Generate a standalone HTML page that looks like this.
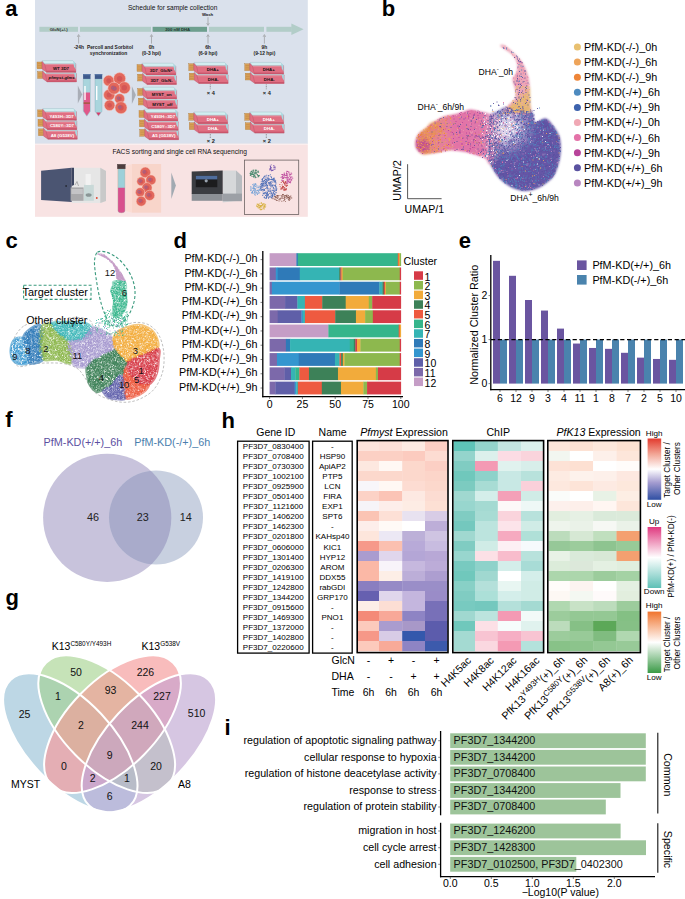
<!DOCTYPE html>
<html><head><meta charset="utf-8"><title>Figure</title>
<style>
html,body{margin:0;padding:0;background:#fff;}
body{width:685px;height:899px;overflow:hidden;}
svg{display:block;font-family:"Liberation Sans", sans-serif;}
</style></head><body>
<svg width="685" height="899" viewBox="0 0 685 899">
<text x="5.2" y="15.9" font-size="22" font-weight="bold">a</text>
<rect x="35.00" y="0.00" width="272.80" height="144.00" fill="#dae1ec"/>
<rect x="35.00" y="143.60" width="272.80" height="1.60" fill="#fbeeee"/>
<rect x="35.00" y="145.00" width="272.80" height="71.80" fill="#f8e3e3"/>
<text x="172.6" y="10.3" font-size="6.6" text-anchor="middle" fill="#111">Schedule for sample collection</text>
<rect x="39.40" y="26.80" width="38.60" height="5.00" fill="#b2cdc8"/>
<rect x="80.00" y="26.80" width="71.00" height="5.00" fill="#b2cdc8"/>
<rect x="152.60" y="26.80" width="54.40" height="5.00" fill="#6e9f8e"/>
<rect x="209.00" y="26.80" width="55.00" height="5.00" fill="#b2cdc8"/>
<rect x="266.40" y="26.80" width="25.40" height="5.00" fill="#b2cdc8"/>
<path d="M291.4 23.6 L303.6 29.3 L291.4 35 Z" fill="#b2cdc8"/>
<text x="58.7" y="30.9" font-size="4.3" text-anchor="middle" font-weight="bold" fill="#333">GlcN(+/-)</text>
<text x="177.7" y="30.9" font-size="4.3" text-anchor="middle" font-weight="bold" fill="#1e3a30">200 nM DHA</text>
<text x="207.6" y="15.9" font-size="4.3" text-anchor="middle" font-weight="bold" fill="#222">Wash</text>
<line x1="208" y1="17.2" x2="208" y2="24.2" stroke="#8c8c8c" stroke-width="0.6"/><path d="M206.7 23.2 L208 25.4 L209.3 23.2" fill="none" stroke="#8c8c8c" stroke-width="0.6"/>
<line x1="78.6" y1="35.800000000000004" x2="78.6" y2="43.6" stroke="#8c8c8c" stroke-width="0.6"/><path d="M77.3 36.800000000000004 L78.6 34.6 L79.89999999999999 36.800000000000004" fill="none" stroke="#8c8c8c" stroke-width="0.6"/>
<line x1="151.5" y1="35.800000000000004" x2="151.5" y2="43.6" stroke="#8c8c8c" stroke-width="0.6"/><path d="M150.2 36.800000000000004 L151.5 34.6 L152.8 36.800000000000004" fill="none" stroke="#8c8c8c" stroke-width="0.6"/>
<line x1="208" y1="35.800000000000004" x2="208" y2="43.6" stroke="#8c8c8c" stroke-width="0.6"/><path d="M206.7 36.800000000000004 L208 34.6 L209.3 36.800000000000004" fill="none" stroke="#8c8c8c" stroke-width="0.6"/>
<line x1="264.4" y1="35.800000000000004" x2="264.4" y2="43.6" stroke="#8c8c8c" stroke-width="0.6"/><path d="M263.09999999999997 36.800000000000004 L264.4 34.6 L265.7 36.800000000000004" fill="none" stroke="#8c8c8c" stroke-width="0.6"/>
<text x="79" y="48.9" font-size="4.9" text-anchor="middle" font-weight="bold" fill="#222">-24h</text>
<text x="151.5" y="48.9" font-size="4.9" text-anchor="middle" font-weight="bold" fill="#222">0h</text>
<text x="151.5" y="54.8" font-size="4.9" text-anchor="middle" font-weight="bold" fill="#222">(0-3 hpi)</text>
<text x="208" y="48.9" font-size="4.9" text-anchor="middle" font-weight="bold" fill="#222">6h</text>
<text x="208" y="54.8" font-size="4.9" text-anchor="middle" font-weight="bold" fill="#222">(6-9 hpi)</text>
<text x="264.4" y="48.9" font-size="4.9" text-anchor="middle" font-weight="bold" fill="#222">9h</text>
<text x="264.4" y="54.8" font-size="4.9" text-anchor="middle" font-weight="bold" fill="#222">(9-12 hpi)</text>
<text x="110" y="48.9" font-size="4.9" text-anchor="middle" font-weight="bold" fill="#222">Percoll and Sorbitol</text>
<text x="108.6" y="54.8" font-size="4.9" text-anchor="middle" font-weight="bold" fill="#222">synchronization</text>
<g transform="translate(37.60,70.20)"><rect x="0" y="1.4" width="5" height="6.8" fill="#dca25a" stroke="#a8742e" stroke-width="0.35"/><path d="M0.6 3 h3.8 M0.6 4.8 h3.8 M0.6 6.6 h3.8" stroke="#b07c38" stroke-width="0.4"/><path d="M5 0.6 L7.6 3.2 L38.8 3.2 L38.8 11.7 L9.6 11.7 L5 8.4 Z" fill="#e06f82" stroke="#b24a5e" stroke-width="0.35"/><path d="M9.6 11.7 L38.8 11.7 L38.8 10.2 L9.6 10.2 Z" fill="#c9566c"/><path d="M7.6 3.2 L38.8 3.2 L38.8 4.4 L8 4.4 Z" fill="#ea8e9c"/><path d="M7.6 3.2 L9.6 11.7" stroke="#b24a5e" stroke-width="0.35"/><path d="M5.2 0 L35.8 0 L38.8 3.2 L7.6 3.2 Z" fill="#d2edf0" stroke="#8fb4bc" stroke-width="0.35"/><path d="M36.2 0.5 L38.6 3.1 L38.6 9 L37 6 Z" fill="#a6d8e0"/><text x="24" y="9.0" font-size="4.4" font-weight="bold" text-anchor="middle" fill="#111"><tspan font-style="italic">pfmyst-glms</tspan></text></g>
<g transform="translate(37.00,60.60)"><rect x="0" y="1.4" width="5" height="6.8" fill="#dca25a" stroke="#a8742e" stroke-width="0.35"/><path d="M0.6 3 h3.8 M0.6 4.8 h3.8 M0.6 6.6 h3.8" stroke="#b07c38" stroke-width="0.4"/><path d="M5 0.6 L7.6 3.2 L38.8 3.2 L38.8 11.7 L9.6 11.7 L5 8.4 Z" fill="#e06f82" stroke="#b24a5e" stroke-width="0.35"/><path d="M9.6 11.7 L38.8 11.7 L38.8 10.2 L9.6 10.2 Z" fill="#c9566c"/><path d="M7.6 3.2 L38.8 3.2 L38.8 4.4 L8 4.4 Z" fill="#ea8e9c"/><path d="M7.6 3.2 L9.6 11.7" stroke="#b24a5e" stroke-width="0.35"/><path d="M5.2 0 L35.8 0 L38.8 3.2 L7.6 3.2 Z" fill="#d2edf0" stroke="#8fb4bc" stroke-width="0.35"/><path d="M36.2 0.5 L38.6 3.1 L38.6 9 L37 6 Z" fill="#a6d8e0"/><text x="24" y="9.0" font-size="4.4" font-weight="bold" text-anchor="middle" fill="#111">WT 3D7</text></g>
<g transform="translate(38.40,127.50)"><rect x="0" y="1.4" width="5" height="6.8" fill="#dca25a" stroke="#a8742e" stroke-width="0.35"/><path d="M0.6 3 h3.8 M0.6 4.8 h3.8 M0.6 6.6 h3.8" stroke="#b07c38" stroke-width="0.4"/><path d="M5 0.6 L7.6 3.2 L38.8 3.2 L38.8 11.7 L9.6 11.7 L5 8.4 Z" fill="#e06f82" stroke="#b24a5e" stroke-width="0.35"/><path d="M9.6 11.7 L38.8 11.7 L38.8 10.2 L9.6 10.2 Z" fill="#c9566c"/><path d="M7.6 3.2 L38.8 3.2 L38.8 4.4 L8 4.4 Z" fill="#ea8e9c"/><path d="M7.6 3.2 L9.6 11.7" stroke="#b24a5e" stroke-width="0.35"/><path d="M5.2 0 L35.8 0 L38.8 3.2 L7.6 3.2 Z" fill="#d2edf0" stroke="#8fb4bc" stroke-width="0.35"/><path d="M36.2 0.5 L38.6 3.1 L38.6 9 L37 6 Z" fill="#a6d8e0"/><text x="24" y="9.0" font-size="4.4" font-weight="bold" text-anchor="middle" fill="#fff">A8 (G538V)</text></g>
<g transform="translate(38.00,118.00)"><rect x="0" y="1.4" width="5" height="6.8" fill="#dca25a" stroke="#a8742e" stroke-width="0.35"/><path d="M0.6 3 h3.8 M0.6 4.8 h3.8 M0.6 6.6 h3.8" stroke="#b07c38" stroke-width="0.4"/><path d="M5 0.6 L7.6 3.2 L38.8 3.2 L38.8 11.7 L9.6 11.7 L5 8.4 Z" fill="#e06f82" stroke="#b24a5e" stroke-width="0.35"/><path d="M9.6 11.7 L38.8 11.7 L38.8 10.2 L9.6 10.2 Z" fill="#c9566c"/><path d="M7.6 3.2 L38.8 3.2 L38.8 4.4 L8 4.4 Z" fill="#ea8e9c"/><path d="M7.6 3.2 L9.6 11.7" stroke="#b24a5e" stroke-width="0.35"/><path d="M5.2 0 L35.8 0 L38.8 3.2 L7.6 3.2 Z" fill="#d2edf0" stroke="#8fb4bc" stroke-width="0.35"/><path d="M36.2 0.5 L38.6 3.1 L38.6 9 L37 6 Z" fill="#a6d8e0"/><text x="24" y="9.0" font-size="4.4" font-weight="bold" text-anchor="middle" fill="#fff">C580Y::3D7</text></g>
<g transform="translate(37.60,108.50)"><rect x="0" y="1.4" width="5" height="6.8" fill="#dca25a" stroke="#a8742e" stroke-width="0.35"/><path d="M0.6 3 h3.8 M0.6 4.8 h3.8 M0.6 6.6 h3.8" stroke="#b07c38" stroke-width="0.4"/><path d="M5 0.6 L7.6 3.2 L38.8 3.2 L38.8 11.7 L9.6 11.7 L5 8.4 Z" fill="#e06f82" stroke="#b24a5e" stroke-width="0.35"/><path d="M9.6 11.7 L38.8 11.7 L38.8 10.2 L9.6 10.2 Z" fill="#c9566c"/><path d="M7.6 3.2 L38.8 3.2 L38.8 4.4 L8 4.4 Z" fill="#ea8e9c"/><path d="M7.6 3.2 L9.6 11.7" stroke="#b24a5e" stroke-width="0.35"/><path d="M5.2 0 L35.8 0 L38.8 3.2 L7.6 3.2 Z" fill="#d2edf0" stroke="#8fb4bc" stroke-width="0.35"/><path d="M36.2 0.5 L38.6 3.1 L38.6 9 L37 6 Z" fill="#a6d8e0"/><text x="24" y="9.0" font-size="4.4" font-weight="bold" text-anchor="middle" fill="#fff">Y493H::3D7</text></g>
<g transform="translate(137.60,72.80)"><rect x="0" y="1.4" width="5" height="6.8" fill="#dca25a" stroke="#a8742e" stroke-width="0.35"/><path d="M0.6 3 h3.8 M0.6 4.8 h3.8 M0.6 6.6 h3.8" stroke="#b07c38" stroke-width="0.4"/><path d="M5 0.6 L7.6 3.2 L38.8 3.2 L38.8 11.7 L9.6 11.7 L5 8.4 Z" fill="#e06f82" stroke="#b24a5e" stroke-width="0.35"/><path d="M9.6 11.7 L38.8 11.7 L38.8 10.2 L9.6 10.2 Z" fill="#c9566c"/><path d="M7.6 3.2 L38.8 3.2 L38.8 4.4 L8 4.4 Z" fill="#ea8e9c"/><path d="M7.6 3.2 L9.6 11.7" stroke="#b24a5e" stroke-width="0.35"/><path d="M5.2 0 L35.8 0 L38.8 3.2 L7.6 3.2 Z" fill="#d2edf0" stroke="#8fb4bc" stroke-width="0.35"/><path d="M36.2 0.5 L38.6 3.1 L38.6 9 L37 6 Z" fill="#a6d8e0"/><text x="24" y="9.0" font-size="4.4" font-weight="bold" text-anchor="middle" fill="#111">3D7_GlcN-</text></g>
<g transform="translate(137.00,63.20)"><rect x="0" y="1.4" width="5" height="6.8" fill="#dca25a" stroke="#a8742e" stroke-width="0.35"/><path d="M0.6 3 h3.8 M0.6 4.8 h3.8 M0.6 6.6 h3.8" stroke="#b07c38" stroke-width="0.4"/><path d="M5 0.6 L7.6 3.2 L38.8 3.2 L38.8 11.7 L9.6 11.7 L5 8.4 Z" fill="#e06f82" stroke="#b24a5e" stroke-width="0.35"/><path d="M9.6 11.7 L38.8 11.7 L38.8 10.2 L9.6 10.2 Z" fill="#c9566c"/><path d="M7.6 3.2 L38.8 3.2 L38.8 4.4 L8 4.4 Z" fill="#ea8e9c"/><path d="M7.6 3.2 L9.6 11.7" stroke="#b24a5e" stroke-width="0.35"/><path d="M5.2 0 L35.8 0 L38.8 3.2 L7.6 3.2 Z" fill="#d2edf0" stroke="#8fb4bc" stroke-width="0.35"/><path d="M36.2 0.5 L38.6 3.1 L38.6 9 L37 6 Z" fill="#a6d8e0"/><text x="24" y="9.0" font-size="4.4" font-weight="bold" text-anchor="middle" fill="#111">3D7_GlcN<tspan font-size="3" dy="-1.5">+</tspan></text></g>
<g transform="translate(138.40,96.80)"><rect x="0" y="1.4" width="5" height="6.8" fill="#dca25a" stroke="#a8742e" stroke-width="0.35"/><path d="M0.6 3 h3.8 M0.6 4.8 h3.8 M0.6 6.6 h3.8" stroke="#b07c38" stroke-width="0.4"/><path d="M5 0.6 L7.6 3.2 L38.8 3.2 L38.8 11.7 L9.6 11.7 L5 8.4 Z" fill="#e06f82" stroke="#b24a5e" stroke-width="0.35"/><path d="M9.6 11.7 L38.8 11.7 L38.8 10.2 L9.6 10.2 Z" fill="#c9566c"/><path d="M7.6 3.2 L38.8 3.2 L38.8 4.4 L8 4.4 Z" fill="#ea8e9c"/><path d="M7.6 3.2 L9.6 11.7" stroke="#b24a5e" stroke-width="0.35"/><path d="M5.2 0 L35.8 0 L38.8 3.2 L7.6 3.2 Z" fill="#d2edf0" stroke="#8fb4bc" stroke-width="0.35"/><path d="M36.2 0.5 L38.6 3.1 L38.6 9 L37 6 Z" fill="#a6d8e0"/><text x="24" y="9.0" font-size="4.4" font-weight="bold" text-anchor="middle" fill="#111">MYST_off</text></g>
<g transform="translate(137.80,87.20)"><rect x="0" y="1.4" width="5" height="6.8" fill="#dca25a" stroke="#a8742e" stroke-width="0.35"/><path d="M0.6 3 h3.8 M0.6 4.8 h3.8 M0.6 6.6 h3.8" stroke="#b07c38" stroke-width="0.4"/><path d="M5 0.6 L7.6 3.2 L38.8 3.2 L38.8 11.7 L9.6 11.7 L5 8.4 Z" fill="#e06f82" stroke="#b24a5e" stroke-width="0.35"/><path d="M9.6 11.7 L38.8 11.7 L38.8 10.2 L9.6 10.2 Z" fill="#c9566c"/><path d="M7.6 3.2 L38.8 3.2 L38.8 4.4 L8 4.4 Z" fill="#ea8e9c"/><path d="M7.6 3.2 L9.6 11.7" stroke="#b24a5e" stroke-width="0.35"/><path d="M5.2 0 L35.8 0 L38.8 3.2 L7.6 3.2 Z" fill="#d2edf0" stroke="#8fb4bc" stroke-width="0.35"/><path d="M36.2 0.5 L38.6 3.1 L38.6 9 L37 6 Z" fill="#a6d8e0"/><text x="24" y="9.0" font-size="4.4" font-weight="bold" text-anchor="middle" fill="#111">MYST_on</text></g>
<g transform="translate(139.80,128.00)"><rect x="0" y="1.4" width="5" height="6.8" fill="#dca25a" stroke="#a8742e" stroke-width="0.35"/><path d="M0.6 3 h3.8 M0.6 4.8 h3.8 M0.6 6.6 h3.8" stroke="#b07c38" stroke-width="0.4"/><path d="M5 0.6 L7.6 3.2 L38.8 3.2 L38.8 11.7 L9.6 11.7 L5 8.4 Z" fill="#e06f82" stroke="#b24a5e" stroke-width="0.35"/><path d="M9.6 11.7 L38.8 11.7 L38.8 10.2 L9.6 10.2 Z" fill="#c9566c"/><path d="M7.6 3.2 L38.8 3.2 L38.8 4.4 L8 4.4 Z" fill="#ea8e9c"/><path d="M7.6 3.2 L9.6 11.7" stroke="#b24a5e" stroke-width="0.35"/><path d="M5.2 0 L35.8 0 L38.8 3.2 L7.6 3.2 Z" fill="#d2edf0" stroke="#8fb4bc" stroke-width="0.35"/><path d="M36.2 0.5 L38.6 3.1 L38.6 9 L37 6 Z" fill="#a6d8e0"/><text x="24" y="9.0" font-size="4.4" font-weight="bold" text-anchor="middle" fill="#fff">A5 (G538V)</text></g>
<g transform="translate(139.40,118.60)"><rect x="0" y="1.4" width="5" height="6.8" fill="#dca25a" stroke="#a8742e" stroke-width="0.35"/><path d="M0.6 3 h3.8 M0.6 4.8 h3.8 M0.6 6.6 h3.8" stroke="#b07c38" stroke-width="0.4"/><path d="M5 0.6 L7.6 3.2 L38.8 3.2 L38.8 11.7 L9.6 11.7 L5 8.4 Z" fill="#e06f82" stroke="#b24a5e" stroke-width="0.35"/><path d="M9.6 11.7 L38.8 11.7 L38.8 10.2 L9.6 10.2 Z" fill="#c9566c"/><path d="M7.6 3.2 L38.8 3.2 L38.8 4.4 L8 4.4 Z" fill="#ea8e9c"/><path d="M7.6 3.2 L9.6 11.7" stroke="#b24a5e" stroke-width="0.35"/><path d="M5.2 0 L35.8 0 L38.8 3.2 L7.6 3.2 Z" fill="#d2edf0" stroke="#8fb4bc" stroke-width="0.35"/><path d="M36.2 0.5 L38.6 3.1 L38.6 9 L37 6 Z" fill="#a6d8e0"/><text x="24" y="9.0" font-size="4.4" font-weight="bold" text-anchor="middle" fill="#fff">C580Y::3D7</text></g>
<g transform="translate(139.00,109.20)"><rect x="0" y="1.4" width="5" height="6.8" fill="#dca25a" stroke="#a8742e" stroke-width="0.35"/><path d="M0.6 3 h3.8 M0.6 4.8 h3.8 M0.6 6.6 h3.8" stroke="#b07c38" stroke-width="0.4"/><path d="M5 0.6 L7.6 3.2 L38.8 3.2 L38.8 11.7 L9.6 11.7 L5 8.4 Z" fill="#e06f82" stroke="#b24a5e" stroke-width="0.35"/><path d="M9.6 11.7 L38.8 11.7 L38.8 10.2 L9.6 10.2 Z" fill="#c9566c"/><path d="M7.6 3.2 L38.8 3.2 L38.8 4.4 L8 4.4 Z" fill="#ea8e9c"/><path d="M7.6 3.2 L9.6 11.7" stroke="#b24a5e" stroke-width="0.35"/><path d="M5.2 0 L35.8 0 L38.8 3.2 L7.6 3.2 Z" fill="#d2edf0" stroke="#8fb4bc" stroke-width="0.35"/><path d="M36.2 0.5 L38.6 3.1 L38.6 9 L37 6 Z" fill="#a6d8e0"/><text x="24" y="9.0" font-size="4.4" font-weight="bold" text-anchor="middle" fill="#fff">Y493H::3D7</text></g>
<g transform="translate(189.30,71.80)"><rect x="0" y="1.4" width="5" height="6.8" fill="#dca25a" stroke="#a8742e" stroke-width="0.35"/><path d="M0.6 3 h3.8 M0.6 4.8 h3.8 M0.6 6.6 h3.8" stroke="#b07c38" stroke-width="0.4"/><path d="M5 0.6 L7.6 3.2 L38.8 3.2 L38.8 11.7 L9.6 11.7 L5 8.4 Z" fill="#e06f82" stroke="#b24a5e" stroke-width="0.35"/><path d="M9.6 11.7 L38.8 11.7 L38.8 10.2 L9.6 10.2 Z" fill="#c9566c"/><path d="M7.6 3.2 L38.8 3.2 L38.8 4.4 L8 4.4 Z" fill="#ea8e9c"/><path d="M7.6 3.2 L9.6 11.7" stroke="#b24a5e" stroke-width="0.35"/><path d="M5.2 0 L35.8 0 L38.8 3.2 L7.6 3.2 Z" fill="#d2edf0" stroke="#8fb4bc" stroke-width="0.35"/><path d="M36.2 0.5 L38.6 3.1 L38.6 9 L37 6 Z" fill="#a6d8e0"/><text x="24" y="9.0" font-size="4.4" font-weight="bold" text-anchor="middle" fill="#111">DHA-</text></g>
<g transform="translate(188.80,62.40)"><rect x="0" y="1.4" width="5" height="6.8" fill="#dca25a" stroke="#a8742e" stroke-width="0.35"/><path d="M0.6 3 h3.8 M0.6 4.8 h3.8 M0.6 6.6 h3.8" stroke="#b07c38" stroke-width="0.4"/><path d="M5 0.6 L7.6 3.2 L38.8 3.2 L38.8 11.7 L9.6 11.7 L5 8.4 Z" fill="#e06f82" stroke="#b24a5e" stroke-width="0.35"/><path d="M9.6 11.7 L38.8 11.7 L38.8 10.2 L9.6 10.2 Z" fill="#c9566c"/><path d="M7.6 3.2 L38.8 3.2 L38.8 4.4 L8 4.4 Z" fill="#ea8e9c"/><path d="M7.6 3.2 L9.6 11.7" stroke="#b24a5e" stroke-width="0.35"/><path d="M5.2 0 L35.8 0 L38.8 3.2 L7.6 3.2 Z" fill="#d2edf0" stroke="#8fb4bc" stroke-width="0.35"/><path d="M36.2 0.5 L38.6 3.1 L38.6 9 L37 6 Z" fill="#a6d8e0"/><text x="24" y="9.0" font-size="4.4" font-weight="bold" text-anchor="middle" fill="#111">DHA+</text></g>
<g transform="translate(189.30,121.40)"><rect x="0" y="1.4" width="5" height="6.8" fill="#dca25a" stroke="#a8742e" stroke-width="0.35"/><path d="M0.6 3 h3.8 M0.6 4.8 h3.8 M0.6 6.6 h3.8" stroke="#b07c38" stroke-width="0.4"/><path d="M5 0.6 L7.6 3.2 L38.8 3.2 L38.8 11.7 L9.6 11.7 L5 8.4 Z" fill="#e06f82" stroke="#b24a5e" stroke-width="0.35"/><path d="M9.6 11.7 L38.8 11.7 L38.8 10.2 L9.6 10.2 Z" fill="#c9566c"/><path d="M7.6 3.2 L38.8 3.2 L38.8 4.4 L8 4.4 Z" fill="#ea8e9c"/><path d="M7.6 3.2 L9.6 11.7" stroke="#b24a5e" stroke-width="0.35"/><path d="M5.2 0 L35.8 0 L38.8 3.2 L7.6 3.2 Z" fill="#d2edf0" stroke="#8fb4bc" stroke-width="0.35"/><path d="M36.2 0.5 L38.6 3.1 L38.6 9 L37 6 Z" fill="#a6d8e0"/><text x="24" y="9.0" font-size="4.4" font-weight="bold" text-anchor="middle" fill="#fff">DHA-</text></g>
<g transform="translate(188.80,112.00)"><rect x="0" y="1.4" width="5" height="6.8" fill="#dca25a" stroke="#a8742e" stroke-width="0.35"/><path d="M0.6 3 h3.8 M0.6 4.8 h3.8 M0.6 6.6 h3.8" stroke="#b07c38" stroke-width="0.4"/><path d="M5 0.6 L7.6 3.2 L38.8 3.2 L38.8 11.7 L9.6 11.7 L5 8.4 Z" fill="#e06f82" stroke="#b24a5e" stroke-width="0.35"/><path d="M9.6 11.7 L38.8 11.7 L38.8 10.2 L9.6 10.2 Z" fill="#c9566c"/><path d="M7.6 3.2 L38.8 3.2 L38.8 4.4 L8 4.4 Z" fill="#ea8e9c"/><path d="M7.6 3.2 L9.6 11.7" stroke="#b24a5e" stroke-width="0.35"/><path d="M5.2 0 L35.8 0 L38.8 3.2 L7.6 3.2 Z" fill="#d2edf0" stroke="#8fb4bc" stroke-width="0.35"/><path d="M36.2 0.5 L38.6 3.1 L38.6 9 L37 6 Z" fill="#a6d8e0"/><text x="24" y="9.0" font-size="4.4" font-weight="bold" text-anchor="middle" fill="#fff">DHA+</text></g>
<g transform="translate(245.30,71.80)"><rect x="0" y="1.4" width="5" height="6.8" fill="#dca25a" stroke="#a8742e" stroke-width="0.35"/><path d="M0.6 3 h3.8 M0.6 4.8 h3.8 M0.6 6.6 h3.8" stroke="#b07c38" stroke-width="0.4"/><path d="M5 0.6 L7.6 3.2 L38.8 3.2 L38.8 11.7 L9.6 11.7 L5 8.4 Z" fill="#e06f82" stroke="#b24a5e" stroke-width="0.35"/><path d="M9.6 11.7 L38.8 11.7 L38.8 10.2 L9.6 10.2 Z" fill="#c9566c"/><path d="M7.6 3.2 L38.8 3.2 L38.8 4.4 L8 4.4 Z" fill="#ea8e9c"/><path d="M7.6 3.2 L9.6 11.7" stroke="#b24a5e" stroke-width="0.35"/><path d="M5.2 0 L35.8 0 L38.8 3.2 L7.6 3.2 Z" fill="#d2edf0" stroke="#8fb4bc" stroke-width="0.35"/><path d="M36.2 0.5 L38.6 3.1 L38.6 9 L37 6 Z" fill="#a6d8e0"/><text x="24" y="9.0" font-size="4.4" font-weight="bold" text-anchor="middle" fill="#111">DHA-</text></g>
<g transform="translate(244.80,62.40)"><rect x="0" y="1.4" width="5" height="6.8" fill="#dca25a" stroke="#a8742e" stroke-width="0.35"/><path d="M0.6 3 h3.8 M0.6 4.8 h3.8 M0.6 6.6 h3.8" stroke="#b07c38" stroke-width="0.4"/><path d="M5 0.6 L7.6 3.2 L38.8 3.2 L38.8 11.7 L9.6 11.7 L5 8.4 Z" fill="#e06f82" stroke="#b24a5e" stroke-width="0.35"/><path d="M9.6 11.7 L38.8 11.7 L38.8 10.2 L9.6 10.2 Z" fill="#c9566c"/><path d="M7.6 3.2 L38.8 3.2 L38.8 4.4 L8 4.4 Z" fill="#ea8e9c"/><path d="M7.6 3.2 L9.6 11.7" stroke="#b24a5e" stroke-width="0.35"/><path d="M5.2 0 L35.8 0 L38.8 3.2 L7.6 3.2 Z" fill="#d2edf0" stroke="#8fb4bc" stroke-width="0.35"/><path d="M36.2 0.5 L38.6 3.1 L38.6 9 L37 6 Z" fill="#a6d8e0"/><text x="24" y="9.0" font-size="4.4" font-weight="bold" text-anchor="middle" fill="#111">DHA+</text></g>
<g transform="translate(245.30,121.40)"><rect x="0" y="1.4" width="5" height="6.8" fill="#dca25a" stroke="#a8742e" stroke-width="0.35"/><path d="M0.6 3 h3.8 M0.6 4.8 h3.8 M0.6 6.6 h3.8" stroke="#b07c38" stroke-width="0.4"/><path d="M5 0.6 L7.6 3.2 L38.8 3.2 L38.8 11.7 L9.6 11.7 L5 8.4 Z" fill="#e06f82" stroke="#b24a5e" stroke-width="0.35"/><path d="M9.6 11.7 L38.8 11.7 L38.8 10.2 L9.6 10.2 Z" fill="#c9566c"/><path d="M7.6 3.2 L38.8 3.2 L38.8 4.4 L8 4.4 Z" fill="#ea8e9c"/><path d="M7.6 3.2 L9.6 11.7" stroke="#b24a5e" stroke-width="0.35"/><path d="M5.2 0 L35.8 0 L38.8 3.2 L7.6 3.2 Z" fill="#d2edf0" stroke="#8fb4bc" stroke-width="0.35"/><path d="M36.2 0.5 L38.6 3.1 L38.6 9 L37 6 Z" fill="#a6d8e0"/><text x="24" y="9.0" font-size="4.4" font-weight="bold" text-anchor="middle" fill="#fff">DHA-</text></g>
<g transform="translate(244.80,112.00)"><rect x="0" y="1.4" width="5" height="6.8" fill="#dca25a" stroke="#a8742e" stroke-width="0.35"/><path d="M0.6 3 h3.8 M0.6 4.8 h3.8 M0.6 6.6 h3.8" stroke="#b07c38" stroke-width="0.4"/><path d="M5 0.6 L7.6 3.2 L38.8 3.2 L38.8 11.7 L9.6 11.7 L5 8.4 Z" fill="#e06f82" stroke="#b24a5e" stroke-width="0.35"/><path d="M9.6 11.7 L38.8 11.7 L38.8 10.2 L9.6 10.2 Z" fill="#c9566c"/><path d="M7.6 3.2 L38.8 3.2 L38.8 4.4 L8 4.4 Z" fill="#ea8e9c"/><path d="M7.6 3.2 L9.6 11.7" stroke="#b24a5e" stroke-width="0.35"/><path d="M5.2 0 L35.8 0 L38.8 3.2 L7.6 3.2 Z" fill="#d2edf0" stroke="#8fb4bc" stroke-width="0.35"/><path d="M36.2 0.5 L38.6 3.1 L38.6 9 L37 6 Z" fill="#a6d8e0"/><text x="24" y="9.0" font-size="4.4" font-weight="bold" text-anchor="middle" fill="#fff">DHA+</text></g>
<line x1="210.3" y1="84.5" x2="210.3" y2="89.5" stroke="#444" stroke-width="0.6" stroke-dasharray="0.8,0.8"/>
<line x1="210.3" y1="134" x2="210.3" y2="138" stroke="#444" stroke-width="0.6" stroke-dasharray="0.8,0.8"/>
<text x="210.8" y="95.2" font-size="5.6" text-anchor="middle" font-weight="bold" fill="#222">× 4</text>
<text x="210.8" y="142.6" font-size="5.6" text-anchor="middle" font-weight="bold" fill="#222">× 2</text>
<line x1="266.3" y1="84.5" x2="266.3" y2="89.5" stroke="#444" stroke-width="0.6" stroke-dasharray="0.8,0.8"/>
<line x1="266.3" y1="134" x2="266.3" y2="138" stroke="#444" stroke-width="0.6" stroke-dasharray="0.8,0.8"/>
<text x="266.8" y="95.2" font-size="5.6" text-anchor="middle" font-weight="bold" fill="#222">× 4</text>
<text x="266.8" y="142.6" font-size="5.6" text-anchor="middle" font-weight="bold" fill="#222">× 2</text>
<path d="M77.8 85.4 L82.2 94.4 L77.8 103.4 Z" fill="#a9aeb7"/>
<path d="M131.9 86.3 L135.9 95.1 L131.9 103.9 Z" fill="#a9aeb7"/>
<path d="M83.3 78.8 h7 v32.4 l-3.5 5 l-3.5 -5 Z" fill="#a9d5dd" stroke="#7fa8b4" stroke-width="0.35"/>
<path d="M83.6 92.5 h6.4 v18.6 l-3.2 4.7 l-3.2 -4.7 Z" fill="#e0588a"/>
<rect x="83.60" y="102.40" width="6.40" height="1.40" fill="#a0583a"/>
<rect x="84.30" y="86.00" width="1.40" height="14.00" fill="#ffffff"/>
<rect x="83.10" y="74.00" width="7.40" height="4.90" fill="#3e5a8c"/>
<rect x="83.10" y="74.00" width="7.40" height="1.20" fill="#5a78a8"/>
<path d="M95.0 78.8 h7 v32.4 l-3.5 5 l-3.5 -5 Z" fill="#a9d5dd" stroke="#7fa8b4" stroke-width="0.35"/>
<path d="M96.2 112.4 h4.6 l-2.3 3.4 Z" fill="#d83c6a"/>
<rect x="96.00" y="86.00" width="1.40" height="14.00" fill="#ffffff"/>
<rect x="94.80" y="74.00" width="7.40" height="4.90" fill="#3e5a8c"/>
<rect x="94.80" y="74.00" width="7.40" height="1.20" fill="#5a78a8"/>
<circle cx="108.7" cy="80.7" r="5.4" fill="#e2685c" stroke="#f6c8c0" stroke-width="0.5"/><circle cx="108.7" cy="80.7" r="2.43" fill="#d45656"/>
<circle cx="119.6" cy="78.6" r="6" fill="#e2685c" stroke="#f6c8c0" stroke-width="0.5"/><circle cx="119.6" cy="78.6" r="2.70" fill="#d45656"/>
<circle cx="124.3" cy="87.8" r="6" fill="#e2685c" stroke="#f6c8c0" stroke-width="0.5"/><circle cx="124.3" cy="87.8" r="2.70" fill="#d45656"/>
<circle cx="109.2" cy="94.9" r="5.6" fill="#e2685c" stroke="#f6c8c0" stroke-width="0.5"/><circle cx="109.2" cy="94.9" r="2.52" fill="#d45656"/>
<circle cx="119.6" cy="98.7" r="5" fill="#e2685c" stroke="#f6c8c0" stroke-width="0.5"/><circle cx="119.6" cy="98.7" r="2.25" fill="#d45656"/><circle cx="118.39999999999999" cy="98.10000000000001" r="1.3" fill="none" stroke="#6a6ab8" stroke-width="0.5"/>
<circle cx="109.6" cy="105.3" r="5.3" fill="#e2685c" stroke="#f6c8c0" stroke-width="0.5"/><circle cx="109.6" cy="105.3" r="2.38" fill="#d45656"/>
<circle cx="121" cy="107.7" r="6" fill="#e2685c" stroke="#f6c8c0" stroke-width="0.5"/><circle cx="121" cy="107.7" r="2.70" fill="#d45656"/><circle cx="119.8" cy="107.10000000000001" r="1.3" fill="none" stroke="#6a6ab8" stroke-width="0.5"/>
<circle cx="113.9" cy="88.2" r="6" fill="#e2685c" stroke="#f6c8c0" stroke-width="0.5"/><circle cx="113.9" cy="88.2" r="2.70" fill="#d45656"/><circle cx="112.7" cy="87.60000000000001" r="1.3" fill="none" stroke="#6a6ab8" stroke-width="0.5"/><circle cx="114.9" cy="88.80000000000001" r="1.3" fill="none" stroke="#6a6ab8" stroke-width="0.5"/>
<text x="179.7" y="153.9" font-size="6.65" text-anchor="middle" fill="#111">FACS sorting and single cell RNA sequencing</text>
<path d="M71.7 167.7 L100.3 167.7 L106 171 L106 201 L100.3 202.9 L71.7 202.9 Z" fill="#e6e6e6"/>
<path d="M100.3 167.7 L106 171 L106 201 L100.3 202.9 Z" fill="#c9c9c9"/>
<path d="M41.1 170.7 L71.7 167.7 L71.7 201.9 L41.1 199.9 Z" fill="#4b5572"/>
<path d="M71.7 167.7 L74 167.7 L74 185 L71.7 186 Z" fill="#3c4560"/>
<circle cx="66.1" cy="186" r="0.8" fill="#111"/>
<rect x="70.60" y="187.40" width="13.00" height="13.40" fill="#a9a9ab"/>
<rect x="71.40" y="189.00" width="11.40" height="5.00" fill="#c4c4c6"/>
<rect x="84.00" y="184.80" width="9.80" height="16.00" fill="#c9d9d8"/>
<rect x="85.60" y="174.00" width="5.20" height="11.00" fill="#f2f2f2"/>
<ellipse cx="88.6" cy="195" rx="3" ry="1.8" fill="#8a9696"/>
<circle cx="96.8" cy="198" r="0.9" fill="#e0452c"/>
<path d="M75 185 L77 181.5 L78.5 186" stroke="#888" stroke-width="0.6" fill="none"/>
<path d="M126 166 L132 164 L132 212.7 L126 211 Z" fill="#fbdcd4"/>
<path d="M117.9 168.8 h7.1 v42 a3.55 2 0 0 1 -7.1 0 Z" fill="#9dd0d9" stroke="#c8a890" stroke-width="0.4"/>
<path d="M118.1 187.7 h6.7 v23.1 a3.35 1.9 0 0 1 -6.7 0 Z" fill="#d8508c"/>
<rect x="117.20" y="164.00" width="8.30" height="4.90" fill="#4c3e3e"/>
<rect x="117.20" y="164.00" width="8.30" height="1.00" fill="#6a5a5a"/>
<rect x="132.00" y="164.00" width="29.10" height="48.70" fill="#f8d5ca"/>
<circle cx="145.3" cy="172.4" r="5.3" fill="#e2685c" stroke="#f8d0c4" stroke-width="0.5"/><circle cx="145.3" cy="172.4" r="2.38" fill="#d45656"/><circle cx="144.10000000000002" cy="171.8" r="1.3" fill="none" stroke="#6a6ab8" stroke-width="0.5"/>
<circle cx="141.2" cy="181.4" r="4.4" fill="#e2685c" stroke="#f8d0c4" stroke-width="0.5"/><circle cx="141.2" cy="181.4" r="1.98" fill="#d45656"/><circle cx="140.0" cy="180.8" r="1.3" fill="none" stroke="#6a6ab8" stroke-width="0.5"/>
<circle cx="150.9" cy="180" r="5.1" fill="#e2685c" stroke="#f8d0c4" stroke-width="0.5"/><circle cx="150.9" cy="180" r="2.29" fill="#d45656"/><circle cx="149.70000000000002" cy="179.4" r="1.3" fill="none" stroke="#6a6ab8" stroke-width="0.5"/>
<circle cx="147" cy="187.7" r="5.1" fill="#e2685c" stroke="#f8d0c4" stroke-width="0.5"/><circle cx="147" cy="187.7" r="2.29" fill="#d45656"/><circle cx="145.8" cy="187.1" r="1.3" fill="none" stroke="#6a6ab8" stroke-width="0.5"/>
<circle cx="140.1" cy="192.3" r="4.6" fill="#e2685c" stroke="#f8d0c4" stroke-width="0.5"/><circle cx="140.1" cy="192.3" r="2.07" fill="#d45656"/><circle cx="138.9" cy="191.70000000000002" r="1.3" fill="none" stroke="#6a6ab8" stroke-width="0.5"/>
<circle cx="149.6" cy="195.4" r="5.1" fill="#e2685c" stroke="#f8d0c4" stroke-width="0.5"/><circle cx="149.6" cy="195.4" r="2.29" fill="#d45656"/><circle cx="148.4" cy="194.8" r="1.3" fill="none" stroke="#6a6ab8" stroke-width="0.5"/>
<circle cx="141.2" cy="201.2" r="5" fill="#e2685c" stroke="#f8d0c4" stroke-width="0.5"/><circle cx="141.2" cy="201.2" r="2.25" fill="#d45656"/><circle cx="140.0" cy="200.6" r="1.3" fill="none" stroke="#6a6ab8" stroke-width="0.5"/>
<path d="M171.3 172.4 L175.9 185.6 L171.3 198.9 Z" fill="#a2aab2"/>
<path d="M222.7 170.4 L236 170.4 L242 176 L242 198 L236 201 L222.7 202.5 Z" fill="#d6d8da"/>
<path d="M236 170.4 L242 176 L242 198 L236 201 Z" fill="#b8bcc0"/>
<rect x="191.70" y="193.60" width="31.00" height="7.20" fill="#8c9096"/>
<rect x="222.70" y="193.60" width="19.30" height="7.60" fill="#9ca0a6"/>
<path d="M191.7 171.6 L222.7 170.4 L222.7 193.9 L191.7 193.9 Z" fill="#3b3d42"/>
<rect x="195.80" y="175.80" width="21.50" height="11.40" fill="#1c1c1e"/>
<rect x="195.80" y="175.80" width="21.50" height="3.60" fill="#4f6d9c"/>
<circle cx="206.2" cy="180.8" r="1.6" fill="#9aa4b0"/>
<rect x="244.4" y="160.1" width="54.3" height="54.3" fill="#f9e3e3" stroke="#6c6262" stroke-width="0.8"/>
<path d="M252.6 170.5h.9v.9h-.9zM255.9 169.8h.9v.9h-.9zM254.8 172.3h.9v.9h-.9zM250.0 173.5h.9v.9h-.9zM249.8 172.8h.9v.9h-.9zM253.6 176.1h.9v.9h-.9zM250.6 171.1h.9v.9h-.9zM255.7 177.2h.9v.9h-.9zM255.2 172.5h.9v.9h-.9zM258.0 171.6h.9v.9h-.9zM252.5 176.1h.9v.9h-.9zM251.2 174.1h.9v.9h-.9zM255.8 172.3h.9v.9h-.9zM254.9 169.7h.9v.9h-.9zM256.2 172.8h.9v.9h-.9zM252.5 174.1h.9v.9h-.9zM253.9 171.7h.9v.9h-.9zM257.3 175.1h.9v.9h-.9zM251.8 174.0h.9v.9h-.9zM254.7 176.6h.9v.9h-.9zM256.7 171.6h.9v.9h-.9zM253.6 175.6h.9v.9h-.9zM250.9 173.3h.9v.9h-.9zM249.8 174.8h.9v.9h-.9zM257.0 174.0h.9v.9h-.9zM258.2 171.8h.9v.9h-.9zM256.4 174.2h.9v.9h-.9zM255.2 173.0h.9v.9h-.9zM254.1 174.8h.9v.9h-.9zM250.0 175.1h.9v.9h-.9zM257.6 171.6h.9v.9h-.9zM253.3 174.8h.9v.9h-.9zM249.6 173.1h.9v.9h-.9zM250.7 171.3h.9v.9h-.9zM253.3 176.5h.9v.9h-.9zM250.2 173.0h.9v.9h-.9zM254.9 176.6h.9v.9h-.9zM257.6 176.5h.9v.9h-.9zM252.2 172.7h.9v.9h-.9zM253.0 176.6h.9v.9h-.9zM251.2 171.1h.9v.9h-.9zM251.7 173.3h.9v.9h-.9zM255.3 171.4h.9v.9h-.9zM253.1 174.0h.9v.9h-.9zM258.9 175.0h.9v.9h-.9zM254.6 174.4h.9v.9h-.9zM256.2 169.7h.9v.9h-.9zM258.4 175.8h.9v.9h-.9zM258.1 175.9h.9v.9h-.9zM253.3 172.6h.9v.9h-.9zM250.4 174.5h.9v.9h-.9zM251.5 170.6h.9v.9h-.9zM252.8 169.6h.9v.9h-.9zM250.4 172.3h.9v.9h-.9zM255.5 170.4h.9v.9h-.9zM251.9 172.1h.9v.9h-.9zM253.0 170.2h.9v.9h-.9zM254.1 173.3h.9v.9h-.9zM252.8 171.4h.9v.9h-.9zM257.7 170.6h.9v.9h-.9zM254.7 170.4h.9v.9h-.9zM254.8 169.4h.9v.9h-.9zM254.7 177.4h.9v.9h-.9zM258.0 175.0h.9v.9h-.9zM252.0 172.3h.9v.9h-.9zM251.1 175.7h.9v.9h-.9zM254.7 175.7h.9v.9h-.9zM252.7 171.1h.9v.9h-.9zM257.9 176.0h.9v.9h-.9zM257.6 175.4h.9v.9h-.9z" fill="#4a8a70"/>
<path d="M270.0 167.5h.9v.9h-.9zM270.8 164.4h.9v.9h-.9zM270.2 168.6h.9v.9h-.9zM274.6 167.1h.9v.9h-.9zM274.6 166.5h.9v.9h-.9zM269.9 165.7h.9v.9h-.9zM269.8 165.5h.9v.9h-.9zM272.5 170.0h.9v.9h-.9zM273.9 167.3h.9v.9h-.9zM272.7 169.3h.9v.9h-.9zM269.0 168.4h.9v.9h-.9zM274.3 169.2h.9v.9h-.9zM273.3 167.3h.9v.9h-.9zM269.6 169.3h.9v.9h-.9zM270.6 169.3h.9v.9h-.9zM274.7 166.7h.9v.9h-.9zM271.1 170.3h.9v.9h-.9zM273.1 165.3h.9v.9h-.9zM269.4 169.5h.9v.9h-.9zM270.7 167.7h.9v.9h-.9zM274.7 168.4h.9v.9h-.9zM271.9 170.2h.9v.9h-.9zM271.3 169.8h.9v.9h-.9zM273.8 165.6h.9v.9h-.9zM270.1 166.1h.9v.9h-.9zM270.0 168.0h.9v.9h-.9zM270.2 166.9h.9v.9h-.9zM270.8 167.1h.9v.9h-.9zM272.2 170.0h.9v.9h-.9zM271.2 170.1h.9v.9h-.9z" fill="#7858b0"/>
<path d="M286.6 177.6h.9v.9h-.9zM286.9 171.0h.9v.9h-.9zM285.9 173.1h.9v.9h-.9zM282.7 176.9h.9v.9h-.9zM289.3 177.9h.9v.9h-.9zM284.5 177.4h.9v.9h-.9zM287.3 180.8h.9v.9h-.9zM281.9 178.0h.9v.9h-.9zM283.6 174.3h.9v.9h-.9zM289.9 177.3h.9v.9h-.9zM287.3 180.5h.9v.9h-.9zM291.5 176.5h.9v.9h-.9zM288.0 177.3h.9v.9h-.9zM286.7 179.7h.9v.9h-.9zM286.0 177.6h.9v.9h-.9zM286.3 182.9h.9v.9h-.9zM289.0 182.0h.9v.9h-.9zM287.3 182.9h.9v.9h-.9zM290.7 172.6h.9v.9h-.9zM282.1 176.5h.9v.9h-.9zM281.5 173.9h.9v.9h-.9zM281.5 179.4h.9v.9h-.9zM290.0 182.3h.9v.9h-.9zM282.5 180.0h.9v.9h-.9zM288.5 172.6h.9v.9h-.9zM285.4 177.0h.9v.9h-.9zM282.5 176.3h.9v.9h-.9zM286.8 175.1h.9v.9h-.9zM282.9 174.9h.9v.9h-.9zM287.2 176.4h.9v.9h-.9zM288.1 177.4h.9v.9h-.9zM281.9 174.2h.9v.9h-.9zM283.8 172.5h.9v.9h-.9zM285.7 182.5h.9v.9h-.9zM290.4 174.1h.9v.9h-.9zM287.4 179.8h.9v.9h-.9zM288.9 176.2h.9v.9h-.9zM288.2 181.1h.9v.9h-.9zM286.0 175.1h.9v.9h-.9zM287.2 182.7h.9v.9h-.9zM283.8 172.5h.9v.9h-.9zM286.9 173.9h.9v.9h-.9zM284.3 174.7h.9v.9h-.9zM289.7 174.5h.9v.9h-.9zM286.6 173.1h.9v.9h-.9zM289.4 177.9h.9v.9h-.9zM282.9 176.9h.9v.9h-.9zM290.4 176.3h.9v.9h-.9zM286.5 181.5h.9v.9h-.9zM285.3 177.3h.9v.9h-.9zM284.7 181.5h.9v.9h-.9zM289.1 178.9h.9v.9h-.9zM285.5 175.2h.9v.9h-.9zM281.4 180.3h.9v.9h-.9zM283.7 172.9h.9v.9h-.9zM291.0 179.4h.9v.9h-.9zM284.0 173.9h.9v.9h-.9zM284.1 176.7h.9v.9h-.9zM282.5 176.5h.9v.9h-.9zM292.3 177.8h.9v.9h-.9zM284.3 175.4h.9v.9h-.9zM286.3 177.2h.9v.9h-.9zM283.0 177.3h.9v.9h-.9zM281.7 175.9h.9v.9h-.9zM284.3 173.8h.9v.9h-.9zM287.6 177.6h.9v.9h-.9zM289.6 179.2h.9v.9h-.9zM289.2 182.1h.9v.9h-.9zM285.3 175.0h.9v.9h-.9zM289.3 179.0h.9v.9h-.9zM291.3 178.8h.9v.9h-.9zM289.4 181.2h.9v.9h-.9zM282.3 177.5h.9v.9h-.9zM286.7 181.5h.9v.9h-.9zM290.3 181.4h.9v.9h-.9zM287.6 182.2h.9v.9h-.9zM288.8 179.7h.9v.9h-.9zM282.2 175.4h.9v.9h-.9zM287.3 178.8h.9v.9h-.9zM288.1 179.5h.9v.9h-.9zM286.5 170.8h.9v.9h-.9zM290.2 180.4h.9v.9h-.9zM286.6 177.7h.9v.9h-.9zM288.5 171.6h.9v.9h-.9zM289.4 174.0h.9v.9h-.9zM281.5 174.2h.9v.9h-.9zM289.4 173.4h.9v.9h-.9zM286.5 175.7h.9v.9h-.9zM286.3 179.6h.9v.9h-.9zM289.8 178.7h.9v.9h-.9zM288.3 171.8h.9v.9h-.9zM282.4 174.1h.9v.9h-.9zM289.5 174.7h.9v.9h-.9zM287.4 171.0h.9v.9h-.9zM281.3 174.2h.9v.9h-.9zM288.7 179.7h.9v.9h-.9zM288.7 174.5h.9v.9h-.9zM286.8 176.7h.9v.9h-.9zM286.2 172.3h.9v.9h-.9zM291.3 173.4h.9v.9h-.9zM280.8 176.7h.9v.9h-.9zM286.0 174.2h.9v.9h-.9zM283.1 178.2h.9v.9h-.9zM282.3 177.5h.9v.9h-.9zM290.4 177.3h.9v.9h-.9zM291.2 179.8h.9v.9h-.9zM283.4 182.3h.9v.9h-.9zM286.4 171.1h.9v.9h-.9zM280.6 177.1h.9v.9h-.9zM286.0 174.7h.9v.9h-.9z" fill="#c050a0"/>
<path d="M262.1 182.6h.9v.9h-.9zM265.1 195.0h.9v.9h-.9zM275.4 191.8h.9v.9h-.9zM275.0 181.2h.9v.9h-.9zM266.0 183.8h.9v.9h-.9zM265.8 184.7h.9v.9h-.9zM264.6 197.4h.9v.9h-.9zM263.9 180.6h.9v.9h-.9zM268.4 178.7h.9v.9h-.9zM266.0 197.9h.9v.9h-.9zM274.7 194.3h.9v.9h-.9zM270.4 196.8h.9v.9h-.9zM275.7 187.7h.9v.9h-.9zM272.1 185.3h.9v.9h-.9zM272.5 190.1h.9v.9h-.9zM264.6 175.2h.9v.9h-.9zM267.7 182.6h.9v.9h-.9zM264.8 192.5h.9v.9h-.9zM270.9 181.5h.9v.9h-.9zM269.2 183.9h.9v.9h-.9zM262.5 178.0h.9v.9h-.9zM268.2 179.5h.9v.9h-.9zM267.3 177.5h.9v.9h-.9zM265.5 176.3h.9v.9h-.9zM263.8 180.5h.9v.9h-.9zM269.4 196.2h.9v.9h-.9zM272.4 184.3h.9v.9h-.9zM266.7 187.1h.9v.9h-.9zM266.1 182.5h.9v.9h-.9zM260.8 180.9h.9v.9h-.9zM268.3 189.7h.9v.9h-.9zM274.4 179.4h.9v.9h-.9zM264.3 180.2h.9v.9h-.9zM266.5 185.1h.9v.9h-.9zM274.9 185.8h.9v.9h-.9zM266.4 197.2h.9v.9h-.9zM273.7 195.4h.9v.9h-.9zM268.6 191.1h.9v.9h-.9zM275.7 192.0h.9v.9h-.9zM270.7 193.1h.9v.9h-.9zM267.5 187.8h.9v.9h-.9zM263.7 197.0h.9v.9h-.9zM270.7 181.6h.9v.9h-.9zM261.9 180.3h.9v.9h-.9zM270.5 191.5h.9v.9h-.9zM268.6 188.6h.9v.9h-.9zM266.3 179.6h.9v.9h-.9zM269.9 174.3h.9v.9h-.9zM264.8 185.5h.9v.9h-.9zM276.0 190.1h.9v.9h-.9zM274.7 185.9h.9v.9h-.9zM263.7 180.2h.9v.9h-.9zM268.2 190.9h.9v.9h-.9zM266.8 180.4h.9v.9h-.9zM271.0 197.1h.9v.9h-.9zM265.4 184.5h.9v.9h-.9zM271.3 179.0h.9v.9h-.9zM273.3 192.5h.9v.9h-.9zM268.3 179.1h.9v.9h-.9zM273.6 179.8h.9v.9h-.9zM263.5 193.0h.9v.9h-.9zM264.7 197.8h.9v.9h-.9zM268.1 178.7h.9v.9h-.9zM263.5 184.4h.9v.9h-.9zM271.0 197.7h.9v.9h-.9zM262.2 183.8h.9v.9h-.9zM260.7 183.8h.9v.9h-.9zM275.5 182.2h.9v.9h-.9zM271.0 183.5h.9v.9h-.9zM266.1 182.3h.9v.9h-.9zM264.5 182.8h.9v.9h-.9zM265.8 194.5h.9v.9h-.9zM273.7 184.8h.9v.9h-.9zM260.5 185.8h.9v.9h-.9zM266.0 197.0h.9v.9h-.9zM263.0 183.1h.9v.9h-.9zM266.7 194.3h.9v.9h-.9zM275.3 180.4h.9v.9h-.9zM272.4 196.5h.9v.9h-.9zM265.5 180.8h.9v.9h-.9zM276.0 189.4h.9v.9h-.9zM264.2 191.9h.9v.9h-.9zM265.1 180.9h.9v.9h-.9zM275.3 189.8h.9v.9h-.9zM263.7 185.9h.9v.9h-.9zM266.3 180.3h.9v.9h-.9zM267.0 186.3h.9v.9h-.9zM273.3 192.5h.9v.9h-.9zM273.7 193.3h.9v.9h-.9zM270.0 182.2h.9v.9h-.9zM265.1 183.0h.9v.9h-.9zM263.1 192.8h.9v.9h-.9zM260.3 187.8h.9v.9h-.9zM264.2 176.1h.9v.9h-.9zM261.3 186.5h.9v.9h-.9zM271.8 185.2h.9v.9h-.9zM263.7 184.4h.9v.9h-.9zM270.2 190.9h.9v.9h-.9zM272.4 195.2h.9v.9h-.9zM271.0 177.0h.9v.9h-.9zM274.0 181.3h.9v.9h-.9zM269.3 183.3h.9v.9h-.9zM272.2 179.0h.9v.9h-.9zM263.9 180.1h.9v.9h-.9zM269.5 182.2h.9v.9h-.9zM268.3 179.8h.9v.9h-.9zM273.4 190.3h.9v.9h-.9zM267.8 194.5h.9v.9h-.9zM261.7 178.7h.9v.9h-.9zM276.2 188.6h.9v.9h-.9zM275.5 183.3h.9v.9h-.9zM274.4 185.2h.9v.9h-.9zM264.1 193.4h.9v.9h-.9zM269.8 189.5h.9v.9h-.9zM263.4 183.2h.9v.9h-.9zM262.1 179.1h.9v.9h-.9zM264.0 189.0h.9v.9h-.9zM270.8 179.1h.9v.9h-.9zM271.2 178.6h.9v.9h-.9zM265.0 179.1h.9v.9h-.9zM273.2 187.7h.9v.9h-.9zM266.4 187.8h.9v.9h-.9zM270.6 176.3h.9v.9h-.9zM262.5 191.4h.9v.9h-.9zM266.7 181.1h.9v.9h-.9zM264.9 197.8h.9v.9h-.9zM265.0 188.2h.9v.9h-.9zM265.8 184.4h.9v.9h-.9zM265.9 178.9h.9v.9h-.9zM272.1 179.1h.9v.9h-.9zM266.9 194.5h.9v.9h-.9zM266.6 196.1h.9v.9h-.9zM267.5 178.1h.9v.9h-.9zM260.0 187.8h.9v.9h-.9zM270.6 196.7h.9v.9h-.9zM261.2 189.6h.9v.9h-.9zM266.0 186.6h.9v.9h-.9zM262.2 181.1h.9v.9h-.9zM268.6 197.1h.9v.9h-.9zM261.5 186.3h.9v.9h-.9zM263.1 177.2h.9v.9h-.9zM267.9 175.3h.9v.9h-.9zM275.4 183.7h.9v.9h-.9zM275.1 189.5h.9v.9h-.9zM273.7 178.0h.9v.9h-.9zM273.1 179.6h.9v.9h-.9zM266.6 195.2h.9v.9h-.9zM273.8 178.6h.9v.9h-.9zM263.4 184.0h.9v.9h-.9zM268.5 183.6h.9v.9h-.9zM261.8 180.2h.9v.9h-.9zM272.0 196.4h.9v.9h-.9zM260.4 188.1h.9v.9h-.9zM269.9 187.8h.9v.9h-.9zM270.4 181.7h.9v.9h-.9zM266.8 188.6h.9v.9h-.9zM266.9 190.5h.9v.9h-.9zM267.3 185.0h.9v.9h-.9zM260.1 189.5h.9v.9h-.9zM268.0 179.9h.9v.9h-.9zM272.7 193.5h.9v.9h-.9zM267.5 178.5h.9v.9h-.9zM267.7 176.7h.9v.9h-.9zM261.9 184.8h.9v.9h-.9zM261.3 185.0h.9v.9h-.9zM268.4 175.0h.9v.9h-.9zM270.5 176.1h.9v.9h-.9zM272.2 193.4h.9v.9h-.9zM268.4 175.4h.9v.9h-.9zM268.3 183.4h.9v.9h-.9zM272.1 194.4h.9v.9h-.9zM268.1 197.9h.9v.9h-.9zM260.8 182.8h.9v.9h-.9zM272.6 178.0h.9v.9h-.9zM274.9 180.9h.9v.9h-.9zM273.6 177.6h.9v.9h-.9zM268.2 197.0h.9v.9h-.9zM263.2 180.6h.9v.9h-.9zM268.3 182.0h.9v.9h-.9zM271.3 196.4h.9v.9h-.9zM262.6 193.6h.9v.9h-.9zM261.7 187.3h.9v.9h-.9zM270.5 183.0h.9v.9h-.9zM274.5 187.9h.9v.9h-.9zM269.6 196.1h.9v.9h-.9zM270.4 183.9h.9v.9h-.9zM273.3 180.6h.9v.9h-.9zM276.5 188.4h.9v.9h-.9zM265.8 193.1h.9v.9h-.9zM267.2 178.4h.9v.9h-.9zM273.6 180.3h.9v.9h-.9zM269.7 190.6h.9v.9h-.9zM270.2 184.8h.9v.9h-.9zM268.4 196.4h.9v.9h-.9zM261.9 179.7h.9v.9h-.9zM261.5 182.9h.9v.9h-.9zM263.5 188.6h.9v.9h-.9zM269.7 179.1h.9v.9h-.9zM270.3 185.9h.9v.9h-.9zM263.8 177.7h.9v.9h-.9zM261.3 190.0h.9v.9h-.9zM274.5 193.6h.9v.9h-.9zM266.5 180.6h.9v.9h-.9zM269.3 182.8h.9v.9h-.9zM270.7 185.1h.9v.9h-.9zM275.6 192.3h.9v.9h-.9zM263.9 196.6h.9v.9h-.9zM260.4 187.3h.9v.9h-.9zM266.6 179.9h.9v.9h-.9zM259.9 187.8h.9v.9h-.9zM263.1 189.2h.9v.9h-.9zM268.3 190.0h.9v.9h-.9zM273.5 178.4h.9v.9h-.9zM265.0 181.5h.9v.9h-.9zM273.0 191.9h.9v.9h-.9zM272.4 185.6h.9v.9h-.9zM272.3 185.3h.9v.9h-.9zM263.5 176.6h.9v.9h-.9zM265.4 192.7h.9v.9h-.9zM271.5 195.1h.9v.9h-.9zM271.8 180.6h.9v.9h-.9zM269.1 184.9h.9v.9h-.9zM273.1 187.1h.9v.9h-.9zM264.2 190.1h.9v.9h-.9zM264.1 179.9h.9v.9h-.9zM272.4 182.2h.9v.9h-.9zM274.7 182.2h.9v.9h-.9zM263.8 196.7h.9v.9h-.9zM270.4 191.3h.9v.9h-.9zM267.7 195.0h.9v.9h-.9zM271.6 195.4h.9v.9h-.9zM267.1 192.1h.9v.9h-.9zM269.4 181.7h.9v.9h-.9zM263.3 189.6h.9v.9h-.9zM265.6 177.5h.9v.9h-.9zM271.5 189.8h.9v.9h-.9zM271.5 192.4h.9v.9h-.9zM260.8 188.8h.9v.9h-.9zM265.9 194.4h.9v.9h-.9zM261.5 179.1h.9v.9h-.9zM274.1 194.3h.9v.9h-.9zM270.5 194.6h.9v.9h-.9zM270.4 181.2h.9v.9h-.9zM272.6 179.1h.9v.9h-.9zM265.1 184.6h.9v.9h-.9zM264.5 191.9h.9v.9h-.9zM266.0 182.0h.9v.9h-.9zM276.1 186.6h.9v.9h-.9zM274.2 189.5h.9v.9h-.9zM260.2 184.3h.9v.9h-.9zM267.1 193.3h.9v.9h-.9zM265.6 191.6h.9v.9h-.9zM268.8 179.4h.9v.9h-.9zM273.6 178.3h.9v.9h-.9zM259.8 186.3h.9v.9h-.9zM268.1 193.9h.9v.9h-.9zM262.8 186.4h.9v.9h-.9zM265.6 194.8h.9v.9h-.9zM264.5 179.4h.9v.9h-.9zM271.6 186.5h.9v.9h-.9zM261.6 189.9h.9v.9h-.9zM271.6 193.7h.9v.9h-.9zM270.4 182.9h.9v.9h-.9zM266.5 183.9h.9v.9h-.9zM263.2 180.6h.9v.9h-.9zM275.0 186.5h.9v.9h-.9zM266.1 196.1h.9v.9h-.9zM263.7 185.5h.9v.9h-.9zM268.7 192.9h.9v.9h-.9zM272.5 190.2h.9v.9h-.9zM265.6 182.2h.9v.9h-.9zM262.3 195.1h.9v.9h-.9zM271.0 192.5h.9v.9h-.9zM262.6 185.0h.9v.9h-.9zM272.8 188.5h.9v.9h-.9zM261.8 185.6h.9v.9h-.9zM274.7 179.9h.9v.9h-.9zM263.0 181.5h.9v.9h-.9zM271.7 195.1h.9v.9h-.9zM262.3 177.9h.9v.9h-.9zM263.9 182.2h.9v.9h-.9zM268.6 178.0h.9v.9h-.9zM265.3 178.7h.9v.9h-.9zM261.4 183.6h.9v.9h-.9zM272.2 184.9h.9v.9h-.9zM263.0 189.9h.9v.9h-.9zM261.5 179.2h.9v.9h-.9zM266.3 174.8h.9v.9h-.9zM266.5 193.8h.9v.9h-.9zM271.5 186.5h.9v.9h-.9zM270.5 185.6h.9v.9h-.9zM262.1 189.1h.9v.9h-.9zM266.6 192.5h.9v.9h-.9zM275.1 184.8h.9v.9h-.9zM269.5 192.7h.9v.9h-.9zM266.9 179.7h.9v.9h-.9zM272.0 196.0h.9v.9h-.9zM272.9 191.5h.9v.9h-.9zM274.2 191.0h.9v.9h-.9zM270.6 185.3h.9v.9h-.9z" fill="#5070b8"/>
<path d="M253.2 190.2h.9v.9h-.9zM250.9 187.6h.9v.9h-.9zM258.0 191.3h.9v.9h-.9zM256.4 185.4h.9v.9h-.9zM254.3 188.0h.9v.9h-.9zM256.4 187.4h.9v.9h-.9zM256.9 194.1h.9v.9h-.9zM251.8 190.6h.9v.9h-.9zM258.0 187.2h.9v.9h-.9zM255.0 194.7h.9v.9h-.9zM250.3 189.2h.9v.9h-.9zM251.6 192.2h.9v.9h-.9zM259.7 188.8h.9v.9h-.9zM251.0 189.6h.9v.9h-.9zM255.5 191.4h.9v.9h-.9zM255.2 190.4h.9v.9h-.9zM258.5 188.9h.9v.9h-.9zM254.2 194.3h.9v.9h-.9zM252.1 191.0h.9v.9h-.9zM254.0 192.0h.9v.9h-.9zM253.6 182.9h.9v.9h-.9zM252.8 187.3h.9v.9h-.9zM250.0 187.6h.9v.9h-.9zM254.3 191.1h.9v.9h-.9zM253.6 185.6h.9v.9h-.9zM252.2 191.7h.9v.9h-.9zM259.7 188.9h.9v.9h-.9zM252.2 192.5h.9v.9h-.9zM254.0 184.9h.9v.9h-.9zM251.2 192.1h.9v.9h-.9zM258.3 190.3h.9v.9h-.9zM254.8 189.4h.9v.9h-.9zM253.6 190.4h.9v.9h-.9zM258.4 192.6h.9v.9h-.9zM254.8 186.0h.9v.9h-.9zM255.6 183.8h.9v.9h-.9zM258.6 186.7h.9v.9h-.9zM258.7 185.6h.9v.9h-.9zM253.8 185.4h.9v.9h-.9zM254.3 184.6h.9v.9h-.9zM252.8 185.3h.9v.9h-.9zM253.0 188.3h.9v.9h-.9zM254.4 190.4h.9v.9h-.9zM256.8 186.8h.9v.9h-.9zM259.3 192.2h.9v.9h-.9zM251.4 192.8h.9v.9h-.9zM256.7 185.4h.9v.9h-.9zM252.3 192.1h.9v.9h-.9zM253.5 184.2h.9v.9h-.9zM259.3 192.3h.9v.9h-.9zM256.2 192.2h.9v.9h-.9zM256.9 193.6h.9v.9h-.9zM258.1 192.9h.9v.9h-.9zM252.0 191.1h.9v.9h-.9zM255.4 191.7h.9v.9h-.9zM254.5 193.5h.9v.9h-.9zM255.7 185.6h.9v.9h-.9zM252.3 184.0h.9v.9h-.9zM255.0 182.9h.9v.9h-.9zM254.8 184.0h.9v.9h-.9zM255.0 188.6h.9v.9h-.9zM255.5 193.2h.9v.9h-.9zM254.8 189.4h.9v.9h-.9zM256.8 193.0h.9v.9h-.9zM253.8 187.6h.9v.9h-.9zM256.5 190.3h.9v.9h-.9zM250.2 190.0h.9v.9h-.9zM257.0 194.1h.9v.9h-.9zM255.2 188.4h.9v.9h-.9zM257.4 190.2h.9v.9h-.9zM253.4 193.2h.9v.9h-.9zM253.7 188.3h.9v.9h-.9zM255.4 192.1h.9v.9h-.9zM252.1 187.8h.9v.9h-.9zM254.3 189.3h.9v.9h-.9zM258.5 185.9h.9v.9h-.9zM258.5 187.4h.9v.9h-.9zM255.1 185.7h.9v.9h-.9zM255.2 194.7h.9v.9h-.9zM256.7 192.3h.9v.9h-.9zM253.3 186.3h.9v.9h-.9zM253.0 189.7h.9v.9h-.9zM256.5 192.2h.9v.9h-.9zM259.1 189.2h.9v.9h-.9zM250.4 186.0h.9v.9h-.9zM259.5 190.0h.9v.9h-.9zM256.7 192.3h.9v.9h-.9zM259.4 190.0h.9v.9h-.9zM256.3 190.2h.9v.9h-.9zM257.1 189.8h.9v.9h-.9z" fill="#78a4d8"/>
<path d="M284.7 182.2h.9v.9h-.9zM284.6 184.8h.9v.9h-.9zM285.4 181.1h.9v.9h-.9zM285.5 189.5h.9v.9h-.9zM284.5 183.8h.9v.9h-.9zM285.9 188.2h.9v.9h-.9zM283.8 182.7h.9v.9h-.9zM281.7 184.4h.9v.9h-.9zM281.8 184.5h.9v.9h-.9zM284.4 189.7h.9v.9h-.9zM279.7 185.9h.9v.9h-.9zM285.8 186.0h.9v.9h-.9zM286.6 184.6h.9v.9h-.9zM279.4 184.0h.9v.9h-.9zM284.0 189.8h.9v.9h-.9zM287.1 184.9h.9v.9h-.9zM282.6 181.1h.9v.9h-.9zM284.5 182.2h.9v.9h-.9zM285.1 182.5h.9v.9h-.9zM285.2 181.9h.9v.9h-.9zM285.0 188.9h.9v.9h-.9zM285.1 180.9h.9v.9h-.9zM284.3 187.4h.9v.9h-.9zM283.0 189.7h.9v.9h-.9zM281.8 187.6h.9v.9h-.9zM280.6 189.0h.9v.9h-.9zM283.2 180.6h.9v.9h-.9zM282.2 186.0h.9v.9h-.9zM282.8 187.0h.9v.9h-.9zM280.5 188.3h.9v.9h-.9zM282.2 186.7h.9v.9h-.9zM284.3 184.3h.9v.9h-.9zM282.4 188.2h.9v.9h-.9zM283.8 183.0h.9v.9h-.9zM284.9 188.6h.9v.9h-.9zM282.0 186.3h.9v.9h-.9zM284.1 183.2h.9v.9h-.9zM282.7 189.2h.9v.9h-.9zM282.3 187.1h.9v.9h-.9zM284.1 189.3h.9v.9h-.9zM285.8 182.9h.9v.9h-.9zM282.7 186.1h.9v.9h-.9zM285.8 189.2h.9v.9h-.9zM285.8 189.0h.9v.9h-.9zM283.9 182.8h.9v.9h-.9zM286.1 188.4h.9v.9h-.9zM284.8 189.5h.9v.9h-.9zM282.1 180.9h.9v.9h-.9zM283.7 188.3h.9v.9h-.9zM280.9 187.8h.9v.9h-.9zM284.2 187.0h.9v.9h-.9zM283.0 182.1h.9v.9h-.9zM281.3 187.8h.9v.9h-.9zM285.6 184.8h.9v.9h-.9zM285.5 182.4h.9v.9h-.9zM283.9 189.3h.9v.9h-.9zM286.4 185.4h.9v.9h-.9zM283.1 186.1h.9v.9h-.9zM280.8 182.0h.9v.9h-.9zM280.7 187.3h.9v.9h-.9z" fill="#c44c4c"/>
<path d="M279.5 198.1h.9v.9h-.9zM280.2 197.7h.9v.9h-.9zM274.3 198.6h.9v.9h-.9zM287.9 195.1h.9v.9h-.9zM284.1 196.5h.9v.9h-.9zM282.6 194.1h.9v.9h-.9zM289.5 197.5h.9v.9h-.9zM283.5 195.9h.9v.9h-.9zM287.8 197.1h.9v.9h-.9zM276.2 195.3h.9v.9h-.9zM283.3 200.3h.9v.9h-.9zM281.4 200.8h.9v.9h-.9zM284.2 196.9h.9v.9h-.9zM277.3 198.1h.9v.9h-.9zM285.0 200.9h.9v.9h-.9zM285.6 196.8h.9v.9h-.9zM281.2 195.2h.9v.9h-.9zM277.3 196.5h.9v.9h-.9zM287.9 199.1h.9v.9h-.9zM285.7 196.2h.9v.9h-.9zM284.0 199.5h.9v.9h-.9zM274.3 196.3h.9v.9h-.9zM277.3 194.9h.9v.9h-.9zM281.8 195.2h.9v.9h-.9zM277.0 195.0h.9v.9h-.9zM286.5 195.4h.9v.9h-.9zM275.0 197.2h.9v.9h-.9zM289.0 198.5h.9v.9h-.9zM281.2 196.4h.9v.9h-.9zM288.7 197.4h.9v.9h-.9zM284.8 195.0h.9v.9h-.9zM286.5 198.0h.9v.9h-.9zM277.5 197.0h.9v.9h-.9zM275.3 196.0h.9v.9h-.9zM289.0 196.4h.9v.9h-.9zM275.6 197.5h.9v.9h-.9zM278.6 200.5h.9v.9h-.9zM285.6 195.5h.9v.9h-.9zM281.7 196.1h.9v.9h-.9zM277.4 195.5h.9v.9h-.9zM274.2 196.1h.9v.9h-.9zM286.7 196.1h.9v.9h-.9zM288.3 196.5h.9v.9h-.9zM288.8 197.8h.9v.9h-.9zM275.9 197.1h.9v.9h-.9zM290.4 195.6h.9v.9h-.9zM283.6 195.0h.9v.9h-.9zM275.8 199.5h.9v.9h-.9zM286.4 195.4h.9v.9h-.9zM284.4 197.6h.9v.9h-.9zM277.7 195.5h.9v.9h-.9zM284.4 199.1h.9v.9h-.9zM288.4 198.2h.9v.9h-.9zM286.9 196.9h.9v.9h-.9zM286.6 194.4h.9v.9h-.9zM288.4 196.4h.9v.9h-.9zM289.0 200.2h.9v.9h-.9zM282.1 194.1h.9v.9h-.9zM290.4 197.4h.9v.9h-.9zM289.6 195.9h.9v.9h-.9zM275.9 200.0h.9v.9h-.9zM279.5 195.2h.9v.9h-.9zM279.6 198.3h.9v.9h-.9zM272.3 197.7h.9v.9h-.9zM281.1 197.7h.9v.9h-.9zM274.6 199.1h.9v.9h-.9zM288.5 200.2h.9v.9h-.9zM278.6 199.1h.9v.9h-.9zM279.8 199.4h.9v.9h-.9zM291.3 197.6h.9v.9h-.9zM282.5 197.8h.9v.9h-.9zM282.9 194.1h.9v.9h-.9zM277.2 199.9h.9v.9h-.9zM286.2 195.4h.9v.9h-.9zM272.6 198.3h.9v.9h-.9zM283.7 197.8h.9v.9h-.9zM286.3 194.7h.9v.9h-.9zM289.6 199.2h.9v.9h-.9zM282.1 197.6h.9v.9h-.9zM277.8 194.9h.9v.9h-.9z" fill="#8a5a50"/>
<path d="M259.8 202.7h.9v.9h-.9zM261.6 208.5h.9v.9h-.9zM257.2 206.2h.9v.9h-.9zM263.2 202.9h.9v.9h-.9zM259.6 205.0h.9v.9h-.9zM264.1 205.8h.9v.9h-.9zM259.7 209.1h.9v.9h-.9zM263.5 204.3h.9v.9h-.9zM258.1 204.3h.9v.9h-.9zM260.1 209.4h.9v.9h-.9zM263.9 208.4h.9v.9h-.9zM256.2 205.7h.9v.9h-.9zM258.2 205.0h.9v.9h-.9zM262.0 204.5h.9v.9h-.9zM261.0 202.2h.9v.9h-.9zM260.0 205.6h.9v.9h-.9zM265.1 206.7h.9v.9h-.9zM263.8 208.7h.9v.9h-.9zM262.1 203.7h.9v.9h-.9zM262.5 203.8h.9v.9h-.9zM261.1 209.0h.9v.9h-.9zM261.9 203.6h.9v.9h-.9zM260.9 205.1h.9v.9h-.9zM265.2 203.9h.9v.9h-.9zM258.8 206.8h.9v.9h-.9zM256.9 206.4h.9v.9h-.9zM265.3 205.7h.9v.9h-.9zM258.4 205.3h.9v.9h-.9zM261.0 202.8h.9v.9h-.9zM258.6 204.9h.9v.9h-.9zM258.6 203.5h.9v.9h-.9zM256.6 206.0h.9v.9h-.9zM264.1 206.5h.9v.9h-.9zM261.4 206.8h.9v.9h-.9zM257.7 207.3h.9v.9h-.9zM260.3 206.0h.9v.9h-.9zM261.8 205.4h.9v.9h-.9zM258.8 203.5h.9v.9h-.9zM257.9 205.7h.9v.9h-.9zM259.5 206.3h.9v.9h-.9zM264.3 203.5h.9v.9h-.9zM261.3 205.5h.9v.9h-.9zM258.7 207.8h.9v.9h-.9zM264.4 205.1h.9v.9h-.9zM256.3 204.7h.9v.9h-.9zM260.1 207.5h.9v.9h-.9zM256.8 203.4h.9v.9h-.9zM257.2 204.3h.9v.9h-.9zM259.2 207.0h.9v.9h-.9zM261.9 208.4h.9v.9h-.9zM263.9 205.7h.9v.9h-.9zM263.1 207.5h.9v.9h-.9zM263.3 205.4h.9v.9h-.9zM263.5 207.3h.9v.9h-.9zM263.4 206.3h.9v.9h-.9zM260.7 209.3h.9v.9h-.9zM261.4 204.9h.9v.9h-.9zM263.5 208.6h.9v.9h-.9zM261.8 204.6h.9v.9h-.9zM260.2 205.3h.9v.9h-.9z" fill="#d8b040"/>
<text x="381.8" y="15.8" font-size="22" font-weight="bold">b</text>
<defs><filter id="bb" x="-10%" y="-10%" width="120%" height="120%"><feGaussianBlur stdDeviation="0.8"/></filter><radialGradient id="mg" gradientUnits="userSpaceOnUse" cx="506" cy="128" r="44" fx="506" fy="128"><stop offset="0" stop-color="#e2d8ec"/><stop offset="0.22" stop-color="#cfc4e2"/><stop offset="0.5" stop-color="#8a80bc"/><stop offset="0.7" stop-color="#6658a8"/><stop offset="1" stop-color="#6556a6"/></radialGradient><linearGradient id="lgl" gradientUnits="userSpaceOnUse" x1="415" y1="0" x2="502" y2="0"><stop offset="0" stop-color="#d8709a"/><stop offset="0.12" stop-color="#e68f5c"/><stop offset="0.3" stop-color="#e4849a"/><stop offset="0.5" stop-color="#e274a6"/><stop offset="0.8" stop-color="#de7cac"/><stop offset="1" stop-color="#d8b4d2" stop-opacity="0.4"/></linearGradient></defs>
<g filter="url(#bb)">
<path d="M490.0 116.0 C491.8 111.2 495.3 112.5 498.0 111.0 C500.7 109.5 502.3 107.2 506.0 107.0 C509.7 106.8 515.7 109.2 520.0 110.0 C524.3 110.8 529.5 110.0 532.0 112.0 C534.5 114.0 532.9 121.2 535.2 122.3 C537.5 123.4 542.6 117.7 545.7 118.4 C548.8 119.1 551.3 123.2 553.6 126.3 C555.9 129.4 558.3 132.9 559.5 136.8 C560.7 140.7 560.9 145.5 560.8 149.9 C560.7 154.3 560.0 158.7 558.8 163.1 C557.6 167.5 556.2 172.5 553.6 176.2 C551.0 179.9 546.6 183.1 543.1 185.4 C539.6 187.7 536.1 189.1 532.6 190.0 C529.1 190.9 525.7 191.2 522.0 190.7 C518.3 190.1 513.9 188.7 510.2 186.7 C506.5 184.7 502.6 181.9 499.7 178.8 C496.8 175.7 494.2 171.4 492.5 168.3 C490.8 165.2 490.1 165.1 489.2 160.4 C488.3 155.7 486.9 147.4 487.0 140.0 C487.1 132.6 488.2 120.8 490.0 116.0Z" fill="url(#mg)"/>
<path d="M424.0 129.2 C426.7 127.1 431.0 124.0 434.2 121.9 C437.4 119.8 439.8 118.0 443.0 116.8 C446.2 115.6 449.8 115.4 453.2 114.6 C456.6 113.8 460.5 112.5 463.4 111.7 C466.3 110.9 467.8 109.5 470.7 109.5 C473.6 109.5 477.2 110.9 480.9 111.7 C484.5 112.5 489.6 113.4 492.6 114.6 C495.6 115.8 497.6 115.6 499.0 119.0 C500.4 122.4 501.2 128.5 501.0 135.0 C500.8 141.5 499.9 153.1 498.0 158.0 C496.1 162.9 491.8 164.1 489.7 164.2 C487.6 164.3 487.8 160.0 485.3 158.4 C482.9 156.8 478.6 155.8 475.0 154.7 C471.4 153.6 467.8 152.5 463.4 151.8 C459.0 151.1 453.7 150.2 448.8 150.4 C443.9 150.7 438.6 152.7 434.2 153.3 C429.8 153.9 425.4 154.9 422.5 154.2 C419.6 153.5 417.7 151.0 416.5 149.0 C415.3 147.0 414.9 144.7 415.2 142.3 C415.4 139.9 416.5 136.7 418.0 134.5 C419.5 132.3 421.3 131.3 424.0 129.2Z" fill="url(#lgl)"/>
<path d="M500.0 45.8 C499.7 45.0 502.2 44.4 504.2 45.2 C506.1 46.1 509.3 48.9 511.7 50.9 C514.1 52.9 516.4 55.3 518.4 57.5 C520.4 59.7 522.0 61.8 523.4 64.2 C524.8 66.6 525.8 69.3 526.7 71.7 C527.6 74.1 528.3 75.9 528.8 78.4 C529.3 80.9 529.4 83.9 529.6 86.7 C529.8 89.5 530.0 92.3 530.1 95.1 C530.2 97.9 530.0 100.5 530.1 103.4 C530.2 106.3 532.6 110.8 530.9 112.6 C529.2 114.4 524.7 113.8 520.0 114.0 C515.3 114.2 505.0 114.3 502.5 113.5 C500.0 112.7 503.8 111.0 505.0 109.3 C506.2 107.6 508.3 105.2 510.0 103.4 C511.7 101.6 514.1 100.3 515.0 98.4 C515.9 96.5 515.7 94.0 515.5 91.8 C515.3 89.6 514.3 87.3 513.8 85.1 C513.3 82.9 512.1 80.4 512.5 78.4 C512.9 76.5 515.1 75.4 515.9 73.4 C516.7 71.5 517.5 68.9 517.5 66.7 C517.5 64.5 516.9 62.1 515.9 60.0 C514.9 57.9 513.4 55.9 511.7 54.2 C510.0 52.5 507.8 51.4 505.9 50.0 C503.9 48.6 500.3 46.6 500.0 45.8Z" fill="#eba6b8"/>
<ellipse cx="423" cy="146" rx="7" ry="6" fill="#c04c92" opacity="0.8"/>
<ellipse cx="436" cy="128" rx="9" ry="7" fill="#e8914e" opacity="0.55"/>
<path d="M508 108 C516 100 526 96 530 86 L530.5 112 C522 114 513 114 508 108 Z" fill="#e4b866" opacity="0.8"/>
</g>
<path d="M1005 95h0m4 0h0m1-3h0m5 4h0m0 4h0m3 0h0m5 7h0m0-3h0m2 5h0m1 2h0m3 3h0m2 1h0m3 9h0m2-2h0m4-2h0m1 2h0m3 3h0m0 1h0m-7 5h0m0-1h0m1 0h0m1-1h0m0-1h0m2 5h0m1 2h0m3-2h0m-6 9h0m2-4h0m0-1h0m4-1h0m3 0h0m-15 11h0m0 4h0m0-7h0m3 4h0m3-3h0m0 1h0m2 2h0m4-4h0m1 2h0m1-1h0m2-1h0m0 4h0m1 0h0m0-3h0m0 1h0m2-2h0m-22 11h0m4 2h0m1-4h0m1 2h0m3-2h0m0-1h0m4 3h0m6 3h0m7-3h0m-29 8h0m1 4h0m3-3h0m2-3h0m0 2h0m0-3h0m0 4h0m1-4h0m1 5h0m4-2h0m3-1h0m1 0h0m0 4h0m3 0h0m2-4h0m1 3h0m0-4h0m-15 7h0m6 7h0m1-1h0m1-6h0m2 1h0m1 1h0m7-2h0m0 4h0m1-3h0m2-1h0m3 1h0m0-1h0m-26 11h0m5-1h0m19 3h0m1 1h0m-25 6h0m22 3h0m0-3h0m-23 11h0m3-3h0m9-1h0m10 1h0m-29 11h0m9-5h0m11 3h0m2-3h0m0 4h0m7-5h0m2 2h0m1 0h0m3 4h0m-43 6h0m2 1h0m0-4h0m3 2h0m23-3h0m8 4h0m6 1h0m-38 4h0m13 3h0m-120 10h0m19-4h0m2-2h0m6 6h0m0-5h0m24 0h0m66 2h0m30-3h0m1 0h0m-141 13h0m2-5h0m20 4h0m6 2h0m0-3h0m0-3h0m5 5h0m7 1h0m22-2h0m-61 3h0m3 7h0m1-2h0m12-4h0m17 1h0m24 3h0m5 0h0m-64 4h0m21-1h0m12 7h0m6-4h0m9 2h0m9-5h0m17 2h0m-78 9h0m7 0h0m5 2h0m23-1h0m8-2h0m14 0h0m2 3h0m6 2h0m19-5h0m-75 9h0m17-3h0m2 2h0m2-2h0m18 5h0m12-2h0m6 2h0m10-3h0m10 3h0m-87 3h0m10 4h0m3 3h0m7-1h0m17 1h0m29-7h0m17 6h0m-53 3h0m15 1h0m2-2h0m5 5h0m3-1h0m4 3h0m19-3h0m-87 10h0m0-4h0m27-1h0m28 1h0m2 0h0m3-2h0m2 2h0m5 4h0m2-5h0m22 6h0m-79 3h0m4 2h0m29-1h0m3 3h0m19 1h0m7-3h0m-20 5h0m13 5h0m2-3h0m12-1h0m2 4h0m1-3h0m2 3h0m-21 6h0" stroke="#f0a8b4" stroke-width="1.8" stroke-linecap="square" fill="none" transform="scale(0.5)"/>
<path d="M1009 97h0m26 30h0m7-3h0m0-1h0m2 4h0m0 8h0m2-3h0m-11 4h0m11 4h0m-14 10h0m3-2h0m12-2h0m-20 10h0m7-2h0m5 4h0m4 1h0m5-2h0m7-3h0m-18 12h0m0-6h0m6 7h0m9 0h0m2-6h0m-23 10h0m0-2h0m3-1h0m21 4h0m-48 33h0m-68 18h0m1-1h0m2 0h0m1 0h0m1 0h0m2 0h0m4 0h0m1 1h0m92 0h0m-138 8h0m6 0h0m7 0h0m1 0h0m3-5h0m0 4h0m1-5h0m2 2h0m1 3h0m1-3h0m1 1h0m0-1h0m3 2h0m0-3h0m7 3h0m2 2h0m0-5h0m3 4h0m1-5h0m0-1h0m1 5h0m1 2h0m0-2h0m1-5h0m1 7h0m2-3h0m1-2h0m0-1h0m4 3h0m0 1h0m1-3h0m1 3h0m3 2h0m1-6h0m1 1h0m0-1h0m2 5h0m2-2h0m81 0h0m5 1h0m-176 10h0m4-1h0m0-1h0m12 0h0m3-5h0m4 1h0m2 3h0m1-1h0m1-1h0m1 0h0m5 3h0m1 2h0m0-7h0m7 1h0m1 5h0m4-1h0m1-1h0m1 2h0m3-5h0m1 2h0m0-1h0m9-1h0m1 0h0m4 1h0m3 2h0m2-4h0m6 5h0m0-5h0m3 1h0m0 3h0m4 1h0m0-1h0m1 1h0m0-5h0m7 0h0m4 7h0m11-1h0m4-1h0m4 0h0m1 0h0m6 1h0m3-1h0m11 2h0m14-2h0m24 2h0m1 0h0m4-2h0m11 1h0m-196 5h0m1 3h0m4-3h0m3-2h0m0 3h0m7-2h0m1-2h0m0 7h0m3-3h0m1 2h0m3-6h0m6 6h0m1 0h0m13-2h0m7-3h0m1-1h0m2 2h0m2 5h0m2-2h0m1 1h0m1-6h0m1 7h0m2-6h0m2 4h0m1 0h0m1-5h0m0 3h0m2 1h0m1 0h0m0 3h0m5-1h0m3-1h0m2-5h0m1 3h0m1 0h0m0-1h0m1 1h0m1 1h0m2 2h0m0-1h0m1 2h0m2-5h0m0 4h0m4-1h0m0 2h0m5-3h0m5 3h0m5-5h0m8 4h0m3-3h0m3-1h0m1 0h0m6-1h0m0-1h0m9 5h0m6 1h0m8-6h0m3 7h0m7-5h0m66 2h0m-241 9h0m4-2h0m3 3h0m1-6h0m1 3h0m2 3h0m5 1h0m3-4h0m3 0h0m1 0h0m2 1h0m0 1h0m1-4h0m2 2h0m1-2h0m0 4h0m0-1h0m0 3h0m2-2h0m3-5h0m0 2h0m2 3h0m1 2h0m2-6h0m4 4h0m4 1h0m2-3h0m2-2h0m0 2h0m1 3h0m1 1h0m0-6h0m1 5h0m1-5h0m1 4h0m1-3h0m1 1h0m1 1h0m3-3h0m0 4h0m0-5h0m0 4h0m0-2h0m2-2h0m0 4h0m0-3h0m5 2h0m0 3h0m0-2h0m2-2h0m1 1h0m0 3h0m3-1h0m0-5h0m2 1h0m1 0h0m1 2h0m3-1h0m3 3h0m7 1h0m1-6h0m6 6h0m0-2h0m2 1h0m5-2h0m4-1h0m1-2h0m3 4h0m2-4h0m4 6h0m4-1h0m5 0h0m2-2h0m4 1h0m1 0h0m4-1h0m1-1h0m18 2h0m12 3h0m4-2h0m2-2h0m-177 11h0m4-5h0m1 2h0m1-1h0m0 4h0m2-1h0m3-1h0m2-1h0m3 3h0m0-2h0m3-1h0m1-1h0m4-2h0m6 4h0m2-1h0m3 0h0m0-1h0m2-1h0m4 5h0m3 1h0m6-3h0m0 3h0m5-4h0m2 4h0m0-5h0m0 1h0m2 1h0m2 1h0m1 0h0m1-1h0m2 3h0m0-5h0m1-2h0m0 4h0m2-4h0m2 0h0m2 5h0m3 2h0m4-5h0m2 4h0m1-1h0m1-5h0m2 2h0m1-1h0m0 4h0m3-1h0m1-4h0m1 2h0m2 1h0m4-2h0m3 1h0m1 1h0m0 4h0m0-5h0m0-1h0m5-1h0m2 2h0m2 1h0m15 2h0m3-4h0m3 2h0m8-1h0m4 3h0m14-3h0m8 4h0m21-1h0m-203 10h0m11-2h0m2-2h0m4-2h0m3 0h0m1 6h0m0-6h0m3 4h0m8 2h0m3-6h0m3 2h0m2 1h0m7 2h0m1-4h0m4 5h0m2-7h0m1 2h0m1-2h0m2 2h0m2 2h0m2 3h0m1-7h0m1 5h0m2 0h0m1 1h0m0-2h0m1-2h0m1 5h0m1-1h0m1-2h0m2 2h0m3 0h0m0-5h0m0-1h0m2 2h0m1-2h0m1 5h0m3 2h0m1-5h0m2 4h0m0-4h0m1-2h0m4 0h0m2 1h0m1 4h0m1 2h0m0-1h0m0-1h0m1-3h0m0 4h0m2-6h0m2 6h0m1-1h0m2 1h0m3-3h0m1 2h0m2-3h0m3-1h0m1 4h0m0-1h0m5 1h0m0-3h0m1 4h0m0-5h0m4 6h0m0-3h0m13 0h0m1 2h0m2-1h0m6-1h0m2 0h0m4-4h0m6 4h0m3-2h0m1 2h0m1 0h0m5-1h0m27-2h0m1 2h0m45-2h0m-238 8h0m7 0h0m13 1h0m5 0h0m2 3h0m5 2h0m1-6h0m1-1h0m3 7h0m2-7h0m2 7h0m3-4h0m4-2h0m4 4h0m7-4h0m2 5h0m1-6h0m1 5h0m3 1h0m1 1h0m2-5h0m1 5h0m2-2h0m1 0h0m1-3h0m2 0h0m0-1h0m3-1h0m1 1h0m0 4h0m1-2h0m3-1h0m0 4h0m2 1h0m0-6h0m1 4h0m2-1h0m4 0h0m1-1h0m0 4h0m1-4h0m0 4h0m3 0h0m10-5h0m1 1h0m0-3h0m3 5h0m9-4h0m1 5h0m0-6h0m1 2h0m4 4h0m4-5h0m2 0h0m4 3h0m0-2h0m0 4h0m8-6h0m7 0h0m6 1h0m7 1h0m3 3h0m3-5h0m77 6h0m-254 8h0m7-6h0m10 6h0m2-2h0m3-3h0m4 0h0m1-1h0m3 4h0m0-1h0m0 3h0m1 1h0m4-1h0m1 1h0m5-2h0m1-3h0m2-2h0m5 4h0m1-4h0m1 5h0m4-5h0m3 5h0m7-4h0m4 1h0m1 4h0m0-2h0m1-2h0m5 1h0m1 4h0m10-5h0m1-1h0m1-1h0m0 3h0m4 3h0m0-5h0m1 1h0m3 1h0m1 3h0m1-6h0m1 7h0m1 0h0m1-4h0m3-2h0m1 4h0m2 2h0m2-2h0m0-5h0m0 7h0m2-1h0m1 0h0m1-4h0m0-1h0m1 1h0m4-1h0m2 1h0m3 3h0m0-5h0m2 0h0m5 1h0m1 6h0m10-3h0m1 0h0m1-4h0m3 0h0m0 3h0m1 0h0m9 1h0m1 3h0m3 0h0m1-5h0m1 3h0m1-1h0m14 2h0m-164 9h0m7-2h0m5-1h0m1 3h0m1-6h0m2 0h0m1 5h0m4-6h0m1 4h0m3-4h0m2 2h0m4 2h0m2-4h0m3 4h0m1-3h0m6 6h0m5 0h0m3-5h0m1 0h0m3 3h0m1 1h0m3 0h0m1-5h0m1 5h0m2-4h0m1-1h0m2 6h0m1-5h0m0-1h0m1 5h0m3-2h0m1-1h0m1 1h0m1-2h0m3 5h0m1-4h0m2-1h0m1-2h0m1 5h0m1-2h0m3 0h0m0 3h0m2-3h0m6 1h0m0-4h0m3 4h0m2-4h0m1 7h0m1-1h0m7-4h0m4 1h0m1 0h0m0-3h0m6 0h0m6 5h0m1-5h0m4 1h0m11 0h0m5 2h0m0 3h0m2-4h0m-157 13h0m15-1h0m8-4h0m3 4h0m1-6h0m1 0h0m1 0h0m1 2h0m4 5h0m3 0h0m3-1h0m5-4h0m6-1h0m3-1h0m2 0h0m1 1h0m4 0h0m9 3h0m3-2h0m6-1h0m2 3h0m5 0h0m3 0h0m2-3h0m3 4h0m1-2h0m3 1h0m3 2h0m2-4h0m3 1h0m1-1h0m2 2h0m0-1h0m5-3h0m3 4h0m2 3h0m2-5h0m1 2h0m1-2h0m1-1h0m3 3h0m3 3h0m0-5h0m3 4h0m0-5h0m2-1h0m2 7h0m5 0h0m1-5h0m0 3h0m1-3h0m11 0h0m1 2h0m-148 6h0m15-1h0m5 1h0m68-2h0m4 1h0m0 2h0m3-3h0m2 3h0m2 0h0m1 1h0m0-1h0m5 1h0m1 1h0m0-5h0m2 6h0m1-4h0m2 5h0m1-3h0m2 0h0m6 1h0m6 2h0m1 0h0m1-5h0m1 2h0m8-2h0m3 4h0m83 0h0m-106 3h0m10 6h0m1-4h0m6-1h0m0 4h0m5-4h0m7-2h0m49 6h0m-66 3h0m2-1h0m3 0h0m23 3h0m0 2h0m11 10h0m-25 2h0m15 4h0m55-5h0m20 0h0m-66 11h0m58 1h0m-41 9h0m2 0h0m12 0h0m6 6h0m-25 8h0m34 4h0" stroke="#e472a8" stroke-width="1.8" stroke-linecap="square" fill="none" transform="scale(0.5)"/>
<path d="M1033 173h0m3 1h0m1-2h0m7 2h0m1-1h0m6 0h0m2 2h0m2-2h0m3 1h0m-26 5h0m2-3h0m0 1h0m5-1h0m2 0h0m3 0h0m4 0h0m2 0h0m1 4h0m2-1h0m6 0h0m-28 6h0m1 5h0m10-2h0m3 0h0m2 3h0m5-3h0m-21 7h0m3 4h0m3-4h0m1-3h0m1 1h0m2-1h0m4 5h0m1 0h0m3-5h0m0 7h0m2-3h0m7 1h0m-32 6h0m1 3h0m8-1h0m4-5h0m1 7h0m3 0h0m2-4h0m2 0h0m2 3h0m2-5h0m1 6h0m0-3h0m6 1h0m2-4h0m-44 14h0m3-3h0m3 1h0m2 1h0m1-4h0m2 3h0m7 2h0m1-4h0m0 4h0m1-5h0m4 2h0m1-2h0m9 4h0m2 0h0m0-6h0m3 3h0m2 0h0m1 3h0m-46 7h0m5-1h0m2 3h0m1-7h0m7 7h0m0-1h0m2-3h0m0 4h0m2-3h0m1-1h0m4 1h0m0-4h0m2 1h0m4-1h0m1 7h0m6-7h0m1 0h0m0 6h0m3 1h0m2-2h0m2-1h0m2-3h0m2 6h0m0-3h0m-55 7h0m1-1h0m1-2h0m21 3h0m1 0h0m10 0h0m6 0h0m12-2h0m-69 22h0m17 10h0" stroke="#e8c070" stroke-width="1.8" stroke-linecap="square" fill="none" transform="scale(0.5)"/>
<path d="M1007 96h0m6 0h0m10 8h0m6 11h0m4-3h0m2 2h0m0 4h0m4 0h0m-2 3h0m1 2h0m2 1h0m1-1h0m3 2h0m-8 9h0m3 9h0m11-2h0m0 2h0m-8 5h0m9 0h0m-16 9h0m0 1h0m0-6h0m4 0h0m4 1h0m2 2h0m5 1h0m-22 8h0m6-3h0m0 2h0m4 0h0m8 1h0m2-1h0m8 3h0m-26 2h0m7 1h0m3-1h0m1 1h0m0 5h0m2-3h0m8 4h0m2-3h0m-22 10h0m3-3h0m5 2h0m0-5h0m6 6h0m6-2h0m2-3h0m-16 12h0m0-3h0m2-1h0m4 0h0m3 2h0m6-2h0m6 5h0m-28 5h0m2 1h0m1 3h0m5-5h0m0 2h0m3 3h0m2-3h0m4-2h0m13 1h0m-73 12h0m7-3h0m33 1h0m4 2h0m4-5h0m6 0h0m10 5h0m2-2h0m1-5h0m1 1h0m5 3h0m-79 8h0m16-2h0m0 1h0m1 0h0m9-3h0m5 6h0m2 1h0m6 0h0m15-7h0m3 5h0m0 1h0m7 0h0m1 0h0m10-4h0m-71 10h0m10 3h0m2-1h0m7-2h0m1-1h0m1 1h0m6 0h0m2 0h0m1-3h0m0 3h0m1 1h0m0 2h0m0-7h0m2 1h0m1 0h0m1 0h0m2 0h0m1 2h0m0 4h0m1-5h0m2 5h0m2-2h0m3 0h0m1 0h0m3 0h0m1 0h0m2-1h0m3 2h0m0-5h0m5 3h0m0 2h0m0-5h0m2 5h0m5 1h0m3 0h0m5-3h0m3 2h0m4-1h0m7-4h0m-140 9h0m14 4h0m11-3h0m5-1h0m5 5h0m11-1h0m6 1h0m0-1h0m4-2h0m4-3h0m1 6h0m2-7h0m1 3h0m2-3h0m1 7h0m2-3h0m0 3h0m4-6h0m3 4h0m0-3h0m0-1h0m0 3h0m3 2h0m1-5h0m1-1h0m1 6h0m1-6h0m1 2h0m2 0h0m2-1h0m3 3h0m0-3h0m1 0h0m1 3h0m1-2h0m2 5h0m2-3h0m1-2h0m4 5h0m1-4h0m1-3h0m2 3h0m0-3h0m1 0h0m0 2h0m3 1h0m1-3h0m1 1h0m2 2h0m1 4h0m2-7h0m0 1h0m0 2h0m0 3h0m5-3h0m3 1h0m2-2h0m2 2h0m3 2h0m-186 7h0m5-2h0m33 3h0m3-4h0m5 4h0m18-1h0m1-5h0m0 3h0m6 4h0m27 0h0m0-6h0m0 1h0m0 4h0m2-4h0m1-1h0m0-1h0m0 2h0m0 3h0m1 0h0m1 0h0m2-3h0m0 3h0m7 2h0m0-4h0m5-1h0m3-1h0m2 4h0m4 0h0m3-3h0m0 4h0m0-1h0m1 0h0m8-5h0m1 3h0m3 0h0m4 0h0m1 3h0m0-6h0m4 7h0m2-1h0m3-4h0m1 5h0m5-4h0m0 1h0m1-4h0m2 5h0m2-2h0m0 4h0m1-7h0m1 7h0m2-4h0m3 0h0m2 3h0m7-6h0m1 0h0m1 6h0m0-1h0m1 0h0m0 2h0m-198 7h0m9-6h0m3 7h0m12 0h0m16 0h0m32-5h0m1 0h0m8 2h0m12-2h0m2 4h0m11-5h0m5 2h0m1-1h0m0-2h0m1 5h0m4 0h0m1-5h0m1 0h0m1 2h0m2 1h0m2 2h0m1 1h0m4-3h0m4-3h0m0 3h0m26-3h0m3 1h0m1 1h0m0 2h0m1-4h0m0 2h0m1 2h0m0-4h0m1 6h0m1-5h0m5 5h0m0-1h0m1 1h0m0-1h0m4-5h0m3 6h0m3 1h0m0-1h0m6-3h0m1-1h0m2 0h0m0 2h0m3 0h0m0-3h0m2 3h0m3 3h0m1-2h0m3 0h0m2-1h0m2 0h0m2-1h0m1 1h0m2-1h0m4 3h0m1-3h0m0 2h0m0 2h0m2-7h0m1 6h0m2-5h0m1 5h0m-213 7h0m13 0h0m8 2h0m5-7h0m9 4h0m3 1h0m2-4h0m12 1h0m9 3h0m19-5h0m3 7h0m1-4h0m2 0h0m4-2h0m8 0h0m1 0h0m1-1h0m1 3h0m1 2h0m3-5h0m1 0h0m6 0h0m1 4h0m1 1h0m0 2h0m4-4h0m5-1h0m6 1h0m4 0h0m10 1h0m2 0h0m4 1h0m1 0h0m1-3h0m1 3h0m4-4h0m7 4h0m3-4h0m2 0h0m3 3h0m1-1h0m1 1h0m1 2h0m1-5h0m1 4h0m3-2h0m1 0h0m2 1h0m1-3h0m3 3h0m6-3h0m0 3h0m7 2h0m1-2h0m1-3h0m1-1h0m1 7h0m0-4h0m1 4h0m1 0h0m1-3h0m1 3h0m1-5h0m1 3h0m1 0h0m1-3h0m0 2h0m0 3h0m1-2h0m0-1h0m2-2h0m0 5h0m2-2h0m0-1h0m1 2h0m2-3h0m2 4h0m4-3h0m-186 8h0m14-3h0m2 1h0m1 1h0m12 0h0m27-1h0m4-1h0m1 0h0m0 1h0m3 5h0m3-7h0m2 4h0m0-4h0m0 3h0m1-2h0m1-1h0m7 5h0m2-2h0m7 4h0m11-7h0m2 7h0m11-6h0m4 2h0m13 4h0m0-1h0m4-2h0m1-4h0m0 3h0m3 2h0m1-1h0m0 2h0m1-1h0m1-4h0m1 1h0m0 2h0m1-3h0m3 5h0m1-3h0m3-3h0m0 1h0m1 4h0m0-1h0m1 1h0m2 2h0m0-1h0m0-5h0m1 6h0m1-3h0m6 3h0m0-7h0m2 3h0m1-1h0m1 2h0m5-1h0m3-3h0m1 4h0m5 2h0m4-1h0m2-4h0m0 2h0m1-3h0m1 7h0m5-1h0m-247 2h0m14 7h0m29-3h0m6-3h0m6-1h0m1 2h0m14 5h0m3 0h0m7-1h0m8 1h0m6-1h0m15-5h0m6 4h0m2 2h0m1-2h0m6-3h0m4 4h0m1-2h0m1 1h0m6 1h0m2 0h0m17-6h0m2 6h0m1-1h0m1-3h0m1 2h0m2 3h0m6-1h0m2-2h0m0-1h0m1 0h0m1-2h0m2 2h0m1 2h0m2-3h0m3 0h0m1 3h0m6 1h0m3 1h0m1-2h0m1-1h0m1 2h0m0-6h0m10 1h0m1 0h0m0 5h0m3-5h0m1 0h0m3-1h0m1 4h0m4-2h0m3-2h0m0 3h0m7-1h0m4 2h0m1 3h0m0-6h0m4 1h0m0 3h0m1-5h0m3 6h0m1-3h0m0 3h0m1-1h0m1 0h0m1-2h0m1-2h0m3-1h0m-247 13h0m62-1h0m8 0h0m2-3h0m13 6h0m1-5h0m6-1h0m3 1h0m2 3h0m3-1h0m1-2h0m2 1h0m4-2h0m0 3h0m3-3h0m3 6h0m2 0h0m0-4h0m2 4h0m1-7h0m1 4h0m6-2h0m2 3h0m0-4h0m0 2h0m1-2h0m0 5h0m5-1h0m5-1h0m0-1h0m0 4h0m2 0h0m5-4h0m1 0h0m2-2h0m0 5h0m13-5h0m2 1h0m1 5h0m0-5h0m1 1h0m4-3h0m0 2h0m0 5h0m4-3h0m1-1h0m1-1h0m1-1h0m2 6h0m2-5h0m0 3h0m1-3h0m2 5h0m8-6h0m0 2h0m1-2h0m2 0h0m0-1h0m1 3h0m0 2h0m1-2h0m2 1h0m1-2h0m0 5h0m2-1h0m1-5h0m1 4h0m2-3h0m4 5h0m3-3h0m1 1h0m1 1h0m2-4h0m5-1h0m2 3h0m0-4h0m2 7h0m1-3h0m1-3h0m1-1h0m8 2h0m1 0h0m1 0h0m0 5h0m1-6h0m0 5h0m5-3h0m3-1h0m1 0h0m0 1h0m1-1h0m1 1h0m0 3h0m2 0h0m2-2h0m1 0h0m0 3h0m-241 6h0m6 0h0m25 0h0m5-2h0m18 0h0m15-3h0m7 6h0m18 0h0m2-3h0m5 0h0m0 1h0m0 3h0m0-1h0m2 1h0m2-3h0m0 3h0m4-3h0m2 3h0m1-6h0m0 4h0m0 2h0m1-2h0m3 2h0m0-7h0m0 3h0m3 3h0m1-6h0m7 7h0m13-3h0m0 2h0m2-4h0m0 2h0m1-4h0m2 4h0m1-4h0m4 2h0m0-2h0m1 4h0m4-4h0m4 1h0m0 4h0m3 1h0m3 1h0m2-3h0m1 0h0m0 3h0m1-4h0m2 3h0m0-3h0m6 1h0m0 1h0m11-4h0m4 5h0m1 0h0m0-4h0m2 0h0m1 3h0m1-5h0m2 3h0m3-2h0m1 1h0m4 3h0m2-4h0m1 1h0m0 1h0m1 1h0m2-3h0m3-1h0m2 2h0m2 3h0m0-1h0m0 3h0m1 0h0m0-3h0m2 2h0m0-3h0m1-1h0m10 4h0m1-4h0m1 1h0m1 4h0m-252 3h0m3-1h0m61 5h0m9-5h0m5-1h0m8 3h0m15 1h0m7 1h0m2-3h0m5 3h0m1 1h0m0 1h0m0-7h0m1 5h0m2-1h0m2 1h0m1-5h0m0 3h0m0 2h0m2 0h0m1-2h0m2 3h0m0-6h0m0 2h0m2 3h0m1-4h0m0 5h0m1-3h0m1 0h0m1 1h0m0-4h0m2 6h0m1-2h0m0 3h0m1-6h0m2 1h0m1 0h0m0 1h0m3 0h0m0 3h0m3 0h0m0-1h0m7 2h0m1-2h0m1-5h0m0 6h0m1-3h0m5-1h0m1-2h0m0 2h0m1 4h0m1-6h0m2 0h0m2 1h0m3-1h0m2 0h0m0 5h0m1-5h0m0 6h0m1 0h0m2-6h0m1 3h0m0 3h0m3-1h0m1 2h0m1-7h0m0 3h0m1 3h0m2-1h0m1 2h0m0-4h0m2 0h0m0 3h0m1-2h0m0-1h0m0-1h0m2-1h0m7 4h0m0-2h0m1 3h0m9-5h0m2 6h0m1 0h0m3-6h0m2 0h0m1-1h0m6 2h0m2 1h0m3 1h0m0 3h0m1-6h0m1 4h0m0-2h0m0 3h0m1-1h0m0-4h0m1 6h0m5-5h0m1 0h0m0 2h0m1 0h0m0-4h0m1 4h0m3-1h0m0 2h0m1-1h0m0 2h0m2-1h0m1 2h0m4-4h0m2-2h0m3-1h0m1 7h0m-255 4h0m3 4h0m8-5h0m37 1h0m9 0h0m3-1h0m0 1h0m13 3h0m17-4h0m7 5h0m3-5h0m0 2h0m1 0h0m4 0h0m3 2h0m3 0h0m0 1h0m0-5h0m1 1h0m0 3h0m1 1h0m0-5h0m2-2h0m1 7h0m3-5h0m1 4h0m3-1h0m0-1h0m0 2h0m1-2h0m1 0h0m0 3h0m1-5h0m1 2h0m1-2h0m1 5h0m1-5h0m2 1h0m1-2h0m1 0h0m1 4h0m1 0h0m1 2h0m2-3h0m2-4h0m2 6h0m0-5h0m1 2h0m0-1h0m1 2h0m1 2h0m2-5h0m2 1h0m0 3h0m0-1h0m1-2h0m0 5h0m3-4h0m4-2h0m2 3h0m4 1h0m2-3h0m2 4h0m4 1h0m2-4h0m1 2h0m0 1h0m1 0h0m2-1h0m1-4h0m0 2h0m1 1h0m3 3h0m0-7h0m1 1h0m0 3h0m1 3h0m1-6h0m1 0h0m0 3h0m8 1h0m1 1h0m2-5h0m4 3h0m3 2h0m7-2h0m0 3h0m1-3h0m3-2h0m0 4h0m0-5h0m3 4h0m2 0h0m2-5h0m0 1h0m2 5h0m0-6h0m3 6h0m1 0h0m3-6h0m1 5h0m5 1h0m1-4h0m0 2h0m0 3h0m3-1h0m0-2h0m1-3h0m0 4h0m4-4h0m0 2h0m1 2h0m4-4h0m0-1h0m1 5h0m2 2h0m0-1h0m-164 5h0m4-2h0m5 4h0m1-2h0m6-1h0m5 3h0m1-2h0m0 3h0m2-6h0m2 6h0m3 0h0m2 0h0m1-3h0m0 4h0m2-6h0m4 4h0m1-5h0m1 4h0m1-3h0m0 6h0m3-7h0m4 2h0m0 2h0m2 1h0m0-1h0m2 1h0m2-2h0m0 1h0m1 2h0m1-5h0m1 0h0m0 5h0m0-4h0m1 1h0m1 1h0m1 1h0m3-5h0m0 3h0m2-1h0m2 3h0m0 2h0m1-3h0m1-4h0m0 2h0m1-2h0m1 6h0m2-4h0m2 5h0m0-6h0m3 1h0m2 2h0m2 0h0m1-3h0m1 1h0m1-1h0m4 0h0m2 0h0m3-1h0m3 6h0m3-4h0m1 4h0m2-5h0m4 3h0m1-4h0m1 6h0m0-5h0m2 4h0m0-1h0m3-3h0m1 2h0m4 2h0m6-5h0m4 3h0m6 1h0m0 2h0m2-5h0m2 1h0m1-2h0m1 5h0m1 1h0m0-1h0m1-3h0m0 5h0m0-6h0m4-1h0m3 7h0m0-6h0m0 4h0m1 1h0m1-1h0m3-5h0m1 7h0m1-2h0m3-2h0m0 3h0m-152 5h0m17-1h0m0 5h0m2-1h0m0-5h0m1-1h0m1 6h0m1-6h0m2 7h0m2-7h0m1 6h0m1-4h0m0 2h0m4 1h0m2-5h0m1 1h0m3 0h0m0 2h0m2 4h0m0-7h0m1 3h0m0 2h0m1-2h0m1-3h0m3 6h0m1 0h0m6-5h0m0 6h0m2-4h0m1 0h0m0 3h0m4 1h0m1-1h0m1-3h0m1 1h0m1 1h0m1 1h0m5-2h0m3-2h0m1 5h0m1-6h0m1 6h0m0-4h0m3-3h0m1 6h0m4-2h0m3-3h0m0 3h0m1-2h0m0 4h0m1-1h0m2-5h0m1 1h0m1 1h0m6-2h0m0 3h0m2 2h0m1 0h0m2-2h0m1 4h0m1-4h0m2-3h0m4 0h0m0 3h0m2 2h0m0-4h0m2 5h0m2 0h0m1 0h0m1-5h0m1 3h0m1 0h0m1 1h0m4-3h0m1 3h0m1-4h0m2 4h0m1-1h0m0-1h0m1-1h0m6 3h0m1-3h0m0 4h0m1-4h0m1 5h0m1 0h0m2-2h0m1-5h0m1 3h0m1 1h0m0-1h0m1-1h0m5-1h0m-140 8h0m1 1h0m2 0h0m1-2h0m0 6h0m3-6h0m2 1h0m0-1h0m1 3h0m1 2h0m0-3h0m3 2h0m1 3h0m1-4h0m3 4h0m0-4h0m0-1h0m6 1h0m1 4h0m7-7h0m1 2h0m4-1h0m1-1h0m1 7h0m1 0h0m2-2h0m0 2h0m1-2h0m0-2h0m4-2h0m3 4h0m5-5h0m3 4h0m4 1h0m0-5h0m0 2h0m0-1h0m3 0h0m1 6h0m2 0h0m1-5h0m1-1h0m3 4h0m3 2h0m0-7h0m2 5h0m0-1h0m0-2h0m1 2h0m4 3h0m6 0h0m5-4h0m2 4h0m1-1h0m2 0h0m1 0h0m0-3h0m1-2h0m1 5h0m1-6h0m0 3h0m1-3h0m4 1h0m3 3h0m1-2h0m8 2h0m1-3h0m0 6h0m2-2h0m0-4h0m1 5h0m1-4h0m0 1h0m1 1h0m1-3h0m3 6h0m1-4h0m0 1h0m1-4h0m-129 10h0m2 3h0m1 0h0m2 1h0m1-3h0m1-3h0m2 2h0m1 2h0m2 2h0m3-5h0m2-1h0m0 6h0m3-1h0m2-1h0m1 2h0m0-1h0m2 0h0m1-2h0m2 4h0m1-4h0m3 4h0m2-2h0m3 2h0m0-3h0m1 2h0m0-2h0m11-1h0m0 3h0m1-1h0m2-1h0m0-1h0m3 2h0m1-5h0m0 2h0m0-1h0m4 3h0m2-2h0m2 0h0m4-2h0m1 4h0m0 2h0m2 0h0m7-6h0m0 7h0m6 0h0m1-2h0m2 1h0m2-5h0m4 6h0m3-5h0m0 2h0m1 2h0m2-5h0m0-1h0m4 3h0m1 0h0m4 1h0m0 1h0m2 0h0m0-2h0m2 0h0m4 0h0m1-1h0m0 5h0m2-3h0m3-4h0m1 5h0m1-2h0m4 4h0m1-5h0m2-2h0m0 6h0m1-2h0m-123 10h0m1-3h0m2-2h0m0 1h0m1-1h0m4 6h0m0-7h0m2 1h0m0-1h0m1 0h0m8 2h0m1 1h0m1 1h0m0-3h0m1 6h0m2-6h0m4 6h0m2-7h0m2 7h0m0-5h0m0 3h0m1 0h0m2-2h0m1 4h0m4 0h0m2-1h0m2-4h0m2 1h0m5 1h0m1-2h0m1 5h0m2-5h0m1 3h0m4-5h0m1 5h0m1-5h0m3 2h0m1-2h0m0 4h0m6-3h0m4 3h0m1 3h0m4-5h0m1 4h0m3-4h0m0 2h0m0-3h0m1-1h0m4 2h0m2 5h0m1 0h0m3-4h0m1 3h0m3-2h0m1 1h0m3-3h0m2 3h0m5-5h0m1 4h0m1 1h0m3-1h0m0 3h0m0-1h0m2-1h0m0 2h0m-117 3h0m2-2h0m0 2h0m1 0h0m1 1h0m2 0h0m1 1h0m0 3h0m0-7h0m0 2h0m2 2h0m2 0h0m2 1h0m0-1h0m1-1h0m0 4h0m3-4h0m0 3h0m2-4h0m1 4h0m1-6h0m0 3h0m0 2h0m2 0h0m3 2h0m5-4h0m2-1h0m1-2h0m2 1h0m0 2h0m3-2h0m0 4h0m0 2h0m1-4h0m3-2h0m0 3h0m7-3h0m4 1h0m0-1h0m5 5h0m6-2h0m3 3h0m1-7h0m1 0h0m0 5h0m2 1h0m1 0h0m1-4h0m1 2h0m1 0h0m0 2h0m2-4h0m2 1h0m1-1h0m4 1h0m3 3h0m2-1h0m2-2h0m2 0h0m3 0h0m2 0h0m3 2h0m1-4h0m2 2h0m2 3h0m0 1h0m3-6h0m0 3h0m2-3h0m0 2h0m2 1h0m0 2h0m-109 2h0m1 4h0m0-1h0m1-1h0m1 2h0m0 1h0m4 1h0m1-5h0m1 0h0m1 6h0m0-2h0m1-2h0m1-2h0m1 4h0m6-1h0m0-1h0m3-1h0m1 5h0m1-6h0m2 4h0m0-5h0m1 7h0m2-5h0m0 5h0m3-7h0m0 7h0m1-7h0m1 0h0m3 7h0m1-5h0m0 1h0m3 4h0m2-4h0m2 3h0m0-6h0m5 3h0m0 3h0m1-1h0m1-4h0m5 3h0m1 3h0m0-7h0m1 2h0m4 3h0m1-4h0m0 4h0m3 1h0m2-5h0m1 2h0m3 1h0m4-3h0m0 2h0m5-1h0m4 4h0m3 1h0m1-1h0m1-5h0m1 6h0m0-6h0m4 2h0m2 2h0m4-5h0m-91 8h0m0 4h0m1-3h0m0 5h0m1-3h0m1 2h0m4-2h0m0-3h0m1 1h0m0 4h0m1 2h0m3-3h0m2 0h0m1 3h0m0-6h0m0 2h0m0 2h0m1 0h0m1-1h0m0 2h0m2-5h0m1 2h0m1 0h0m3 4h0m1-1h0m0-5h0m3 5h0m1-4h0m3-2h0m1 4h0m5 1h0m3-4h0m0 2h0m1-2h0m1 3h0m2-4h0m1 6h0m0-6h0m2 4h0m2-2h0m1 3h0m2-5h0m1 3h0m0 3h0m1 0h0m1-6h0m4 5h0m1-4h0m1 6h0m2-2h0m3-4h0m0 3h0m1 2h0m1-1h0m1 0h0m1 1h0m1-4h0m0 2h0m0 3h0m2 0h0m1-4h0m2 3h0m0-5h0m1 4h0m1 2h0m4-7h0m1 2h0m4-2h0m-75 12h0m3-1h0m2 0h0m1-1h0m1 0h0m0 2h0m1 0h0m1 3h0m0-5h0m2 5h0m1 0h0m1-2h0m1 1h0m0-5h0m1 4h0m4-5h0m0 6h0m1-2h0m1-1h0m3 4h0m2-6h0m1 1h0m5-2h0m1 4h0m3-2h0m2 1h0m1 2h0m2-3h0m1-2h0m0 2h0m1-1h0m2 4h0m1-4h0m3-1h0m0 2h0m5 0h0m-40 7h0m5 1h0m1-2h0m1 1h0m1 4h0m5-4h0m0 1h0m6 1h0m3 0h0m4-2h0m1 2h0m2 0h0m4-3h0" stroke="#5a52a0" stroke-width="1.8" stroke-linecap="square" fill="none" transform="scale(0.5)"/>
<path d="M1007 96h0m6 2h0m13 7h0m12 24h0m4 3h0m4 1h0m-3 7h0m-1 13h0m-3 9h0m-57 50h0m18 10h0m5 0h0m1 1h0m5-5h0m11 2h0m1 1h0m9 0h0m1-2h0m3 0h0m9 3h0m10 1h0m24-7h0m-84 15h0m2-1h0m1-6h0m2 0h0m3 2h0m6 0h0m1 4h0m3-6h0m0 3h0m3 0h0m2-2h0m2 0h0m1 3h0m3-2h0m12 5h0m7-2h0m0-1h0m1-3h0m1-1h0m2 7h0m6-3h0m3-2h0m4-2h0m1 4h0m0 2h0m3-2h0m0-1h0m-97 8h0m13 1h0m11 2h0m5-5h0m1 4h0m5 2h0m2-6h0m0 3h0m8-2h0m22-2h0m7 7h0m2-7h0m1 6h0m3-6h0m6 1h0m3 3h0m3-2h0m3 3h0m2-1h0m-94 8h0m6 3h0m3-3h0m1-3h0m4 6h0m3-4h0m1-3h0m12 5h0m13 0h0m0-5h0m11 4h0m7-4h0m12 2h0m5 1h0m6 1h0m8 1h0m1-1h0m1 3h0m0-1h0m1-2h0m3 3h0m15-3h0m1-3h0m1 0h0m0 6h0m2-7h0m4 1h0m-127 14h0m2-2h0m23-3h0m1 3h0m2-3h0m4 4h0m4-5h0m12 5h0m15-3h0m4-2h0m2 0h0m0-1h0m1 0h0m5 7h0m11-4h0m1 3h0m7 1h0m1-2h0m2-1h0m3-4h0m3 6h0m3-2h0m4-4h0m0 7h0m1-2h0m3-4h0m3 6h0m4-1h0m2-5h0m12-1h0m1 4h0m0-2h0m1 4h0m7 0h0m-141 7h0m11 1h0m5 0h0m1 0h0m5 0h0m0-6h0m1 1h0m5 2h0m0 2h0m4 0h0m0-1h0m18-3h0m7 5h0m2-2h0m4-2h0m4 3h0m3-5h0m5 0h0m3 3h0m3 0h0m4-2h0m7 0h0m0 4h0m2-5h0m1 7h0m2-5h0m7 4h0m3-5h0m6 6h0m0-7h0m1 3h0m2 0h0m2 1h0m1-3h0m1 4h0m4 0h0m4-5h0m1 4h0m11 1h0m1 0h0m-136 9h0m2 1h0m2-1h0m10-2h0m1 3h0m3-7h0m2 0h0m6 4h0m1 2h0m3-3h0m11 0h0m11-1h0m8 4h0m2 1h0m7-5h0m0 4h0m3-5h0m2 6h0m5-4h0m1-3h0m6 0h0m2 2h0m4-1h0m4 1h0m0-2h0m2 5h0m1-1h0m5-1h0m4-2h0m6 5h0m14 1h0m1-4h0m2-2h0m1 4h0m2-4h0m4 6h0m2-6h0m1-1h0m0 3h0m0-1h0m1 3h0m-144 8h0m10-2h0m0-2h0m2-1h0m3 3h0m4 2h0m9 2h0m7 0h0m13-2h0m2-5h0m4 4h0m6-4h0m1 0h0m4 2h0m3 2h0m1-4h0m2 4h0m2-1h0m7-2h0m7 3h0m2 2h0m1-1h0m2-3h0m5 4h0m4 0h0m6-1h0m4-3h0m4 5h0m2-1h0m3-1h0m7-4h0m1 4h0m0-5h0m6 7h0m-139 1h0m1 5h0m13-3h0m0-1h0m4 6h0m10-3h0m10-2h0m2-1h0m7 0h0m1 1h0m1 4h0m6-1h0m5-2h0m1 3h0m3-3h0m8 1h0m4 1h0m5 2h0m1 0h0m9-3h0m1-4h0m2 7h0m1-3h0m2-2h0m4 5h0m0-5h0m2 0h0m5 4h0m0-1h0m3-2h0m5 1h0m0-1h0m1 3h0m1-4h0m2-1h0m3 4h0m3-2h0m2 2h0m1-1h0m1 1h0m3 0h0m15 1h0m4-5h0m1 3h0m-140 5h0m6 3h0m10-1h0m0-1h0m0-2h0m6 3h0m10 0h0m3 0h0m8 2h0m16-2h0m4 1h0m4 0h0m7 0h0m2 1h0m6-4h0m3-1h0m4 2h0m2 0h0m2-1h0m1 3h0m4-1h0m3 4h0m6-7h0m5 6h0m5-4h0m1 5h0m3-4h0m6-1h0m4 5h0m0-3h0m1 2h0m2-3h0m1 4h0m3-3h0m0 3h0m-140 8h0m4-3h0m10 2h0m0-6h0m2 2h0m2 2h0m0-1h0m3 1h0m0 2h0m5 0h0m0-1h0m5 1h0m9-6h0m1 1h0m7 0h0m3 6h0m7-3h0m2-4h0m1 3h0m4-2h0m4 3h0m3 3h0m4-5h0m11 4h0m1-4h0m0 2h0m2 1h0m3-4h0m1 4h0m4-3h0m0 4h0m1-5h0m2 4h0m1 0h0m1-5h0m5 2h0m2-1h0m2 4h0m2-5h0m1 3h0m3 2h0m5-1h0m4 0h0m13-2h0m4 5h0m-149 8h0m2-2h0m3 0h0m3-4h0m1 4h0m12 2h0m1-2h0m1 2h0m1-3h0m1-2h0m4 1h0m0-1h0m12 5h0m7-3h0m1-3h0m0-1h0m9 5h0m2 1h0m1-6h0m7 4h0m12 3h0m6-4h0m3 1h0m3-2h0m10 3h0m4-2h0m11 2h0m6 0h0m8-3h0m-131 7h0m4 3h0m14 0h0m1 2h0m1-2h0m3-3h0m0 6h0m4-3h0m2 0h0m2-3h0m3 1h0m1 1h0m3-1h0m3 5h0m1-4h0m2 3h0m2 1h0m1-3h0m1-2h0m4 2h0m0 2h0m1-4h0m6-1h0m3-1h0m2 3h0m0-1h0m1 4h0m0-1h0m2 1h0m6-6h0m2 7h0m0-3h0m1 0h0m3 2h0m3-4h0m6 4h0m8-1h0m1-3h0m0 1h0m5 0h0m2-3h0m3 2h0m1 3h0m3-3h0m1 0h0m3 3h0m6-4h0m0 2h0m2-3h0m9 5h0m1-1h0m14 1h0m-141 5h0m3-1h0m2 0h0m0 6h0m2-3h0m5 3h0m12 0h0m2-5h0m3-1h0m2 5h0m5-6h0m13 1h0m2 4h0m0 1h0m11-5h0m0 6h0m5-4h0m11 0h0m1 4h0m4-6h0m2 3h0m14-1h0m19-1h0m1 2h0m2 2h0m3-3h0m11 4h0m0-7h0m-127 11h0m2 2h0m14-1h0m2-1h0m1 3h0m2-4h0m2 2h0m0-3h0m12 6h0m7-4h0m0-1h0m5 4h0m5-3h0m3 4h0m0-6h0m0-1h0m7 0h0m1 1h0m3 0h0m2 1h0m1-1h0m5 4h0m1-2h0m1-1h0m0-2h0m7 0h0m0 3h0m1-2h0m4 0h0m5 4h0m2-2h0m4-2h0m2 2h0m14 2h0m4-5h0m1 1h0m0 3h0m3 3h0m2-4h0m4 2h0m-125 6h0m4 0h0m4-1h0m1 2h0m1-3h0m1 1h0m2 1h0m5 3h0m4-2h0m13 1h0m13-5h0m0 2h0m3 0h0m4-2h0m1 2h0m1 5h0m4 0h0m1-7h0m2 2h0m3 0h0m1 5h0m3 0h0m8-4h0m5-1h0m1 5h0m1-3h0m5-2h0m3-2h0m5 3h0m1-3h0m1 3h0m8 3h0m5-3h0m2-2h0m-114 8h0m6 2h0m0-2h0m2-1h0m1 1h0m2-1h0m18 6h0m9-2h0m3 3h0m7-7h0m2 0h0m24 2h0m3 1h0m4 2h0m18 0h0m1-5h0m1 4h0m0 3h0m4-5h0m1 2h0m2-3h0m1 4h0m3 2h0m0-7h0m4 3h0m1 2h0m-108 7h0m4-2h0m2 4h0m1-2h0m1 3h0m9-2h0m2-5h0m2 1h0m1-1h0m2 0h0m4 5h0m1 2h0m7-4h0m5 3h0m1-2h0m1-1h0m0 1h0m4-4h0m0 4h0m3 1h0m2-2h0m2-3h0m5 4h0m3-1h0m6-3h0m4 2h0m0 4h0m5-4h0m6 3h0m5 2h0m1-2h0m5 1h0m0-6h0m3 2h0m0-1h0m5 4h0m-95 3h0m0 3h0m4 3h0m0-3h0m1 1h0m3 2h0m2-6h0m1 4h0m3-1h0m2-3h0m2 2h0m1 3h0m3-5h0m3 4h0m0-1h0m0 4h0m0-6h0m5 2h0m3 4h0m1-7h0m4 1h0m3 2h0m1-1h0m11 5h0m2-5h0m1-2h0m5 5h0m2-3h0m1-1h0m2 1h0m4-1h0m16 3h0m2-3h0m-72 12h0m1-4h0m6 6h0m1-4h0m2 0h0m0 4h0m1-3h0m0-3h0m2 4h0m5 2h0m4-5h0m6-1h0m3 5h0m8-3h0m2 2h0m5 2h0m6-7h0m11 1h0m-54 7h0m8 1h0m1 0h0m5 3h0m3-3h0m6 0h0m6 2h0m5-3h0" stroke="#4d8abf" stroke-width="1.8" stroke-linecap="square" fill="none" transform="scale(0.5)"/>
<path d="M1046 173h0m-15 7h0m20 2h0m1-2h0m-16 6h0m4 3h0m5-3h0m2 4h0m4 9h0m-27 7h0m2-5h0m26 3h0m-30 11h0m5 0h0m8 0h0m-49 8h0m38-6h0m10 5h0m4 0h0m1-6h0m4 3h0m1 2h0m-123 8h0m77 1h0m10-3h0m5 0h0m4 0h0m14-3h0m-148 15h0m2-2h0m5 2h0m0-5h0m7-2h0m3 3h0m1 4h0m1-2h0m16-2h0m17-2h0m15 4h0m48 2h0m2-7h0m15 5h0m2 0h0m-149 9h0m12-6h0m6 2h0m4 0h0m1 2h0m1 2h0m2 0h0m7-1h0m7 2h0m46-3h0m53 3h0m21-1h0m17-3h0m12 4h0m13 0h0m-207 6h0m4-4h0m4 3h0m0-1h0m1-1h0m1 1h0m3 1h0m5-3h0m4 5h0m0-5h0m3 1h0m4-2h0m4 4h0m2-3h0m5 0h0m30 5h0m31-5h0m26 4h0m20 0h0m13-3h0m24 4h0m-200 6h0m4 1h0m1-1h0m0-2h0m6 1h0m0 4h0m0-5h0m19 1h0m0-1h0m3 4h0m5-4h0m11 0h0m1 2h0m2-1h0m2 3h0m14-5h0m46 6h0m64-7h0m-189 15h0m7-6h0m1 1h0m5 0h0m1 1h0m2-1h0m2 1h0m3-3h0m3 6h0m7-2h0m1 0h0m6-4h0m7 1h0m1 3h0m0-1h0m5 0h0m1-1h0m0-1h0m5 2h0m18 3h0m6 0h0m33-3h0m8 2h0m45 1h0m90-3h0m21 2h0m-280 7h0m0-1h0m1 1h0m2 2h0m1-2h0m4 1h0m3 1h0m6-1h0m1-2h0m2 0h0m1-2h0m4 2h0m2 4h0m0-5h0m1 2h0m1 0h0m0-2h0m2-1h0m0-1h0m11 1h0m5 1h0m3-1h0m9-1h0m3 5h0m2 1h0m1 1h0m0-3h0m2 3h0m2-5h0m20 2h0m15-4h0m12 7h0m93-2h0m75-1h0m-283 9h0m2 1h0m3-3h0m1 0h0m1-2h0m1 6h0m3-4h0m0-3h0m6 4h0m3-3h0m4 0h0m5 1h0m4 2h0m1 3h0m4-1h0m0-3h0m5 2h0m1-4h0m2 1h0m1 3h0m4-1h0m5-1h0m8-3h0m0 1h0m23 2h0m11 3h0m6 0h0m12-2h0m5 1h0m6-1h0m1 2h0m37-3h0m2-1h0m84 3h0m27-1h0m-278 10h0m0 1h0m2-4h0m1-1h0m3 2h0m1 0h0m3-3h0m1 4h0m1 1h0m8-5h0m1 1h0m4-1h0m1 4h0m7-2h0m1 3h0m0 1h0m3-5h0m6 2h0m7 3h0m4-4h0m3-3h0m6 5h0m1-1h0m3 3h0m4-2h0m18-2h0m62-3h0m5 5h0m37-4h0m-190 8h0m3 2h0m1 0h0m1 3h0m1-5h0m6 3h0m0 2h0m2-6h0m3 5h0m5-3h0m0 2h0m1 0h0m1-4h0m4 3h0m1 0h0m3-1h0m3 1h0m1 2h0m0-5h0m1 5h0m6 1h0m3-5h0m6 1h0m1 3h0m2-2h0m1 2h0m6-1h0m31 1h0m6 0h0m-92 4h0m1 1h0m6 1h0m8-1h0m1-1h0m5 0h0m4-1h0m6 0h0m72 2h0m12 4h0m33-6h0m13 3h0m1-1h0m111 0h0m-41 12h0m-11 2h0m21 1h0m-104 11h0m61 1h0m7 9h0m16-1h0m14-5h0m-12 15h0m-57 8h0m53-7h0m3 15h0m-17 6h0m35-5h0" stroke="#eea45a" stroke-width="1.8" stroke-linecap="square" fill="none" transform="scale(0.5)"/>
<path d="M936 223h0m20-1h0m-37 5h0m2 2h0m1-4h0m8 1h0m7 4h0m3-3h0m7 3h0m2-2h0m6-3h0m1 6h0m3-7h0m-52 8h0m1 6h0m23-2h0m6 0h0m0-3h0m1-1h0m19 4h0m-45 7h0m13 2h0m25 1h0m-88 4h0m17 3h0m3 2h0m61-7h0m-56 11h0m10 2h0m20-5h0m24 3h0m9-3h0m-70 13h0m10 2h0m12-7h0m3 1h0m9 4h0m7-5h0m12 2h0m6 0h0m12 0h0m2 5h0m-116 3h0m13 4h0m2-3h0m2 4h0m7-5h0m15 2h0m31 1h0m11-2h0m7 2h0m10 1h0m0-5h0m5 0h0m7 6h0m5-7h0m2 1h0m-121 9h0m0 2h0m7-1h0m6 3h0m1-6h0m3 3h0m3 4h0m12-4h0m12 3h0m28 0h0m19 1h0m12-1h0m2-1h0m9-1h0m4-3h0m7 4h0m1 1h0m-124 6h0m6 1h0m0 2h0m4-5h0m11 2h0m1-4h0m2 1h0m38 0h0m27 0h0m13 0h0m4 3h0m4 3h0m3 0h0m9-5h0m6 0h0m-127 6h0m2 6h0m9-3h0m3-1h0m0 1h0m8 0h0m25 3h0m4-4h0m4 4h0m19-1h0m14-2h0m10 4h0m2-2h0m4-4h0m1 1h0m17 4h0m5-2h0m-118 7h0" stroke="#b8449a" stroke-width="1.8" stroke-linecap="square" fill="none" transform="scale(0.5)"/>
<path d="M894 238h0m7-2h0m-9 5h0m-34 14h0m2-1h0m1-2h0m10 3h0m3-3h0m0 2h0m-19 9h0m3-5h0m2 0h0m20 5h0m3-1h0m8-4h0m-54 11h0m4 2h0m1-1h0m0-1h0m1-1h0m1 1h0m0-4h0m8 3h0m11 0h0m3 0h0m4 0h0m9 2h0m10-3h0m2 4h0m-54 1h0m2 1h0m0 6h0m5-1h0m2-5h0m5 3h0m5 3h0m6-3h0m0-1h0m4-2h0m3-1h0m12 7h0m10-2h0m-56 8h0m3-1h0m2 3h0m5-7h0m11 1h0m3 6h0m2 0h0m6-6h0m10 0h0m3-1h0m18 4h0m-64 11h0m4 0h0m8 0h0m4-6h0m0 3h0m19 3h0m8-2h0m11 0h0m5-3h0m2 1h0m5-1h0m-47 12h0m21-5h0m0 5h0m15-5h0m-41 7h0m7 0h0m17 0h0m8 0h0m3 0h0" stroke="#ee8538" stroke-width="1.8" stroke-linecap="square" fill="none" transform="scale(0.5)"/>
<path d="M970 229h0m1-2h0m37 2h0m13 1h0m11-1h0m1-1h0m-65 10h0m5-2h0m15 0h0m10 2h0m7-3h0m4 3h0m1-3h0m6 1h0m1 0h0m1 1h0m1-3h0m14-2h0m23 1h0m-88 12h0m1-2h0m1-3h0m3 7h0m17-1h0m0-6h0m4 1h0m5 0h0m4 6h0m7-2h0m3 2h0m6-2h0m0 1h0m2 1h0m1-4h0m2-2h0m0 1h0m3 5h0m7-5h0m3 4h0m-68 3h0m6 5h0m6 1h0m7-3h0m1 0h0m1 0h0m4-1h0m1 0h0m0-1h0m2 0h0m3 4h0m3-5h0m7 0h0m5 2h0m2 1h0m2 1h0m11-1h0m2-1h0m1 2h0m2 2h0m0-1h0m-62 7h0m1 0h0m9-1h0m7 3h0m6-4h0m4-1h0m2 0h0m1-1h0m2 2h0m8 2h0m2-3h0m3-1h0m1 0h0m1 1h0m4-1h0m1 5h0m0-5h0m1 4h0m0 1h0m6 1h0m8 0h0m9-4h0m38 1h0m-122 7h0m3 3h0m9-1h0m10-2h0m0 1h0m2 3h0m4-2h0m5-4h0m0 2h0m3 4h0m3-3h0m2 1h0m0-3h0m2-2h0m2 4h0m2 1h0m6 2h0m2-5h0m0 1h0m7-3h0m73 3h0m-135 12h0m10-2h0m8 2h0m0-7h0m2 1h0m4-1h0m4 3h0m1-1h0m1-1h0m2-1h0m3 7h0m1 0h0m2-3h0m1 0h0m4 3h0m6-7h0m5 0h0m0 6h0m6-2h0m12-1h0m24 0h0m24-2h0m-109 12h0m8-1h0m8-3h0m18-1h0m2 1h0m15 4h0m3 2h0m31-3h0m30-1h0m-119 10h0m2 1h0m3-6h0m10 5h0m1 0h0m4-4h0m18 1h0m86-1h0m-120 9h0m0 4h0m7-1h0m3-3h0m1 3h0m4 1h0m25 1h0m-50 7h0m8 0h0m2-3h0m9 4h0m5-1h0m5-2h0m-31 5h0m9-1h0m1 1h0m1-1h0m99 3h0m5 3h0m-98 7h0m2-2h0m31-2h0m33 3h0m-18 9h0m46-5h0m-36 23h0m-15 20h0m54-1h0" stroke="#ffffff" stroke-width="1.8" stroke-linecap="square" fill="none" transform="scale(0.5)"/>
<path d="M1001 223h0m7-5h0m1 4h0m3 0h0m2-2h0m3 1h0m0-1h0m4 3h0m2 0h0m0-1h0m1-2h0m1 1h0m18 1h0m-49 4h0m7 2h0m1-2h0m1 5h0m1 0h0m2-3h0m4-1h0m5 4h0m1-2h0m13-2h0m7 0h0m3 1h0m1 1h0m5-1h0m8-4h0m1 4h0m2 1h0m5-5h0m1 3h0m1 0h0m-82 9h0m2 2h0m1-4h0m0-1h0m13 1h0m30-2h0m5 1h0m5 6h0m0-6h0m7 5h0m6-5h0m2 0h0m3-1h0m3 4h0m0-3h0m-23 10h0m3-2h0m10-1h0m1 7h0m8-5h0m14 3h0m4-2h0m0 1h0m1-1h0m2 2h0m1-3h0m5-2h0m7 1h0m2-1h0m3 4h0m-108 4h0m56 7h0m1-1h0m3 0h0m2-6h0m1 2h0m1-2h0m7 1h0m1-1h0m1 4h0m1-3h0m1 1h0m1 1h0m3 0h0m4 1h0m2 0h0m1 3h0m4-3h0m2-2h0m1 2h0m4-2h0m7 5h0m3-2h0m2-5h0m1 5h0m0-5h0m2 6h0m5-2h0m-67 11h0m1-2h0m5-5h0m10 0h0m5 4h0m4 3h0m0-7h0m2 4h0m3 0h0m8 1h0m3 2h0m4-4h0m2 2h0m1-2h0m11-1h0m9 4h0m0-2h0m2-2h0m-132 13h0m7-6h0m52 4h0m2-5h0m6 5h0m0-5h0m1 6h0m6-6h0m1 7h0m2-4h0m2-3h0m1 0h0m3 3h0m9-2h0m2 5h0m13 1h0m4 0h0m1-2h0m9-5h0m2 0h0m13 3h0m1 4h0m-137 4h0m3 0h0m1 4h0m5-2h0m7-1h0m1 1h0m6 2h0m10 0h0m17-2h0m10 0h0m7 0h0m7-3h0m9-1h0m1 2h0m4-1h0m3 2h0m5 0h0m4 0h0m0-4h0m5 0h0m5 6h0m2-6h0m3 3h0m9-2h0m9 4h0m0-3h0m5 0h0m1 5h0m3-7h0m0 7h0m-144 5h0m14-4h0m5 5h0m5-5h0m2 6h0m11-3h0m6 0h0m2-3h0m1 7h0m2-6h0m0 2h0m1-3h0m1 2h0m6-1h0m8 4h0m5-2h0m6-2h0m0-1h0m1 7h0m10-5h0m1 5h0m1-7h0m1 0h0m4 1h0m5 0h0m1 5h0m6-5h0m3-1h0m2 2h0m3 3h0m6-2h0m1-3h0m1 1h0m3 1h0m2 2h0m3 0h0m2 1h0m1-4h0m3 3h0m4 1h0m4-2h0m-131 8h0m0-3h0m4 1h0m0 3h0m0 3h0m1-1h0m3-6h0m2 7h0m2-6h0m4 4h0m3-3h0m3 4h0m5-2h0m4 2h0m4-1h0m3-3h0m0 4h0m4-2h0m1 1h0m1-2h0m1 4h0m3-3h0m2-1h0m0-2h0m5 1h0m0 4h0m9-5h0m6-1h0m0 2h0m6 1h0m1-1h0m1 4h0m5 0h0m4-5h0m5 6h0m2-3h0m1-1h0m1 0h0m12-2h0m1 0h0m2 3h0m9-3h0m2 0h0m1 1h0m-128 10h0m9 0h0m1-4h0m1 4h0m11-2h0m2 2h0m1 1h0m5 1h0m7-6h0m6 3h0m11-1h0m1 3h0m3-2h0m1 1h0m2-2h0m2 4h0m1-2h0m1-3h0m2 5h0m6-4h0m2 5h0m1 0h0m4-2h0m0-1h0m7 1h0m2-2h0m7 3h0m3-4h0m6 0h0m15 4h0m0-1h0m1 0h0m1 0h0m2-1h0m4 0h0m0 2h0m3-6h0m0 7h0m2-1h0m1 0h0m-132 2h0m4 6h0m3-3h0m3 1h0m2 1h0m1 2h0m2-3h0m1 0h0m3 0h0m5 1h0m2-5h0m1 7h0m16-4h0m1 0h0m1-2h0m6 1h0m0-2h0m2 2h0m1 4h0m3 1h0m0-2h0m22-5h0m1 4h0m2-4h0m8 6h0m2-6h0m2 5h0m5-4h0m4 5h0m3 1h0m5-5h0m1 5h0m0-6h0m8 5h0m8-4h0m4 0h0m0-1h0m-136 13h0m1-3h0m8-2h0m2 1h0m5 3h0m1-1h0m5-3h0m2 4h0m1 0h0m9 0h0m2-1h0m6-1h0m1-1h0m0-2h0m7 1h0m2 1h0m2 2h0m8 3h0m3-5h0m3 1h0m5-3h0m6 5h0m9-3h0m0-1h0m17-1h0m11 1h0m1 2h0m2-3h0m4 6h0m0-5h0m1 1h0m9 3h0m1-5h0m2 6h0m3-5h0m-137 7h0m0 1h0m6-1h0m2 5h0m2 1h0m11 0h0m1-2h0m6 0h0m2-3h0m3 6h0m1-1h0m4-5h0m1 3h0m1-1h0m3 3h0m0-5h0m3 6h0m2-1h0m0-5h0m0-1h0m5 1h0m0-1h0m4 1h0m0 4h0m4 0h0m7-2h0m8 4h0m1 0h0m4-4h0m0-3h0m2 3h0m9 1h0m1-3h0m2-1h0m4 6h0m1-3h0m0-2h0m1-1h0m3 7h0m1-2h0m11-2h0m2-1h0m10-1h0m2 2h0m1 4h0m1-1h0m5-5h0m-133 10h0m2-1h0m1 1h0m3 0h0m1-3h0m1 3h0m5-2h0m2 2h0m4-3h0m8 1h0m3 6h0m8 0h0m1-1h0m0-1h0m3-1h0m1-3h0m0 2h0m1 3h0m2-5h0m3 3h0m6-4h0m1 1h0m3 3h0m1-4h0m8 3h0m2-1h0m1 4h0m0-6h0m1 3h0m2 3h0m3-4h0m2 3h0m2 2h0m1-6h0m22 2h0m5 3h0m2-1h0m5-5h0m0 4h0m2-3h0m1 3h0m6-3h0m1 0h0m1 0h0m1 1h0m0-1h0m1-1h0m0 2h0m-127 7h0m2 5h0m0-2h0m6 2h0m2 1h0m4 0h0m3-1h0m4 0h0m1-1h0m2-2h0m13 4h0m3-4h0m3 3h0m2-3h0m1 3h0m2-1h0m0-1h0m0-2h0m2 2h0m1-2h0m3-1h0m4 6h0m4-2h0m3-4h0m2 0h0m8-1h0m1 7h0m4-1h0m1-1h0m1 1h0m2-6h0m3 7h0m10-2h0m1-4h0m3 2h0m4-2h0m1-1h0m5 6h0m1-6h0m2 1h0m1 2h0m1 3h0m6-5h0m-112 13h0m1 1h0m1-4h0m10-2h0m9-1h0m3 3h0m5 3h0m1 1h0m1-2h0m0-5h0m1 3h0m4-2h0m2 6h0m7-5h0m2-1h0m4 6h0m2 0h0m3-7h0m11 4h0m4 1h0m0-1h0m1-4h0m1 4h0m3-3h0m9 3h0m1 3h0m2-4h0m1 1h0m5 1h0m1-4h0m6 4h0m2-5h0m1 3h0m0 3h0m3-6h0m1 3h0m3 1h0m2-2h0m-111 6h0m3 2h0m2 1h0m7 3h0m2-2h0m7-1h0m2-3h0m11 4h0m1 3h0m8-6h0m6 0h0m1 4h0m2-5h0m2 5h0m1-3h0m3 3h0m1-2h0m2 0h0m4 1h0m2 1h0m0-1h0m4-4h0m5 0h0m1 7h0m2-5h0m8 1h0m2-2h0m4 6h0m7-2h0m3-2h0m3-1h0m1-2h0m-87 10h0m3-1h0m7 2h0m3-3h0m2 0h0m3 1h0m4 6h0m3-7h0m3 2h0m5-1h0m1 1h0m0-2h0m10 2h0m9 3h0m0-5h0m5 3h0m1 1h0m6-3h0m2 3h0m5-3h0m-60 8h0m4 6h0m1-3h0m5 1h0m2-4h0m9 1h0m1 0h0m2 0h0m7-1h0m1 2h0m0 1h0m1 2h0m1 1h0m1-2h0m4-3h0m2-1h0m6 3h0m7-1h0m-43 8h0m4 0h0m3-3h0m2 4h0m1-2h0m2 1h0m5-3h0" stroke="#6a5aa8" stroke-width="1.8" stroke-linecap="square" fill="none" transform="scale(0.5)"/>
<path d="M1005 222h0m33-1h0m-44 9h0m38-2h0m4-1h0m8-1h0m-63 9h0m6 1h0m13 0h0m8-3h0m1 2h0m16-2h0m5 0h0m24 3h0m-47 11h0m15-6h0m26 0h0m3 5h0m10-6h0m39 5h0m-112 3h0m3 7h0m4-3h0m15-4h0m1 1h0m0 4h0m4 0h0m1-3h0m60 5h0m-94 8h0m43-3h0m3-2h0m17 2h0m14-2h0m7 1h0m15 2h0m9-3h0m12-2h0m-104 14h0m18-3h0m19-2h0m52 1h0m-85 8h0m14-1h0m19 4h0m35-2h0m12-3h0m-90 11h0m3-2h0m16 6h0m9-7h0m16 6h0m5 1h0m8-4h0m2-2h0m12 0h0m3 1h0m19-2h0m20 6h0m11-1h0m3 1h0m-143 2h0m17 1h0m27 6h0m16-4h0m56 2h0m3-4h0m6 5h0m0 1h0m-103 2h0m4 0h0m15 1h0m13-2h0m8 0h0m3 5h0m7 1h0m22-5h0m1 3h0m2 2h0m4 0h0m2-6h0m12 0h0m12 7h0m5-1h0m-122 2h0m13 6h0m47-2h0m5-2h0m10 1h0m13-3h0m12 4h0m0 2h0m4-2h0m5 1h0m-117 5h0m3 4h0m35 1h0m30-3h0m17-3h0m4-1h0m11 0h0m24 5h0m12 1h0m-123 9h0m20-2h0m11 2h0m8-2h0m4-3h0m56 3h0m13-4h0m11 5h0m1-1h0m-86 3h0m25 0h0m0 3h0m2-3h0m20 5h0m23 0h0m-112 3h0m13 6h0m3-1h0m11 2h0m10-5h0m7-1h0m40 2h0m-79 7h0m2 3h0m1 2h0m5-7h0m6 1h0m71 1h0m-72 12h0m11-6h0m19 3h0m52-2h0m11 6h0m-85 5h0m52-2h0m-26 10h0m5 3h0m8-3h0m5 3h0m2-3h0m1-4h0m10 0h0m-8 8h0m4 2h0" stroke="#b886c0" stroke-width="1.8" stroke-linecap="square" fill="none" transform="scale(0.5)"/>
<text x="478.5" y="75.2" font-size="8.6">DHA<tspan font-size="6" dy="-4.2">-</tspan><tspan dy="4.2">_0h</tspan></text>
<text x="417.6" y="110.2" font-size="8.6">DHA<tspan font-size="6" dy="-4.2">-</tspan><tspan dy="4.2">_6h/9h</tspan></text>
<text x="510.3" y="201.4" font-size="8.6">DHA<tspan font-size="7" dy="-4.8">+</tspan><tspan dy="4.8">_6h/9h</tspan></text>
<path d="M407.6 164.2 V198.7 H441.6" fill="none" stroke="#444" stroke-width="0.9"/>
<text x="0" y="0" font-size="10.9" text-anchor="middle" transform="translate(400.5,180.4) rotate(-90)">UMAP/2</text>
<text x="404.6" y="213.2" font-size="10.6">UMAP/1</text>
<circle cx="577.4" cy="47.00" r="3.5" fill="#e8c070"/>
<text x="584" y="50.9" font-size="10.8">PfM-KD(-/-)_0h</text>
<circle cx="577.4" cy="62.10" r="3.5" fill="#eea45a"/>
<text x="584" y="66.0" font-size="10.8">PfM-KD(-/-)_6h</text>
<circle cx="577.4" cy="77.20" r="3.5" fill="#ee8538"/>
<text x="584" y="81.1" font-size="10.8">PfM-KD(-/-)_9h</text>
<circle cx="577.4" cy="92.30" r="3.5" fill="#4d8abf"/>
<text x="584" y="96.2" font-size="10.8">PfM-KD(-/+)_6h</text>
<circle cx="577.4" cy="107.40" r="3.5" fill="#3d62ad"/>
<text x="584" y="111.3" font-size="10.8">PfM-KD(-/+)_9h</text>
<circle cx="577.4" cy="122.50" r="3.5" fill="#f0a8b4"/>
<text x="584" y="126.4" font-size="10.8">PfM-KD(+/-)_0h</text>
<circle cx="577.4" cy="137.60" r="3.5" fill="#e472a8"/>
<text x="584" y="141.5" font-size="10.8">PfM-KD(+/-)_6h</text>
<circle cx="577.4" cy="152.70" r="3.5" fill="#b8449a"/>
<text x="584" y="156.6" font-size="10.8">PfM-KD(+/-)_9h</text>
<circle cx="577.4" cy="167.80" r="3.5" fill="#5a52a0"/>
<text x="584" y="171.7" font-size="10.8">PfM-KD(+/+)_6h</text>
<circle cx="577.4" cy="182.90" r="3.5" fill="#b886c0"/>
<text x="584" y="186.8" font-size="10.8">PfM-KD(+/+)_9h</text>
<text x="5.4" y="247.6" font-size="22" font-weight="bold">c</text>
<defs><filter id="cb" x="-10%" y="-10%" width="120%" height="120%"><feGaussianBlur stdDeviation="0.6"/></filter></defs>
<path d="M23.6 326.1 C17.2 330.4 12.2 340.6 11.2 347.2 C10.2 353.8 13.1 363.1 17.4 365.8 C21.7 368.5 29.8 363.8 37.2 363.4 C44.6 363.0 55.4 362.6 62.0 363.4 C68.6 364.2 73.3 366.0 77.0 368.3 C80.7 370.6 81.5 373.1 84.4 377.0 C87.3 380.9 90.2 388.2 94.3 391.9 C98.4 395.6 104.2 397.7 109.2 399.4 C114.2 401.1 119.1 402.3 124.1 402.3 C129.1 402.3 134.0 401.5 139.0 399.4 C144.0 397.2 150.0 394.0 153.9 389.4 C157.8 384.8 160.9 378.2 162.6 372.0 C164.2 365.8 164.4 358.4 163.8 352.2 C163.2 346.0 161.3 339.4 158.8 334.8 C156.3 330.2 152.6 327.0 148.9 324.9 C145.2 322.8 140.2 322.4 136.5 322.4 C132.8 322.4 129.9 323.2 126.6 324.9 C123.3 326.5 120.0 330.9 116.7 332.3 C113.4 333.8 110.4 334.4 106.7 333.6 C103.0 332.8 97.2 329.7 94.3 327.4 C91.4 325.1 92.7 321.7 89.4 320.0 C86.1 318.3 81.1 317.2 74.5 317.4 C67.9 317.6 58.1 319.8 49.6 321.2 C41.1 322.6 30.0 321.8 23.6 326.1Z" fill="none" stroke="#b8b8b8" stroke-width="0.9" stroke-dasharray="2.6,1.8"/>
<path d="M97.5 252.3 C99.4 251.0 102.9 251.2 106.0 252.0 C109.1 252.8 112.8 254.7 116.0 257.0 C119.2 259.3 122.3 262.5 125.0 266.0 C127.7 269.5 130.3 273.8 132.0 278.0 C133.7 282.2 134.8 286.7 135.0 291.0 C135.2 295.3 134.7 299.8 133.5 304.0 C132.3 308.2 130.1 312.7 128.0 316.0 C125.9 319.3 123.2 322.3 121.0 324.0 C118.8 325.7 117.0 326.6 115.0 326.3 C113.0 326.0 110.8 324.4 109.0 322.0 C107.2 319.6 105.5 315.8 104.0 312.0 C102.5 308.2 101.2 303.7 100.0 299.0 C98.8 294.3 97.8 288.8 97.0 284.0 C96.2 279.2 95.4 274.0 95.0 270.0 C94.6 266.0 94.2 262.9 94.6 260.0 C95.0 257.1 95.6 253.6 97.5 252.3Z" fill="none" stroke="#3a9a7e" stroke-width="1.1" stroke-dasharray="3,2"/>
<g filter="url(#cb)">
<path d="M13.5 340.5 C11.9 342.6 10.8 346.8 10.6 350.0 C10.4 353.2 11.0 357.4 12.6 359.8 C14.2 362.2 17.4 363.8 20.0 364.2 C22.6 364.6 26.8 364.5 28.5 362.5 C30.2 360.5 30.2 355.6 30.0 352.0 C29.8 348.4 29.2 343.4 27.5 341.0 C25.8 338.6 22.3 337.6 20.0 337.5 C17.7 337.4 15.1 338.4 13.5 340.5Z" fill="#3a98d0" stroke="#3a98d0" stroke-width="2.2" stroke-linejoin="round" opacity="0.66"/>
<path d="M24.8 333.6 C27.1 330.7 34.1 325.5 37.2 324.9 C40.3 324.3 42.8 326.2 43.4 329.9 C44.0 333.6 41.0 342.2 41.0 347.2 C41.0 352.1 45.3 356.9 43.4 359.6 C41.5 362.3 32.5 364.4 29.8 363.4 C27.1 362.4 28.3 356.9 27.3 353.4 C26.3 349.9 24.0 345.6 23.6 342.3 C23.2 339.0 22.5 336.5 24.8 333.6Z" fill="#2f7ab8" stroke="#2f7ab8" stroke-width="2.2" stroke-linejoin="round" opacity="0.66"/>
<path d="M41.0 327.4 C42.9 323.5 48.2 322.9 50.9 323.7 C53.6 324.5 54.4 329.8 57.1 332.3 C59.8 334.8 64.5 335.6 67.0 338.5 C69.5 341.4 71.4 345.6 72.0 349.7 C72.6 353.8 73.2 361.8 70.7 363.4 C68.2 365.0 61.7 360.2 57.1 359.6 C52.5 359.0 46.3 361.7 43.4 359.6 C40.5 357.5 40.1 352.6 39.7 347.2 C39.3 341.8 39.1 331.3 41.0 327.4Z" fill="#8db84e" stroke="#8db84e" stroke-width="2.2" stroke-linejoin="round" opacity="0.66"/>
<path d="M50.9 323.7 C51.7 321.5 59.3 322.1 64.5 321.9 C69.7 321.7 77.6 321.7 81.9 322.4 C86.2 323.1 88.9 324.0 90.6 326.1 C92.2 328.2 93.2 332.5 91.8 334.8 C90.3 337.1 85.6 338.8 81.9 339.8 C78.2 340.8 73.2 341.8 69.5 341.0 C65.8 340.2 62.7 337.7 59.6 334.8 C56.5 331.9 50.1 325.9 50.9 323.7Z" fill="#3cb6b8" stroke="#3cb6b8" stroke-width="2.2" stroke-linejoin="round" opacity="0.66"/>
<path d="M67.0 342.3 C68.9 339.2 77.8 341.0 81.9 338.5 C86.0 336.0 88.5 328.8 91.8 327.4 C95.1 326.0 98.5 328.2 101.8 329.9 C105.1 331.5 109.6 334.0 111.7 337.3 C113.8 340.6 115.5 346.8 114.2 349.7 C113.0 352.6 107.5 353.0 104.2 354.7 C100.9 356.4 97.2 357.5 94.3 359.6 C91.4 361.7 90.2 366.1 86.9 367.1 C83.6 368.1 77.2 367.5 74.5 365.8 C71.8 364.1 72.0 361.1 70.7 357.2 C69.5 353.3 65.1 345.4 67.0 342.3Z" fill="#a699cf" stroke="#a699cf" stroke-width="2.2" stroke-linejoin="round" opacity="0.55"/>
<path d="M112.9 339.8 C113.3 337.3 114.4 334.4 116.7 332.3 C119.0 330.2 122.9 328.6 126.6 327.4 C130.3 326.2 134.9 324.5 139.0 324.9 C143.1 325.3 148.3 327.4 151.4 329.9 C154.5 332.4 156.6 336.7 157.6 339.8 C158.6 342.9 159.5 346.2 157.6 348.5 C155.7 350.8 149.9 351.9 146.4 353.4 C142.9 354.8 139.8 355.8 136.5 357.2 C133.2 358.6 129.5 362.5 126.6 362.1 C123.7 361.7 121.2 357.2 119.1 354.7 C117.0 352.2 115.2 349.7 114.2 347.2 C113.2 344.7 112.5 342.3 112.9 339.8Z" fill="#f2ab3b" stroke="#f2ab3b" stroke-width="2.2" stroke-linejoin="round" opacity="0.66"/>
<path d="M126.6 362.1 C127.8 359.2 131.3 359.5 136.5 357.2 C141.7 354.9 153.9 348.1 157.6 348.5 C161.3 348.9 159.0 355.3 158.8 359.6 C158.6 363.9 158.1 370.4 156.4 374.5 C154.8 378.6 151.8 382.8 148.9 384.5 C146.0 386.2 142.3 386.2 139.0 384.5 C135.7 382.8 131.2 378.2 129.1 374.5 C127.0 370.8 125.4 365.0 126.6 362.1Z" fill="#d63b47" stroke="#d63b47" stroke-width="2.2" stroke-linejoin="round" opacity="0.66"/>
<path d="M124.1 367.1 C125.1 365.4 126.6 371.6 129.1 374.5 C131.6 377.4 135.7 382.8 139.0 384.5 C142.3 386.2 148.1 383.3 148.9 384.5 C149.7 385.7 146.5 389.8 144.0 391.9 C141.5 394.0 137.1 395.9 134.0 396.9 C130.9 397.9 127.1 400.2 125.3 398.1 C123.5 396.0 123.1 389.7 122.9 384.5 C122.7 379.3 123.1 368.8 124.1 367.1Z" fill="#ee5a40" stroke="#ee5a40" stroke-width="2.2" stroke-linejoin="round" opacity="0.66"/>
<path d="M86.9 367.1 C88.1 364.6 91.4 361.7 94.3 359.6 C97.2 357.5 100.9 356.4 104.2 354.7 C107.5 353.0 111.7 349.7 114.2 349.7 C116.7 349.7 117.0 352.6 119.1 354.7 C121.2 356.8 125.8 360.0 126.6 362.1 C127.4 364.2 124.7 365.0 124.1 367.1 C123.5 369.2 124.1 372.9 122.9 374.5 C121.7 376.1 118.6 375.3 116.7 377.0 C114.8 378.7 113.8 382.4 111.7 384.5 C109.6 386.6 106.7 388.2 104.2 389.4 C101.7 390.6 99.3 392.7 96.8 391.9 C94.3 391.1 91.1 387.4 89.4 384.5 C87.8 381.6 87.3 377.4 86.9 374.5 C86.5 371.6 85.7 369.6 86.9 367.1Z" fill="#3d8158" stroke="#3d8158" stroke-width="2.2" stroke-linejoin="round" opacity="0.66"/>
<path d="M111.7 384.5 C113.8 382.4 114.8 378.7 116.7 377.0 C118.6 375.3 121.7 373.2 122.9 374.5 C124.1 375.8 123.7 380.6 124.1 384.5 C124.5 388.4 126.1 395.6 125.3 398.1 C124.5 400.6 121.8 399.4 119.1 399.4 C116.4 399.4 111.9 399.4 109.2 398.1 C106.5 396.9 103.8 393.3 103.0 391.9 C102.2 390.4 102.8 390.6 104.2 389.4 C105.7 388.2 109.6 386.6 111.7 384.5Z" fill="#6262ac" stroke="#6262ac" stroke-width="2.2" stroke-linejoin="round" opacity="0.66"/>
<path d="M97.5 254.0 C97.9 253.8 101.3 253.5 103.4 254.4 C105.5 255.3 108.0 257.4 110.2 259.4 C112.4 261.4 114.7 264.2 116.6 266.6 C118.5 269.0 120.2 271.5 121.6 273.9 C123.0 276.3 126.0 280.3 125.2 281.2 C124.4 282.1 118.5 280.6 117.0 279.0 C115.5 277.4 116.9 274.2 116.3 271.8 C115.7 269.4 114.7 266.8 113.2 264.6 C111.7 262.4 109.3 260.1 107.2 258.6 C105.1 257.1 102.4 256.2 100.8 255.4 C99.2 254.6 97.1 254.2 97.5 254.0Z" fill="#c59dc6" stroke="#c59dc6" stroke-width="0.6" stroke-linejoin="round" opacity="0.66"/>
<path d="M113.5 281.0 C115.6 280.3 123.0 279.3 125.2 281.2 C127.4 283.1 126.4 288.8 126.7 292.6 C127.0 296.4 127.3 301.1 127.0 304.2 C126.7 307.3 126.2 309.0 125.0 311.0 C123.8 313.0 122.0 315.2 120.0 316.0 C118.0 316.8 114.2 317.3 113.0 316.0 C111.8 314.7 112.5 310.6 112.5 308.0 C112.5 305.4 113.6 303.5 113.3 300.7 C113.0 297.9 110.8 293.5 110.6 291.0 C110.4 288.5 111.9 287.2 112.4 285.5 C112.9 283.8 111.4 281.7 113.5 281.0Z" fill="#35b58b" stroke="#35b58b" stroke-width="0.6" stroke-linejoin="round" opacity="0.55"/>
</g>
<path d="M32 679h0m3 0h0m2-2h0m0 1h0m4 0h0m-14 5h0m0 4h0m1-2h0m1 2h0m1-6h0m1-1h0m1 3h0m0 3h0m1-2h0m0-3h0m1 4h0m0-2h0m1 1h0m1 1h0m0-5h0m0 3h0m0 4h0m0-5h0m0-1h0m1 3h0m0-1h0m2-3h0m0 7h0m2-5h0m1 2h0m2-2h0m0-1h0m1-1h0m0 3h0m0 4h0m0-5h0m2 0h0m2 0h0m0-2h0m0 4h0m1 1h0m0-1h0m0-2h0m0-1h0m1 6h0m0-3h0m1-2h0m1 5h0m0-5h0m1 5h0m0-5h0m0 4h0m0-1h0m2 1h0m-32 6h0m0 3h0m1-5h0m0 4h0m0-1h0m0 2h0m1-1h0m0-2h0m1-2h0m0 4h0m1-6h0m1 2h0m1 1h0m0 4h0m0-2h0m1-3h0m0-1h0m2 0h0m0 4h0m0 2h0m1-3h0m1 0h0m0 2h0m0-6h0m1 3h0m1-3h0m0 4h0m1 0h0m0-1h0m0 3h0m0-5h0m1 5h0m0-6h0m0 7h0m0-5h0m1 1h0m0 3h0m1-1h0m0 1h0m1 1h0m0-2h0m0-1h0m1 2h0m1-5h0m0-1h0m1 6h0m1 1h0m3-4h0m0 4h0m1-6h0m0-1h0m1 3h0m0 3h0m1-6h0m0 4h0m1 0h0m3-4h0m0 3h0m2 4h0m-36 6h0m0-1h0m1 2h0m0-5h0m0-1h0m1 1h0m0 4h0m1-3h0m0 3h0m2 2h0m1-4h0m0-1h0m0 4h0m0-6h0m1 3h0m0 4h0m1-2h0m1-4h0m1 0h0m0 4h0m0-1h0m1 3h0m0-2h0m0-2h0m3 0h0m0 4h0m0-5h0m0 3h0m0-5h0m1 7h0m0-1h0m1-2h0m0-1h0m0 4h0m1-5h0m2 5h0m1-7h0m2 5h0m1-3h0m0 2h0m1-2h0m1-1h0m1 6h0m0-5h0m1-1h0m0 2h0m1-3h0m1 7h0m1-5h0m1-1h0m0 4h0m1-1h0m0 3h0m1-5h0m0 3h0m1 0h0m0-1h0m1 0h0m1 0h0m1 3h0m0-1h0m-37 4h0m2-1h0m0 4h0m1 2h0m0-6h0m0-1h0m1 4h0m0-1h0m0 4h0m1-5h0m0 3h0m0-1h0m1 1h0m2 2h0m1-7h0m0 7h0m0-6h0m1 6h0m0-4h0m1 0h0m2-1h0m0 3h0m0-2h0m1 2h0m0-1h0m2-1h0m0-1h0m0 4h0m0-2h0m1 2h0m1-4h0m0-1h0m0-1h0m1 2h0m1 5h0m0-5h0m1 2h0m0-1h0m1-1h0m0 4h0m0-5h0m1 2h0m1-1h0m0 1h0m2-2h0m0 6h0m1-1h0m0-1h0m0-1h0m1 0h0m0-1h0m0 4h0m0-6h0m1 1h0m0-1h0m1 1h0m0 4h0m1-1h0m0-1h0m0 2h0m1-2h0m2 1h0m0-5h0m0 6h0m1-2h0m0-1h0m1 1h0m0 3h0m0-1h0m1 1h0m0-7h0m-35 8h0m1 4h0m0-1h0m0-2h0m1 6h0m1-2h0m2-2h0m1 4h0m0-7h0m1 3h0m1 0h0m0 3h0m0-1h0m1 2h0m1-1h0m1-5h0m0 4h0m1 0h0m0-5h0m0 4h0m2 3h0m1 0h0m0-5h0m1 0h0m0-1h0m1-1h0m1 6h0m0-2h0m1 3h0m1-3h0m0-1h0m0 4h0m1-1h0m0-1h0m0-1h0m0-1h0m1 3h0m0-5h0m0 4h0m1-1h0m1-2h0m0-1h0m0 2h0m1-3h0m1 1h0m0 6h0m1-5h0m0-2h0m1 7h0m0-6h0m3-1h0m1 1h0m2 4h0m0-5h0m-31 8h0m1 0h0m6 0h0m0 4h0m1-4h0m1 5h0m1-3h0m1 5h0m1-4h0m0 1h0m1 0h0m0-2h0m0 4h0m0-1h0m1-1h0m1 3h0m2-1h0m0 1h0m1-4h0m0 4h0m0-3h0m1 0h0m0-1h0m0 3h0m1 0h0m0-1h0m0-1h0m0-1h0m1 4h0m0-6h0m0-1h0m1 5h0m0-1h0m1 2h0m0-6h0m0 4h0m1-1h0m0 2h0m1 0h0m0-4h0m1 1h0m0 2h0m3-2h0m-14 6h0" stroke="#3a98d0" stroke-width="1.6" stroke-linecap="square" fill="none" transform="scale(0.5)"/>
<path d="M198 509h0m1-1h0m0 1h0m1 0h0m0 1h0m1-1h0m1 0h0m1 1h0m0-1h0m0 2h0m1-1h0m0-1h0m0 2h0m1-2h0m1 1h0m1 0h0m1 1h0m-3 1h0m2 0h0m0 1h0m1 0h0m2-1h0m0 2h0m0-1h0m1 1h0m0 1h0m1-1h0m0 1h0m2 1h0m1 1h0m1 0h0m0 1h0m1-1h0m1 2h0m1-1h0m0 1h0m-1 1h0m1 2h0m0-1h0m1 0h0m0-1h0m1 1h0m1-1h0m0 3h0m0 1h0m1-1h0m0-1h0m1 2h0m0-1h0m0 3h0m1-2h0m3 7h0m0 1h0m0-4h0m0 1h0m1 5h0m0 1h0m0-4h0m0 1h0m1-1h0m0 2h0m1 0h0m1 1h0m0 1h0m0-3h0m1 3h0m1 0h0m-3 1h0m0 2h0m2-2h0m0 2h0m0-1h0m0 5h0m0-1h0m0 2h0m1-4h0m0 2h0m1-1h0m0 1h0m1-2h0m0 2h0m0 2h0m0-5h0m1 3h0m1-1h0m0 2h0m1 0h0m0 1h0m-6 6h0m1-1h0m0 1h0m0 2h0m0-5h0m1 5h0m1 0h0m0-7h0m0 2h0m0 2h0m1 0h0m0 1h0m0 2h0m0-6h0m1 3h0m0-3h0m1 5h0m0 1h0m1-1h0m1 1h0m0-6h0m0 2h0m0-1h0m0 4h0m0-1h0m1-1h0m0 2h0m1 0h0m0 1h0m-9 7h0m1-6h0m1 0h0m1 0h0m0 3h0m0 2h0m1 1h0m1-6h0m0 1h0m0 3h0m0-1h0m1 3h0m0-6h0m0 2h0m0 1h0m1 0h0m0-3h0m1 1h0m0 6h0m1-6h0m0 6h0m0-5h0m1-1h0m0 2h0m0 4h0m1-7h0m0 3h0m0 2h0m0 2h0m1-4h0m0 2h0m1-1h0m0 3h0m0-1h0m1 0h0m-21 9h0m1-5h0m4 4h0m3 1h0m2-1h0m7-1h0m0 2h0m1-5h0m1 5h0m1-6h0m0-1h0m2 1h0m0 1h0m-25 11h0m1 2h0m2-2h0m1 2h0m1-3h0m4 0h0m1-1h0m0-2h0m0-1h0m2 4h0m0 2h0m1-5h0m1 2h0m1 1h0m1 2h0m1-3h0m1 3h0m0-4h0m1 0h0m1-2h0m6 6h0m1-1h0m0 2h0m0-6h0m-28 11h0m0-1h0m2 0h0m1 4h0m4-7h0m1 1h0m2 3h0m4 3h0m1-5h0m0 2h0m5-3h0m0 6h0m2-7h0m3 1h0m2 6h0m2-4h0m1 1h0m-29 6h0m0 4h0m0-5h0m2 0h0m0-1h0m2 0h0m1 4h0m1 3h0m3-3h0m1 3h0m1-7h0m4 4h0m2-2h0m2 3h0m0-2h0m1-3h0m0 4h0m0-3h0m8 2h0m-27 5h0m1 4h0m0 2h0m2 0h0m2-4h0m1-2h0m4 0h0m0 7h0m2-6h0m0 2h0m2 3h0m1-6h0m4 2h0m0 1h0m4 4h0m1-5h0m0 2h0m1 1h0m1-2h0m0 4h0m-23 3h0m2 2h0m0 3h0m1-5h0m0 3h0m1 0h0m1-1h0m1 1h0m1-1h0m2 0h0m0-2h0m2 4h0m0-2h0m6 2h0m3-4h0m1-1h0m0-1h0m3 5h0m2-1h0m-27 7h0m0 3h0m3-6h0m1 6h0m2-4h0m1 4h0m3-1h0m2 0h0m5 1h0m1 0h0m1-4h0m4 1h0m-23 11h0m2 1h0m1-6h0m1 6h0m4-4h0m0 2h0m1 1h0m1-6h0m0 5h0m2-5h0m1 2h0m2 4h0m-14 7h0m0-5h0m1 4h0m3 1h0m1 2h0m1-6h0m1 5h0m0 1h0m2-5h0m0 5h0m0-7h0m7 0h0m-127 23h0m1 0h0m0-2h0m8 2h0m7 0h0m1 0h0m4-2h0m0 2h0m2-2h0m2 1h0m2-1h0m1 2h0m2-2h0m1 0h0m7 0h0m1 2h0m1-2h0m0 1h0m7-1h0m1 2h0m-93 5h0m3 1h0m0 2h0m1 0h0m1-2h0m1 2h0m1 0h0m7-2h0m1 0h0m1 0h0m4 2h0m2 0h0m1-3h0m2 1h0m0-2h0m1-1h0m1 5h0m1-1h0m0-1h0m1 1h0m2-4h0m1 1h0m1 4h0m3-2h0m0 2h0m0-6h0m3 4h0m5-4h0m1 5h0m2 1h0m1-5h0m0 5h0m0-7h0m1 7h0m1-1h0m1-2h0m4 3h0m4 0h0m0-6h0m1 6h0m1 0h0m1-4h0m0 1h0m1 3h0m2-2h0m1-2h0m3-3h0m2 6h0m1 1h0m2-5h0m0-1h0m1 5h0m1-6h0m1 7h0m1 0h0m3-6h0m1-1h0m0 7h0m2-5h0m0 3h0m1 0h0m2 2h0m0-7h0m4 1h0m2 0h0m0 3h0m0 1h0m2 2h0m0-6h0m0 2h0m3-3h0m1 2h0m2 1h0m3 0h0m0 3h0m2-1h0m0 2h0m1-1h0m0 1h0m1-3h0m0 2h0m0-1h0m1 2h0m78-1h0m5 1h0m4-2h0m2-1h0m0 3h0m2-1h0m1-2h0m4-1h0m3 4h0m1-4h0m1 1h0m7 3h0m-230 8h0m5-4h0m2 3h0m1 0h0m4-5h0m2 5h0m0-2h0m1-3h0m4 4h0m3-4h0m0 2h0m1 0h0m1 3h0m1-6h0m0 2h0m1 4h0m1-6h0m0 7h0m1-3h0m1 3h0m2 0h0m2-5h0m0 2h0m2-4h0m0 4h0m1-2h0m1 4h0m2-1h0m0-5h0m1 4h0m0 2h0m1-2h0m2 2h0m1-2h0m3-2h0m1 5h0m2-2h0m2 2h0m1-1h0m1-4h0m5 2h0m1-1h0m1-3h0m1 2h0m0 4h0m1-2h0m1 1h0m2-3h0m1-1h0m1 0h0m1 0h0m0 1h0m3-2h0m1 0h0m3 6h0m2 1h0m0-6h0m1 4h0m0 2h0m1-2h0m0-4h0m0-1h0m4 3h0m1-1h0m0 2h0m1 0h0m2-2h0m0 2h0m1 2h0m4-6h0m2 0h0m1 3h0m1-1h0m2 0h0m4-2h0m2 6h0m3-2h0m1 0h0m2 3h0m4-3h0m1-4h0m1 3h0m1-2h0m1 3h0m2 0h0m0 3h0m2-4h0m0-1h0m1-1h0m0 4h0m1-4h0m1 4h0m2 2h0m1-4h0m2 0h0m1 1h0m3-2h0m0 4h0m5-2h0m4 0h0m2 3h0m37-2h0m1 2h0m2-4h0m2 3h0m1-1h0m3-2h0m1-2h0m0 2h0m1-2h0m1 0h0m0 2h0m2-3h0m1 6h0m1-5h0m1 3h0m2 2h0m0-3h0m1-3h0m0 1h0m1 0h0m1-1h0m4 2h0m0 4h0m2-3h0m0 4h0m2-3h0m0-2h0m1 2h0m1 3h0m4-3h0m1 3h0m4-2h0m1-1h0m1-1h0m0 4h0m1-4h0m2 4h0m0-3h0m1 3h0m5 0h0m0-5h0m1 5h0m0-1h0m2 1h0m3-4h0m0 4h0m-247 4h0m0-2h0m2-1h0m6 3h0m1 1h0m3-1h0m2 2h0m0-4h0m1 3h0m0 2h0m0 1h0m1-1h0m0-5h0m0 2h0m1-1h0m1 0h0m1 0h0m0-1h0m3-1h0m0 4h0m3-4h0m1 4h0m2 2h0m1-1h0m0-2h0m1 2h0m1-2h0m0 3h0m1-4h0m1 3h0m0 1h0m4-3h0m0-1h0m2 2h0m1-4h0m0 5h0m2 0h0m2-4h0m1 1h0m1 0h0m5 5h0m0-7h0m0 1h0m1 6h0m0-1h0m3-3h0m0-1h0m4-2h0m0 4h0m2-1h0m2 1h0m0 3h0m1-4h0m2 2h0m1-5h0m2 7h0m0-6h0m1 0h0m0 4h0m3-5h0m0 5h0m3-1h0m1-3h0m3 4h0m1-5h0m0 3h0m0 1h0m1 0h0m0 3h0m1-4h0m1 1h0m1-4h0m1 2h0m1-1h0m0 2h0m0 2h0m2-4h0m0 4h0m1 1h0m0-2h0m2-2h0m0 3h0m0 2h0m6 0h0m2-2h0m3-2h0m3-1h0m2 2h0m0 2h0m1-2h0m5-4h0m1 4h0m2 1h0m2-5h0m1 7h0m1-1h0m1-4h0m1 5h0m1-7h0m0 2h0m0 2h0m0-1h0m1 0h0m1 0h0m0 4h0m0-6h0m1 2h0m0 4h0m2-2h0m3-5h0m1 1h0m0 6h0m1-2h0m1-1h0m0-1h0m4 0h0m1 2h0m2-5h0m0 3h0m1 1h0m0 3h0m3-7h0m2 3h0m1 0h0m0 3h0m0-4h0m1 4h0m2 0h0m1-2h0m1 1h0m0-3h0m0-1h0m1 3h0m3-2h0m3 3h0m2 2h0m16-1h0m0-1h0m1-2h0m2-3h0m2 1h0m0 3h0m1 3h0m4-3h0m3 1h0m3 1h0m1 0h0m2-1h0m0-2h0m1 3h0m0-1h0m1-5h0m2 6h0m2 0h0m1 1h0m2-1h0m1-6h0m3 7h0m3-3h0m1 3h0m5-6h0m2 3h0m2-1h0m0-1h0m1-1h0m3 2h0m1-1h0m3 1h0m0-1h0m0 2h0m2-1h0m1-2h0m1 0h0m1 0h0m1 1h0m0 4h0m0 1h0m2-3h0m1-3h0m0 6h0m1-3h0m0-1h0m1 3h0m1-3h0m2 1h0m2 2h0m2 0h0m1-4h0m1-1h0m0 1h0m-268 10h0m4 0h0m0 3h0m1 0h0m8-3h0m0-4h0m0 1h0m1 2h0m1 3h0m0-5h0m1 1h0m0 1h0m1 2h0m1 2h0m0-4h0m0 3h0m8 1h0m5-1h0m2-3h0m1 0h0m1 4h0m0-7h0m0 2h0m1 3h0m2 2h0m1 0h0m2-3h0m0 3h0m2-3h0m2-4h0m0 3h0m1 0h0m3 1h0m1-4h0m0 2h0m8-2h0m2 1h0m1 2h0m1 3h0m2-1h0m1-2h0m2 0h0m0 4h0m2-4h0m1-1h0m0 1h0m0 2h0m2-2h0m0 2h0m4-1h0m1-4h0m1 2h0m1 0h0m1 2h0m2-1h0m2 2h0m1-3h0m3 2h0m1-2h0m1-1h0m2 2h0m1 3h0m0-4h0m1 1h0m0 2h0m1-3h0m0 3h0m1-1h0m5-3h0m2 0h0m4 3h0m2 1h0m0-5h0m0 2h0m1 2h0m0-1h0m1 1h0m1 1h0m0-4h0m0 3h0m1-1h0m0-1h0m1-1h0m0 1h0m0 3h0m3 0h0m2-4h0m0-1h0m4 0h0m1 4h0m4 3h0m3 0h0m0-6h0m0 3h0m2-3h0m0-1h0m1 1h0m0 1h0m1-2h0m2 3h0m2-1h0m0 5h0m0-6h0m1 3h0m1 2h0m1-5h0m0 2h0m3 2h0m0 1h0m1-6h0m0 2h0m1 2h0m1-1h0m3 3h0m1-6h0m1 0h0m3 1h0m0 3h0m1-1h0m4 3h0m1 0h0m0-4h0m3 4h0m0-4h0m1 5h0m3-4h0m1 1h0m1 2h0m1-5h0m0 1h0m2 4h0m1-1h0m0 1h0m1-4h0m1 3h0m0 1h0m0-6h0m0 1h0m1 1h0m1-2h0m1 3h0m1-3h0m3 6h0m3 0h0m3 1h0m1 0h0m2-1h0m3 0h0m1 1h0m6-7h0m1 7h0m2-1h0m0-6h0m1 0h0m6 3h0m1 4h0m1-3h0m2-1h0m0 2h0m1-1h0m0 3h0m8-3h0m2-3h0m1 5h0m0-1h0m2-5h0m0 1h0m1 1h0m5 0h0m0 4h0m3-4h0m1 1h0m1 2h0m1 1h0m0 1h0m2-7h0m0 5h0m2-5h0m0 3h0m1 2h0m1 0h0m2-2h0m1-3h0m0 7h0m1-1h0m1-5h0m3 3h0m0 2h0m1-4h0m3 0h0m0 1h0m2-2h0m1 4h0m0-1h0m3 0h0m3 3h0m1-1h0m0-6h0m0 2h0m1 0h0m1-2h0m2 2h0m1 3h0m-287 7h0m0 2h0m7-5h0m0 4h0m1 1h0m1-3h0m1 1h0m2-1h0m0 3h0m0-1h0m1-5h0m3 4h0m2-4h0m2 7h0m0-3h0m1-2h0m1 5h0m0-3h0m1-2h0m2-1h0m0-1h0m1 4h0m1 3h0m1-4h0m3 1h0m0 1h0m2-5h0m4 2h0m3 0h0m2-2h0m3 4h0m2 2h0m1-6h0m0 2h0m1 4h0m1-3h0m1-1h0m3 5h0m2-5h0m0 3h0m1-3h0m0 4h0m4-2h0m1-2h0m0-1h0m1 4h0m0-5h0m3 0h0m2 1h0m0 1h0m2 3h0m2-4h0m4 4h0m1-5h0m0 6h0m3-4h0m0 3h0m0 2h0m1-1h0m4-6h0m1 3h0m1-1h0m1 4h0m2-5h0m0 3h0m2 2h0m1-3h0m1 4h0m3-5h0m1 2h0m1 2h0m1-6h0m1 1h0m1 4h0m1 0h0m0 1h0m2 1h0m0-2h0m4-2h0m1-1h0m0 2h0m1 1h0m0 1h0m1-5h0m0 4h0m0 1h0m0 1h0m7-4h0m2 2h0m1-1h0m0 1h0m2 1h0m3-6h0m1 6h0m1-5h0m3 1h0m4-1h0m1 0h0m2 4h0m0 1h0m1 0h0m2-4h0m0 5h0m0-1h0m1-6h0m0 2h0m1 5h0m0-7h0m1 7h0m1-6h0m1 0h0m0 6h0m0-7h0m0 2h0m2 5h0m0-4h0m0-1h0m1 0h0m1 1h0m4-2h0m3-1h0m0 2h0m0 2h0m1-2h0m0 3h0m4 0h0m0 2h0m1-5h0m1 4h0m0-5h0m0 1h0m1 2h0m3 1h0m0-3h0m2 0h0m1 3h0m2 2h0m1-4h0m0-3h0m1 1h0m0 4h0m1-3h0m0 4h0m2-2h0m0-4h0m2 1h0m0 4h0m0-5h0m1 6h0m1 1h0m0-4h0m2 0h0m1-3h0m2 1h0m1 4h0m1-4h0m0 2h0m3-3h0m3 1h0m0 3h0m1 1h0m1 1h0m1-2h0m0 2h0m6 0h0m1-2h0m2-2h0m0 1h0m3-1h0m0-2h0m6 1h0m0 3h0m2 1h0m0 2h0m3-7h0m3 7h0m4-5h0m1-1h0m2 5h0m1-6h0m1 0h0m0 2h0m1 5h0m0-7h0m1 6h0m1 1h0m3-6h0m2 0h0m0-1h0m3 1h0m0 3h0m2 3h0m5-4h0m0-3h0m1 3h0m1-2h0m2 6h0m4-1h0m1-5h0m1-1h0m0 1h0m0 3h0m2 2h0m2-1h0m0-5h0m0 2h0m1 0h0m2-2h0m0 3h0m0 2h0m1 0h0m1-5h0m0 5h0m2-4h0m0 5h0m2-5h0m2 3h0m3-3h0m3-1h0m1 7h0m0-6h0m0 1h0m1 2h0m1-3h0m1-1h0m0 4h0m1 0h0m1-4h0m-291 13h0m1-2h0m0 2h0m0 2h0m2-6h0m4 2h0m0 3h0m1-5h0m0 4h0m2-5h0m3 5h0m1-2h0m0-1h0m5 0h0m4 3h0m2-4h0m1 6h0m1-6h0m0 4h0m0-1h0m1-3h0m1 0h0m0 2h0m1 1h0m0 3h0m1-6h0m1 0h0m1 3h0m0-3h0m1 6h0m2-3h0m0-2h0m2 0h0m2 0h0m1 4h0m1-4h0m0 5h0m1-2h0m2-3h0m1 5h0m0-4h0m0 2h0m5-4h0m2 3h0m3 3h0m0-1h0m1-6h0m0 3h0m2 0h0m0-3h0m1 1h0m0 5h0m1-5h0m0-1h0m1 2h0m1 5h0m1-3h0m2-4h0m1 0h0m0 1h0m1 3h0m2 0h0m1 1h0m0-1h0m0 3h0m4-7h0m2 1h0m3 3h0m2 0h0m0-4h0m0 2h0m0 1h0m3 1h0m1 3h0m2-2h0m3-4h0m1 0h0m1 4h0m0 1h0m1-3h0m1-1h0m0 3h0m2 2h0m0-1h0m4-2h0m2-3h0m2 5h0m0-2h0m0 3h0m2-2h0m2 2h0m1-6h0m1-1h0m1 2h0m0 1h0m1 2h0m1 2h0m0-6h0m1-1h0m0 2h0m3 4h0m0-2h0m0 3h0m1-1h0m1-5h0m1 4h0m0 2h0m1-7h0m5 2h0m5 4h0m6-6h0m0 6h0m2-4h0m1-1h0m0 2h0m0 4h0m2-3h0m1-2h0m0 4h0m0-6h0m1 0h0m5 1h0m1 0h0m1 0h0m1 6h0m2-2h0m0 2h0m2-2h0m1-4h0m3 1h0m1 3h0m3 1h0m0-4h0m1 2h0m1-4h0m0 4h0m0-1h0m3 0h0m2-3h0m1 7h0m4-3h0m2 2h0m0-4h0m1 2h0m0-3h0m1 6h0m1-1h0m5-3h0m4 4h0m1-3h0m1-1h0m5-2h0m2 2h0m4 1h0m1 0h0m3 3h0m1-3h0m0 2h0m0-1h0m1 1h0m1-2h0m1-1h0m0-3h0m1 7h0m4-5h0m2 1h0m0-1h0m3-1h0m0 5h0m1-3h0m2-3h0m4 4h0m1-4h0m0 3h0m1-3h0m2 2h0m0-2h0m1 6h0m1 1h0m1-1h0m1-1h0m1-1h0m1-3h0m0 1h0m3 0h0m0 2h0m2-4h0m0 7h0m1-3h0m2-4h0m1 3h0m2 0h0m2-3h0m5 6h0m1-6h0m0 3h0m0 2h0m4 0h0m0-5h0m0 2h0m1 1h0m4 1h0m2-3h0m2 0h0m0 1h0m4-1h0m1 4h0m0-3h0m1 4h0m2-6h0m1 7h0m2-1h0m1 1h0m1-1h0m2 0h0m2-1h0m-287 4h0m0 2h0m0 3h0m2-4h0m0 3h0m2 2h0m2-3h0m1-1h0m5-2h0m0 2h0m1 0h0m1-1h0m2 2h0m1 1h0m1 1h0m3-6h0m0 5h0m1-4h0m1 3h0m0-1h0m1-2h0m1 5h0m0-5h0m1 4h0m1-4h0m0 3h0m0-1h0m1 3h0m0 1h0m1-5h0m1 4h0m0-5h0m1 0h0m0 5h0m1-4h0m0-1h0m1 3h0m2 1h0m3-5h0m1 1h0m1 2h0m2-2h0m1 4h0m2-5h0m0 5h0m1-5h0m1 3h0m0 4h0m0-7h0m2 2h0m1 1h0m1-1h0m2 1h0m3-1h0m1 1h0m1 3h0m6-1h0m1-3h0m0 5h0m1-7h0m0 5h0m4-4h0m1 1h0m1-1h0m2 1h0m1 5h0m2-1h0m1-3h0m0 2h0m1-4h0m3 3h0m1-1h0m1 3h0m2-3h0m0 3h0m2-6h0m1 0h0m0 5h0m3-3h0m4 3h0m2-3h0m0 4h0m2-6h0m1 7h0m0-1h0m2 0h0m1 1h0m2-4h0m1-2h0m1 4h0m1-1h0m4-3h0m1 3h0m1-3h0m0 2h0m0-1h0m0 4h0m1-5h0m1 6h0m1 0h0m0-6h0m0 4h0m2 1h0m0 1h0m1-3h0m1-2h0m3 4h0m1-1h0m1-4h0m1 6h0m0-2h0m3 2h0m1 0h0m0-4h0m1-2h0m2 2h0m0 3h0m3 1h0m0-6h0m0-1h0m1 5h0m1-3h0m1 1h0m1-1h0m3-1h0m2 2h0m2-1h0m1-1h0m0 2h0m1 0h0m0-1h0m0 5h0m2-2h0m2-3h0m0 1h0m1-1h0m0 5h0m2-1h0m0-6h0m1 0h0m2 7h0m1-6h0m0 3h0m1-2h0m1 0h0m0 2h0m3-4h0m1 3h0m4-3h0m1 4h0m2 2h0m0-5h0m1 3h0m1 2h0m3-1h0m2 1h0m4 1h0m1-6h0m3 4h0m0-1h0m2-3h0m1 3h0m1-3h0m1 1h0m3 1h0m0 2h0m0 2h0m2-6h0m0 2h0m2-2h0m0 2h0m1 3h0m2 0h0m2-3h0m4 4h0m1-2h0m0 2h0m1 0h0m1-6h0m0 2h0m2-2h0m1 5h0m1-6h0m1 1h0m1-1h0m1 7h0m3-7h0m1 4h0m1-3h0m0 4h0m1-2h0m2-3h0m1 7h0m3-6h0m2 5h0m3 1h0m1-4h0m1 4h0m1-1h0m0-5h0m2 4h0m2 1h0m2-1h0m1 0h0m1-5h0m1 6h0m3 0h0m3 1h0m1-4h0m0-2h0m2 5h0m0-6h0m1 1h0m3 5h0m1-3h0m4 1h0m2 1h0m0 1h0m0-3h0m1 1h0m1 3h0m1-4h0m1 0h0m0 2h0m0-5h0m2 2h0m1 4h0m3 1h0m1-1h0m1-5h0m1 3h0m1 2h0m2-6h0m1 7h0m1-1h0m2-6h0m-292 11h0m1-3h0m0 7h0m1-4h0m0 2h0m0-3h0m5 5h0m4-4h0m2 2h0m4-5h0m6 5h0m1 1h0m0-4h0m2 2h0m2-1h0m3-1h0m0 2h0m0 2h0m2-5h0m1 2h0m0 3h0m2-6h0m1 0h0m1 0h0m0 3h0m1-1h0m2 3h0m2-5h0m4 2h0m1 1h0m1-2h0m2-1h0m0 3h0m1 4h0m1-7h0m3 7h0m1-7h0m1 7h0m1-4h0m0-1h0m0 2h0m1-1h0m1-1h0m7 0h0m1 2h0m1 0h0m3-2h0m1-2h0m0 1h0m2 0h0m0 1h0m1 0h0m1 1h0m0 2h0m1 0h0m1 0h0m2-5h0m1 0h0m2 6h0m2-1h0m1 2h0m4-2h0m3 2h0m2-4h0m1-3h0m0 4h0m0 3h0m1-3h0m1-2h0m0-2h0m2 7h0m1-7h0m1 2h0m1 5h0m1-6h0m4 2h0m0-1h0m2-1h0m0 5h0m5-6h0m1 0h0m0 7h0m0-1h0m1-4h0m1 5h0m1-5h0m0-1h0m2 5h0m1-1h0m0 1h0m1-2h0m0-3h0m1 5h0m0-6h0m0 1h0m9 3h0m0 2h0m1 0h0m1-3h0m1-1h0m1 3h0m1 1h0m3-2h0m1 1h0m1 1h0m1-3h0m1 4h0m0-7h0m3 2h0m0 2h0m1 0h0m2 1h0m0-3h0m1 2h0m3 3h0m2-6h0m0 2h0m1 1h0m0-4h0m2 1h0m2 3h0m3-3h0m0 2h0m1 3h0m1 1h0m0-7h0m2 5h0m0-3h0m1-1h0m0-1h0m1 7h0m0-1h0m1-1h0m3-5h0m2 2h0m1 5h0m1-3h0m0 2h0m1-1h0m0-1h0m1-1h0m0 3h0m2 1h0m1-1h0m1-3h0m0 3h0m0-4h0m0 2h0m3 0h0m0-1h0m2-3h0m2 7h0m1 0h0m2-7h0m0 1h0m1 0h0m1 3h0m3-3h0m1 6h0m0-1h0m2-3h0m0-1h0m1-1h0m2 0h0m1 5h0m0-2h0m1 2h0m2-1h0m1-4h0m2 6h0m1-7h0m1 5h0m2-3h0m0 2h0m1-1h0m0-2h0m2 0h0m1 5h0m1-6h0m3 7h0m1-5h0m4 5h0m1-4h0m0 3h0m0-1h0m1-5h0m0 4h0m1-3h0m1 0h0m1 5h0m0-1h0m1-3h0m4-2h0m4 0h0m2 2h0m1 4h0m1-5h0m0 1h0m2-2h0m5 1h0m4 0h0m3 1h0m0 2h0m1 2h0m1-6h0m0 4h0m1 0h0m2 1h0m1-4h0m2 3h0m7-1h0m2 0h0m2 0h0m6 4h0m1-3h0m1-3h0m1 2h0m0 3h0m1-1h0m0-3h0m-290 10h0m2-4h0m2 7h0m2-4h0m1-1h0m0 5h0m1-7h0m4 0h0m1 4h0m5-1h0m1-2h0m2 2h0m1-1h0m0 2h0m4 0h0m3-3h0m3 0h0m0 4h0m4-5h0m3 6h0m0-3h0m0 2h0m3-5h0m1 4h0m3-1h0m2 3h0m3-2h0m2 2h0m0-4h0m3-1h0m0 2h0m2-1h0m1 3h0m1 1h0m2-3h0m1-1h0m1 2h0m0-1h0m0 2h0m1-2h0m3 4h0m1-7h0m1 4h0m4-1h0m8-3h0m2 1h0m0 3h0m1-4h0m0 3h0m1 2h0m0-5h0m1 2h0m0-1h0m0 5h0m1-5h0m0 4h0m1-5h0m0 1h0m1 0h0m2 2h0m2 0h0m0-1h0m5 0h0m4 0h0m0 2h0m1 1h0m1-2h0m3 0h0m1-1h0m2 2h0m1 3h0m3-2h0m1 0h0m0-3h0m5-1h0m2 2h0m2-1h0m1 4h0m1-3h0m1-1h0m1 2h0m2-2h0m0 1h0m0 4h0m0-6h0m1 6h0m0-6h0m1 1h0m0 4h0m1-6h0m1 5h0m2-1h0m2-4h0m0 5h0m1 2h0m2-4h0m0 3h0m2-3h0m0 3h0m5 0h0m2-4h0m0 2h0m1-4h0m0 2h0m0 1h0m1 3h0m1-4h0m2 5h0m1-7h0m0 4h0m2-4h0m2 2h0m0-2h0m1 0h0m0 5h0m1 2h0m3-1h0m0 1h0m1 0h0m1-2h0m0-4h0m0 2h0m1 2h0m2-5h0m0 2h0m1 5h0m1-6h0m0 2h0m0 3h0m0 1h0m1-4h0m1 0h0m1-3h0m0 2h0m1 0h0m0 2h0m1-2h0m1 1h0m2 3h0m0-5h0m1 2h0m2 2h0m0-3h0m0 2h0m1 2h0m0-4h0m1-2h0m0 2h0m7 1h0m2 4h0m1-2h0m0-4h0m3 5h0m2 1h0m0-3h0m2-2h0m2 3h0m1-2h0m2 2h0m0-5h0m2 1h0m2 4h0m0 2h0m4 0h0m1-6h0m2 0h0m0 1h0m2 4h0m0-1h0m3-2h0m0-3h0m1 7h0m1-4h0m1 4h0m1-3h0m0-3h0m1 6h0m0-6h0m2 0h0m0 2h0m1-3h0m0 3h0m1-3h0m1 4h0m6-4h0m0 2h0m0 2h0m1 1h0m0-4h0m7 1h0m1-1h0m1 2h0m0-1h0m2 4h0m2-3h0m0 1h0m1 0h0m1 2h0m1-1h0m0-1h0m1-1h0m1 0h0m0 1h0m1-1h0m0 1h0m0-3h0m1-1h0m1 7h0m0-6h0m1 2h0m0 2h0m3-1h0m0 2h0m1-3h0m1 0h0m1 1h0m1-4h0m0 3h0m3 4h0m2-2h0m1-5h0m0 1h0m0 5h0m1-3h0m1-1h0m0 4h0m2-1h0m0 1h0m3 0h0m3 1h0m0-1h0m2-4h0m0 5h0m1-7h0m-281 9h0m4-1h0m0 4h0m1-2h0m2 2h0m2 3h0m0-3h0m0 2h0m2-6h0m0 1h0m1 3h0m2-3h0m4-1h0m3 4h0m4-2h0m2 2h0m3 0h0m1-1h0m1 1h0m2-1h0m1 1h0m1-4h0m1 2h0m3 0h0m45-2h0m6 1h0m1 1h0m3 0h0m5-2h0m3 3h0m1 0h0m1 0h0m1 3h0m1-3h0m4-1h0m1 1h0m2 3h0m1-1h0m2 0h0m6-3h0m2 5h0m1-2h0m0-1h0m0 2h0m3-3h0m1 0h0m1-2h0m1 1h0m0-1h0m1 2h0m0 1h0m2-3h0m0 3h0m0 3h0m0-1h0m0-6h0m1 2h0m1-2h0m4 5h0m1-3h0m1 1h0m2-1h0m0 2h0m3-3h0m2 0h0m0-1h0m1 4h0m0 3h0m1-1h0m2 0h0m4-4h0m1-1h0m1 5h0m1 1h0m4-2h0m0-5h0m1 5h0m0-5h0m3 6h0m0-3h0m0 2h0m1 2h0m3-1h0m2-3h0m0-1h0m1-1h0m2 3h0m1 1h0m2-3h0m0 3h0m1-5h0m1 5h0m4 2h0m1-7h0m0 2h0m0 1h0m2-1h0m2-2h0m0 7h0m2-6h0m3-1h0m0 1h0m4 2h0m0 2h0m3-2h0m2 4h0m3-6h0m0 3h0m1 0h0m1-1h0m0 2h0m1-2h0m2 3h0m1-4h0m1 2h0m0 1h0m2-4h0m0-1h0m2 0h0m4 6h0m2-1h0m2 2h0m3-7h0m1 2h0m0 4h0m1-6h0m0 3h0m1-2h0m0 2h0m1 1h0m0-4h0m1 7h0m2-1h0m1-4h0m0 2h0m2 0h0m2-4h0m0 2h0m0-1h0m1-1h0m1 7h0m2-2h0m2-2h0m1 4h0m0-7h0m0 2h0m1 0h0m3 2h0m0 3h0m3-3h0m1-1h0m1 2h0m2-4h0m0 5h0m1-1h0m1-2h0m1-1h0m0 4h0m1-6h0m1 5h0m9-2h0m2 4h0m1-3h0m1 2h0m2-2h0m2-4h0m-167 8h0m1 2h0m2 0h0m6 0h0m1-1h0m1 0h0m1-1h0m2 1h0m1 1h0m3 3h0m1-5h0m1 0h0m0 1h0m2-1h0m1 3h0m0 3h0m1-6h0m0 1h0m1 5h0m0-6h0m1 5h0m2-1h0m1 1h0m0-3h0m1-1h0m1 5h0m2 0h0m0-2h0m1 3h0m1 0h0m1-3h0m2-1h0m4 1h0m0-1h0m1-3h0m1 2h0m0 5h0m1-7h0m0 2h0m1 4h0m0-6h0m2 7h0m4-4h0m1 3h0m4-6h0m0 2h0m0 1h0m0 3h0m2-6h0m0 2h0m0 5h0m2-5h0m0 4h0m3-6h0m0 3h0m0 3h0m2-6h0m1 2h0m3-2h0m0 4h0m0 1h0m1-2h0m0 3h0m2-5h0m0 2h0m2-1h0m0 4h0m0-1h0m1-2h0m1-1h0m2 1h0m2 1h0m0 2h0m7-4h0m1 5h0m3-7h0m0 6h0m3-2h0m1 0h0m1 0h0m1 2h0m0-2h0m8-4h0m1 7h0m0-4h0m2-2h0m0 2h0m2 0h0m2 3h0m0-1h0m0-5h0m3 4h0m3-4h0m0 6h0m1 0h0m1-1h0m1-4h0m0 2h0m2 1h0m2-1h0m0 4h0m2-6h0m0 3h0m1 3h0m0-7h0m2 6h0m7-1h0m2-5h0m0 3h0m0 3h0m1-1h0m0-4h0m2 2h0m2 4h0m3-5h0m1 2h0m0-3h0m0-1h0m3 1h0m1-1h0m1 5h0m0-4h0m0 3h0m4-1h0m1-2h0m0 2h0m0-1h0m0 4h0m1-1h0m0 1h0m2-2h0m-138 8h0m1-4h0m1 4h0m0 1h0m1 0h0m0-1h0m5-1h0m1 3h0m1-5h0m0 5h0m1-4h0m0 3h0m2-1h0m4-1h0m1 3h0m1 1h0m1-6h0m0-1h0m3 0h0m2 5h0m1-5h0m1 6h0m2-6h0m0 5h0m3 0h0m2 1h0m0-4h0m1 4h0m0-1h0m2 2h0m0-4h0m6-2h0m1-1h0m1 0h0m0 3h0m1 3h0m3-4h0m0 4h0m1-2h0m1-3h0m0 2h0m1 0h0m0 4h0m1-5h0m1 1h0m1 2h0m1 2h0m0-3h0m1-2h0m1 5h0m0-1h0m1-4h0m2 0h0m1 3h0m0 1h0m1-5h0m1 3h0m3 0h0m2 0h0m2-2h0m0 3h0m1-2h0m5 1h0m0 3h0m1-1h0m1 1h0m6-5h0m0 3h0m1-1h0m1-3h0m1 1h0m1 4h0m1-5h0m3 4h0m2-2h0m2 4h0m1-5h0m2-1h0m1 4h0m0-5h0m2 7h0m1-4h0m4 1h0m6 3h0m2-4h0m0 3h0m1 1h0m3 0h0m0-6h0m1 5h0m1-2h0m6-3h0m1 6h0m1-4h0m0 4h0m2-3h0m2 3h0m3-4h0m0-3h0m2 6h0m1-2h0m-140 7h0m2 2h0m1-2h0m1 2h0m1 1h0m1 0h0m2-5h0m2 1h0m0 2h0m1 3h0m1-1h0m2-5h0m3 6h0m1-2h0m4 1h0m3-1h0m1-4h0m0 2h0m2 2h0m3-1h0m1-4h0m3 2h0m0 1h0m1 1h0m3 2h0m1-5h0m2 6h0m1-4h0m0-2h0m1 1h0m0-1h0m1-1h0m1 7h0m1-1h0m1-1h0m1-2h0m1-1h0m0-1h0m2 4h0m1-4h0m0 2h0m2-1h0m0 3h0m0 2h0m1-6h0m1 3h0m4-2h0m0 5h0m2-1h0m3-3h0m0 2h0m1 0h0m0 2h0m1-7h0m0 2h0m1 4h0m1-6h0m0 1h0m0 2h0m0 2h0m1-2h0m2 2h0m1 2h0m3-4h0m4-2h0m1 5h0m0-4h0m0-1h0m2 6h0m1-6h0m2-1h0m4 4h0m4 3h0m0-1h0m1-4h0m2-1h0m0 2h0m1 4h0m1-7h0m2 6h0m1-5h0m1 0h0m1 1h0m2-1h0m0 2h0m3-1h0m1 3h0m4 0h0m0-4h0m1 4h0m0-4h0m1 5h0m2-2h0m0 1h0m2-4h0m0 4h0m1-2h0m0 2h0m1-1h0m1 3h0m2-4h0m0 4h0m2-7h0m0 3h0m1 0h0m2 1h0m1 3h0m1-3h0m2-3h0m1 0h0m2 4h0m1-4h0m0 2h0m-137 5h0m1 3h0m1 0h0m4 1h0m0 1h0m0 2h0m1-5h0m0 1h0m1-3h0m6 4h0m1 0h0m1-1h0m3-1h0m0 1h0m1-1h0m2 3h0m2 2h0m1-3h0m0-1h0m3 3h0m2-3h0m2-2h0m0 3h0m1-1h0m1-3h0m1 3h0m0 2h0m1-3h0m1-1h0m0 5h0m0-1h0m1 1h0m0 1h0m1-4h0m0 4h0m2-6h0m1 2h0m2-3h0m1 4h0m4 2h0m0 1h0m1-2h0m1-5h0m0 4h0m2-2h0m1 3h0m0-4h0m1 3h0m1-1h0m1 0h0m4 4h0m0-3h0m0 2h0m1 0h0m0-2h0m2-3h0m0 1h0m1 3h0m2 2h0m1-7h0m1 5h0m4 1h0m0-5h0m2 0h0m0 1h0m3 3h0m1-1h0m0 1h0m2-5h0m1 0h0m2 3h0m0 1h0m4 0h0m2 0h0m0 3h0m1-2h0m0 2h0m0-5h0m1 4h0m1-4h0m1 0h0m1 3h0m0-4h0m0 2h0m7 2h0m1-1h0m2 2h0m0 1h0m1 0h0m1-5h0m0 5h0m3 0h0m3 0h0m0-2h0m1-4h0m1-1h0m0 7h0m1 0h0m1-6h0m0 4h0m2 1h0m1 0h0m1-2h0m0 3h0m2-4h0m0-1h0m5 4h0m1-5h0m2-1h0m0 2h0m-128 12h0m2-6h0m1 7h0m0-4h0m1 3h0m1-4h0m5-1h0m2-1h0m0 3h0m1 4h0m1-1h0m1-3h0m0 2h0m1-1h0m5-1h0m1-3h0m1 0h0m1 3h0m0 4h0m1-4h0m1 0h0m1 0h0m1 1h0m1 2h0m2-1h0m0-1h0m0-4h0m2 4h0m0-4h0m2 3h0m1-2h0m1 6h0m1-4h0m1 2h0m1-1h0m2 3h0m3-4h0m0 2h0m2 1h0m0-6h0m1 1h0m1 5h0m5-5h0m1 3h0m1 1h0m1-2h0m1-3h0m0 1h0m0 3h0m1-1h0m1-2h0m1 2h0m0 4h0m1-7h0m1 5h0m1 2h0m3-1h0m1-1h0m0 1h0m1-6h0m1 0h0m1 6h0m1-2h0m1-1h0m4-2h0m0 3h0m0 3h0m3 0h0m1-3h0m2 2h0m0-1h0m1-1h0m0-4h0m2 7h0m1 0h0m2-3h0m1 3h0m1-2h0m0 2h0m1-5h0m2 4h0m2-1h0m1 2h0m1-4h0m1-1h0m1 4h0m0-5h0m3 1h0m0 3h0m1 0h0m0-5h0m0 1h0m1-1h0m1 1h0m1 3h0m2-1h0m1 0h0m1-3h0m1 0h0m1 7h0m3 0h0m2-4h0m0 3h0m1-2h0m5-4h0m-122 9h0m1 1h0m4-1h0m0 2h0m1 2h0m5 2h0m1 0h0m0-7h0m2 1h0m3 1h0m0 5h0m1-5h0m1-1h0m1-1h0m2 4h0m1 3h0m4 0h0m1-2h0m1-1h0m1-2h0m3-2h0m0 6h0m1-1h0m1-5h0m0 3h0m1-1h0m0 3h0m0 1h0m3-3h0m2 4h0m1-1h0m2-1h0m1 2h0m2 0h0m2-7h0m0 2h0m0 3h0m2-5h0m1 4h0m3-3h0m0 5h0m1-5h0m0 2h0m0 3h0m2-4h0m0 1h0m1 3h0m1-5h0m1 2h0m2-3h0m3 6h0m0-4h0m0 2h0m1-3h0m0 3h0m0 2h0m0 1h0m1 0h0m1-6h0m0 3h0m0 1h0m0 1h0m2-5h0m1 3h0m1 0h0m1 3h0m0-7h0m1 4h0m2-1h0m1 0h0m0-1h0m1 3h0m0-5h0m0 3h0m2-1h0m0 5h0m1-7h0m0 1h0m0 4h0m1 1h0m1-6h0m0 6h0m1-4h0m0 2h0m0 1h0m1 0h0m1-3h0m0 4h0m2-3h0m0-2h0m1 2h0m3-1h0m1 2h0m1 0h0m1 1h0m0-1h0m1 0h0m1 0h0m1 2h0m3-5h0m1 3h0m1-2h0m0 4h0m3 1h0m1-4h0m0-1h0m1 2h0m2-2h0m1 5h0m0-1h0m1-2h0m2-2h0m-108 6h0m2 2h0m3 1h0m1 2h0m0 2h0m1 0h0m1-7h0m4 3h0m0-1h0m0 3h0m1-1h0m1-2h0m1 1h0m4-3h0m1 7h0m1-4h0m1 4h0m1-5h0m2-2h0m1 5h0m2 1h0m0 1h0m1 0h0m0-6h0m1 1h0m1 0h0m1 2h0m2 1h0m2-1h0m0 3h0m1-5h0m0 3h0m2 1h0m3 0h0m0-1h0m2-1h0m5-2h0m1 1h0m1 2h0m2-4h0m0 2h0m0 3h0m1 1h0m1-5h0m3 1h0m1 3h0m2-6h0m0 2h0m0 3h0m0 2h0m1-1h0m1-1h0m0-5h0m1 2h0m0-2h0m1 3h0m2-2h0m0 3h0m1 0h0m0 3h0m2-1h0m1-6h0m0 3h0m2 1h0m1-1h0m2 2h0m1 1h0m1-2h0m2-4h0m1 7h0m0-4h0m0-1h0m0 3h0m7-5h0m1 3h0m0 2h0m0 2h0m1-6h0m0 4h0m1-2h0m0 2h0m1-4h0m0-1h0m0 6h0m3-1h0m0 2h0m0-7h0m1 0h0m2 3h0m0-1h0m0 3h0m2 0h0m2-1h0m-81 5h0m3 3h0m3 3h0m0-7h0m3 0h0m2 7h0m0-1h0m1-5h0m0 2h0m2 2h0m1-2h0m1-1h0m1-1h0m0 5h0m1-3h0m1-3h0m3 7h0m1 0h0m2-5h0m0 5h0m3-3h0m2 1h0m0 1h0m2-2h0m2 1h0m0-1h0m1 0h0m1-3h0m0 5h0m1-1h0m0-4h0m1 0h0m0 4h0m0-1h0m3 1h0m2 2h0m1-5h0m0 3h0m0-1h0m1 0h0m0-4h0m1 5h0m1 1h0m1-4h0m0 2h0m1-4h0m0 3h0m3-1h0m1 2h0m1-4h0m1 4h0m1-1h0m0-1h0m0 2h0m1 0h0m0 1h0m0-3h0m2 5h0m1 0h0m1-1h0m0-2h0m0 1h0m0 2h0m1-2h0m2-4h0m1 3h0m0 2h0m0-6h0m1 2h0m0-1h0m3-1h0m2 4h0m0-2h0m5-2h0m3 0h0m-71 10h0m2 1h0m1-2h0m6 0h0m2 3h0m0-1h0m3 2h0m1-1h0m1-1h0m1 2h0m1-2h0m0 3h0m2-4h0m2 1h0m1-2h0m3 4h0m2-5h0m1 5h0m1-5h0m4 0h0m2 1h0m0-1h0m1 3h0m2-2h0m1 2h0m2-1h0m1-2h0m0 2h0m2-1h0m0 1h0m1-2h0m9 0h0" stroke="#ffffff" stroke-width="1.6" stroke-linecap="square" fill="none" transform="scale(0.5)"/>
<path d="M70 654h0m1-1h0m1 0h0m0 1h0m2 1h0m0-2h0m2 0h0m2 2h0m2 0h0m-23 8h0m2 0h0m1 0h0m1-2h0m0-1h0m1-1h0m0 2h0m1-1h0m0-1h0m1 2h0m0-1h0m0-1h0m1 4h0m1-2h0m0-5h0m0 3h0m0 4h0m1 0h0m0-1h0m0-6h0m0 4h0m2 3h0m1-4h0m1 3h0m1-6h0m0 4h0m1 0h0m2 2h0m1-3h0m2-1h0m1 2h0m1-3h0m1 4h0m1 2h0m1-2h0m0-1h0m2 1h0m2-1h0m-37 11h0m1-3h0m1 1h0m0-2h0m1-2h0m1 4h0m0-2h0m0 4h0m0-6h0m1 3h0m0-1h0m1 4h0m0-5h0m1-1h0m1 1h0m0 3h0m1 0h0m0-3h0m0 4h0m1-1h0m0-1h0m0 3h0m1-2h0m0-1h0m2 2h0m0-6h0m1 0h0m0 4h0m1 0h0m0 3h0m1 0h0m0-5h0m0-1h0m0 3h0m1 0h0m0-2h0m0-1h0m1 4h0m0 2h0m0-6h0m1 5h0m0-6h0m0 3h0m1 0h0m0 4h0m2-6h0m1 2h0m0 3h0m0-1h0m1 2h0m0-2h0m1-2h0m0 4h0m0-1h0m1-6h0m0 6h0m1-3h0m1 1h0m0 2h0m0-1h0m2-5h0m0 3h0m2-2h0m0 4h0m0-2h0m1 3h0m1-3h0m0 4h0m1-3h0m-36 8h0m1 0h0m0-1h0m0-2h0m1 6h0m0-1h0m2-2h0m0-2h0m0 3h0m1-4h0m0 2h0m1 4h0m0-5h0m0-2h0m1 3h0m0-1h0m1 4h0m0-5h0m0 3h0m0 3h0m1-4h0m0 1h0m1 2h0m0 1h0m1-1h0m1-2h0m0-3h0m2 1h0m1 5h0m1-7h0m0 4h0m0-2h0m1 1h0m0 3h0m0-6h0m1 6h0m0-6h0m1 6h0m0 1h0m1-7h0m0 4h0m1-3h0m1 2h0m0-2h0m1 6h0m1-3h0m0-2h0m1 1h0m0-1h0m0 2h0m1 1h0m0-1h0m1-4h0m0 3h0m0 3h0m1 0h0m0-6h0m0 4h0m1-3h0m1 0h0m0-1h0m1 3h0m1 1h0m1 3h0m0-5h0m0-1h0m1-1h0m1 3h0m1-1h0m-37 11h0m1-2h0m0 2h0m1-2h0m0-2h0m1 3h0m1 0h0m1 3h0m1-4h0m0 3h0m0-5h0m0 3h0m1 0h0m0-2h0m0 4h0m1-1h0m0-5h0m1 7h0m0-5h0m0 3h0m1-5h0m0 2h0m0-1h0m1 5h0m0-2h0m2-1h0m0-1h0m0 4h0m3-6h0m1 2h0m0-1h0m2 2h0m0 4h0m0-5h0m0-1h0m0 4h0m0-5h0m2 3h0m1-1h0m0 4h0m2 1h0m0-1h0m0-5h0m2-1h0m0 3h0m0-1h0m0 4h0m1-4h0m0-2h0m1 0h0m0 4h0m0-1h0m1-3h0m1 5h0m1-1h0m0-4h0m1 0h0m0 4h0m0 2h0m1 1h0m1-5h0m0 4h0m1-2h0m0-2h0m-34 6h0m1 2h0m0 3h0m2 2h0m1-3h0m0 3h0m2-7h0m0 2h0m1 4h0m0-2h0m1-4h0m1 2h0m0 4h0m0-6h0m1 3h0m0 4h0m0-2h0m1-5h0m0 4h0m1-3h0m1 6h0m0-1h0m0-1h0m2-3h0m0-1h0m1 2h0m0 4h0m0-2h0m1 0h0m0-5h0m0 4h0m0-1h0m1 4h0m0-5h0m0-2h0m1 4h0m0 3h0m1-6h0m0 4h0m0-5h0m0 7h0m1-7h0m0 2h0m1-2h0m0 7h0m1-2h0m0-1h0m0 3h0m1-4h0m0 2h0m0-5h0m1 6h0m0 1h0m0-5h0m1-1h0m0 4h0m1-5h0m1 6h0m0-1h0m0-2h0m1 1h0m0 3h0m0-5h0m0 4h0m0-5h0m0 4h0m1-2h0m1 2h0m0 2h0m1 0h0m0-1h0m0-6h0m1 1h0m0 2h0m1-3h0m-32 8h0m1 1h0m2 2h0m2 0h0m0-2h0m0 4h0m1-4h0m0 4h0m1-5h0m0 4h0m1-3h0m0 4h0m0-3h0m1 4h0m0-5h0m0 1h0m1 5h0m0-6h0m1 0h0m0 4h0m1-3h0m2 2h0m0-3h0m1 5h0m0-5h0m0-1h0m1 5h0m1 0h0m0 1h0m1 1h0m0-7h0m1 0h0m0 3h0m1 1h0m1 3h0m0-5h0m0-1h0m0 4h0m1-3h0m1 1h0m0 4h0m0-6h0m0 3h0m2 3h0m1-4h0m1-2h0m2 2h0m0 1h0m1-2h0m1 4h0m0-3h0m1 2h0m-28 3h0m2 6h0m0-5h0m1 2h0m0 4h0m0-5h0m0 4h0m1 0h0m0-5h0m1 1h0m0 3h0m0-2h0m1 1h0m0-2h0m1 4h0m0-1h0m0-2h0m1 0h0m1 4h0m1-2h0m0-5h0m1 3h0m1 3h0m0-2h0m1 3h0m0-7h0m0 3h0m2 4h0m0-7h0m1 0h0m1 5h0m0-5h0m1 6h0m0-3h0m1-2h0m1-1h0m0 4h0m0-2h0m1 0h0m0-1h0m0 4h0m0-1h0m1 0h0m0-2h0m0 4h0m0-6h0m1 1h0m0 3h0m1-1h0m1 0h0m0-2h0m1-1h0m1 2h0m0 4h0m0-6h0m2 0h0m-25 15h0m0-1h0m0-6h0m1 3h0m1 3h0m1-4h0m1 2h0m0-1h0m0-2h0m1 0h0m0 6h0m1-2h0m1 1h0m0-1h0m1 2h0m0-7h0m1 4h0m0-2h0m2 5h0m2-3h0m0-1h0m1-2h0m0 4h0m0-5h0m1 1h0m0-1h0m0 2h0m1 1h0m1-3h0m1 1h0m0 2h0m0 4h0m0-5h0m1 5h0m0-3h0m1-1h0m0-1h0m0 4h0m0-5h0m1 3h0m1-1h0m0-1h0m1 1h0m1 4h0m0-5h0m1 0h0m1-2h0m-25 13h0m1-1h0m1 1h0m0-1h0m0-2h0m1 3h0m0-5h0m1 0h0m2 2h0m0-2h0m0 4h0m1-1h0m0-1h0m1 2h0m2-4h0m0 1h0m1-1h0m1 1h0m1-1h0m1 2h0m0-2h0m1 2h0m1-1h0m1 1h0m2-1h0" stroke="#2f7ab8" stroke-width="1.6" stroke-linecap="square" fill="none" transform="scale(0.5)"/>
<path d="M85 654h0m5 0h0m2-1h0m2 0h0m1-2h0m0-1h0m0 3h0m1-3h0m1 5h0m1 0h0m0-5h0m1 2h0m0-3h0m0 4h0m1-4h0m0 2h0m0 4h0m0-5h0m1 0h0m0-1h0m1 0h0m1 5h0m0-3h0m2 1h0m-23 9h0m0 2h0m0-5h0m1-1h0m0 3h0m1 0h0m0 2h0m1-6h0m0 2h0m1 3h0m0-2h0m2 3h0m1-3h0m0 4h0m0-7h0m1 4h0m0 2h0m1-5h0m1 6h0m0-3h0m2 0h0m1-2h0m0-1h0m1 3h0m0 3h0m0-5h0m1-1h0m0 2h0m1 2h0m0-5h0m0 7h0m1-4h0m0 4h0m0-1h0m1-4h0m0 3h0m0-5h0m0 4h0m1 1h0m0-1h0m0 3h0m1-5h0m0 4h0m0-5h0m0 2h0m1 2h0m0-5h0m1 5h0m0-1h0m0 2h0m1-3h0m0 1h0m1 3h0m0-5h0m0 3h0m1 0h0m0-1h0m0-3h0m1 5h0m0-1h0m2 1h0m-29 9h0m0-1h0m1 0h0m0-5h0m0 3h0m0-1h0m1 1h0m0-2h0m2 0h0m0 3h0m0 2h0m2-6h0m0-1h0m0 7h0m1-6h0m1 0h0m0-1h0m1 6h0m1-3h0m0 3h0m0-2h0m1-4h0m0 2h0m0 4h0m1-6h0m0 2h0m1 1h0m0 2h0m1-2h0m1-2h0m0 3h0m2-3h0m0 3h0m1-2h0m0 2h0m1 0h0m0-1h0m0 4h0m0-2h0m0-5h0m1 5h0m0-2h0m1 0h0m0-3h0m1 7h0m0-1h0m1 1h0m0-3h0m0-1h0m1 4h0m0-1h0m1-6h0m0 3h0m1 3h0m0-5h0m1 2h0m0-1h0m1 0h0m0 2h0m2 2h0m0-6h0m1 6h0m0-5h0m0 2h0m0 4h0m1-6h0m0 4h0m0-5h0m1 1h0m0 4h0m1 2h0m1 0h0m1-3h0m1 1h0m0-1h0m1 3h0m0-2h0m1 1h0m1 1h0m-40 3h0m1 0h0m0-2h0m1 3h0m2 0h0m0 4h0m0-3h0m1 1h0m1-4h0m0-1h0m0 3h0m1-2h0m0 3h0m2-3h0m0 3h0m1 3h0m1-6h0m1 2h0m0 1h0m1 0h0m0-1h0m0-1h0m1 3h0m0 2h0m1-2h0m1 2h0m0-1h0m1 1h0m0-5h0m0-2h0m1 0h0m1 0h0m1 1h0m0-1h0m1 0h0m0 6h0m0-5h0m1 1h0m2 3h0m0-2h0m0-1h0m3 1h0m0-1h0m1 4h0m1-2h0m0 3h0m1-4h0m1 4h0m0-7h0m1 1h0m1 4h0m1-3h0m0-1h0m1 4h0m0-5h0m1 3h0m0-1h0m0-2h0m1 6h0m1-1h0m0 2h0m0-5h0m1 1h0m0 3h0m0-1h0m1-2h0m0 3h0m1-1h0m0-3h0m1 0h0m0 4h0m1-1h0m0-5h0m0 7h0m1-7h0m0 4h0m0 3h0m1 0h0m0-3h0m1-1h0m0 4h0m1 0h0m0-5h0m0-1h0m0 3h0m1-1h0m0 3h0m2-2h0m-50 6h0m0 4h0m0-5h0m0 4h0m1 0h0m1 1h0m0-5h0m0 4h0m0-5h0m0 3h0m1-2h0m0 2h0m1-3h0m0 1h0m1 1h0m2 3h0m0-5h0m0 6h0m0-5h0m1 6h0m0-5h0m0-2h0m1 2h0m0 3h0m2 2h0m0-5h0m0-1h0m1 0h0m1 2h0m1-1h0m1 3h0m0-2h0m1-1h0m2 3h0m0-1h0m1 3h0m0-7h0m1 0h0m1 6h0m1-1h0m0-1h0m1 1h0m1 2h0m0-6h0m1-1h0m0 4h0m1-3h0m1 4h0m1-1h0m0-1h0m0-1h0m0-1h0m0 4h0m1-3h0m0 4h0m0-5h0m1 5h0m0-5h0m0-1h0m0 3h0m1 1h0m0-1h0m0 3h0m0-1h0m1-1h0m0 3h0m1 0h0m1-3h0m1-2h0m0 2h0m1-1h0m1-3h0m0 3h0m0 4h0m0-5h0m0 4h0m1 1h0m0-1h0m0-3h0m2 2h0m0-3h0m0 4h0m1 0h0m0 1h0m1-7h0m0 2h0m0 4h0m1-6h0m1 2h0m1 1h0m0 4h0m1 0h0m0-1h0m0-1h0m0-5h0m0 4h0m0-1h0m1 0h0m0 2h0m1 0h0m0-2h0m0 3h0m1 1h0m0-4h0m1 1h0m0-2h0m1 5h0m1-5h0m0 3h0m1-1h0m0-1h0m0 4h0m1-7h0m0 4h0m1 3h0m1 0h0m-57 7h0m1-4h0m1-1h0m0-1h0m1 3h0m1 4h0m1-6h0m0 2h0m1 4h0m0-7h0m1 3h0m0 4h0m0-2h0m0-5h0m1 0h0m0 4h0m1 0h0m0-2h0m0-2h0m1 4h0m1-3h0m0 4h0m0-5h0m0 4h0m1 3h0m0-5h0m3 4h0m0-5h0m1 2h0m2-1h0m1-2h0m0 3h0m1 1h0m1 3h0m0-1h0m1 0h0m0 1h0m1 0h0m0-2h0m0-5h0m0 4h0m1 1h0m0-2h0m1 1h0m0-2h0m1 2h0m0-1h0m0-1h0m0-2h0m1 6h0m0-6h0m1 7h0m1-6h0m0-1h0m0 2h0m1 3h0m0 2h0m1-5h0m0 4h0m0-1h0m1 0h0m0-5h0m2 7h0m0-1h0m1-6h0m0 4h0m0 3h0m1-3h0m0 2h0m0-1h0m1-2h0m1 2h0m0-2h0m0-1h0m1 1h0m1 4h0m0-5h0m1 2h0m1 0h0m2 1h0m0-5h0m1 7h0m1-2h0m0-3h0m1 0h0m0 4h0m0-1h0m1-2h0m1 3h0m0 1h0m1-4h0m0 3h0m1 1h0m1-7h0m1 3h0m0 3h0m0-1h0m0-5h0m1 5h0m0-5h0m0 7h0m1-5h0m0 3h0m1 2h0m1-6h0m0 1h0m2 2h0m0-2h0m1 2h0m-59 8h0m0-3h0m2-1h0m1 4h0m0-1h0m0-1h0m1 3h0m0-5h0m1 1h0m1 5h0m1 1h0m0-1h0m1-2h0m2-4h0m1 6h0m0-5h0m0 3h0m1-1h0m1-3h0m1 2h0m0 4h0m1-3h0m0-1h0m0-1h0m1 4h0m1-5h0m1 1h0m0-1h0m2 6h0m0-1h0m1 2h0m0-1h0m0-5h0m1-1h0m0 4h0m0 3h0m0-1h0m1-4h0m0-1h0m2-1h0m1 3h0m0 3h0m0-6h0m1 0h0m0 3h0m1-1h0m0 2h0m0-1h0m2 4h0m1-7h0m1 3h0m0 4h0m0-5h0m0-2h0m1 2h0m1 0h0m0 4h0m0-2h0m1 1h0m0-5h0m1 5h0m0-5h0m1 1h0m1 4h0m0 2h0m1-5h0m0 2h0m1-2h0m0-2h0m0 4h0m1 3h0m0-1h0m0-1h0m1 2h0m0-6h0m0 4h0m0-1h0m2-3h0m0 4h0m0-5h0m0 3h0m1 3h0m2 0h0m0-1h0m1-3h0m0-2h0m0 3h0m1 2h0m0-5h0m0 2h0m0 4h0m1-5h0m0 4h0m0-1h0m0-1h0m1 4h0m0-7h0m1 7h0m1 0h0m0-5h0m0 4h0m0-6h0m1 1h0m2 6h0m0-5h0m1 5h0m0-6h0m1 0h0m0 4h0m1 1h0m1-5h0m1 1h0m0-2h0m0 4h0m1 2h0m1 0h0m-61 2h0m2 1h0m1 4h0m0-1h0m1 3h0m0-6h0m0-1h0m0 4h0m1-4h0m2 3h0m0 3h0m0-1h0m0-1h0m1-1h0m0 4h0m0-5h0m2 1h0m0-2h0m0 4h0m1-1h0m1 2h0m0-6h0m1 4h0m0 1h0m1-2h0m2 3h0m1 1h0m0-6h0m2 3h0m0-1h0m1-1h0m1-1h0m1 5h0m0-6h0m1 7h0m0-7h0m1 3h0m0-3h0m1 4h0m1-4h0m1 7h0m0-5h0m0-2h0m1 4h0m0-1h0m1 0h0m0 4h0m0-6h0m0 4h0m2 1h0m0-6h0m1 0h0m1 5h0m1-4h0m0 4h0m0-5h0m0 3h0m1 4h0m0-1h0m0-5h0m0 4h0m1-3h0m0-1h0m0 4h0m0-1h0m0 3h0m1-5h0m0 4h0m0-1h0m1-4h0m1 5h0m0-2h0m0 3h0m0-5h0m1 2h0m0 1h0m1-5h0m0 4h0m0-1h0m1-1h0m0-1h0m0-1h0m0 3h0m2 2h0m0 2h0m0-5h0m1 0h0m0 4h0m0-3h0m1-3h0m2 6h0m1 1h0m0-1h0m1-6h0m0 4h0m1 1h0m0-1h0m1-4h0m0 4h0m0-2h0m1 2h0m1-1h0m0-1h0m0-2h0m1 1h0m0 2h0m1-2h0m0 3h0m0-1h0m1 1h0m0-1h0m1 1h0m1 0h0m1 2h0m0-5h0m-57 9h0m0-2h0m1 6h0m0-6h0m2 7h0m0-5h0m0-1h0m0 4h0m0-1h0m1 0h0m1-3h0m0 4h0m0-1h0m1-3h0m0-1h0m1 5h0m0 1h0m0-5h0m2 4h0m0-1h0m1 1h0m0-1h0m1-3h0m1 0h0m1 5h0m0-6h0m1 3h0m0 1h0m1 0h0m1 2h0m0-3h0m1-2h0m1 5h0m0-1h0m0-5h0m2 3h0m1-2h0m0 3h0m0 3h0m0-5h0m1 1h0m0-3h0m1 5h0m1-5h0m0 4h0m1 2h0m1 1h0m0-1h0m1-1h0m1 0h0m0-1h0m1 2h0m0-5h0m2 2h0m0 1h0m1 2h0m0-6h0m0 4h0m0 3h0m1-1h0m0-2h0m1-1h0m0-2h0m1-1h0m0 3h0m0-1h0m1-2h0m1 5h0m0-5h0m1 6h0m0-2h0m1-1h0m0 4h0m0-6h0m2 1h0m0-1h0m0 3h0m1 3h0m0-1h0m1-3h0m0 4h0m1-7h0m1 5h0m0-4h0m1 0h0m0 1h0m1 1h0m0 4h0m0-2h0m0-1h0m1-4h0m1 4h0m1-1h0m0 2h0m1 1h0m0-6h0m0 7h0m1-5h0m0-1h0m2 4h0m0-3h0m1 2h0m1 1h0m0-2h0m0 3h0m-25 2h0m1 0h0m3 1h0m1 0h0m0-1h0m1 1h0m1 1h0m2 0h0m0-2h0m1 0h0m1 0h0m3 1h0m1 3h0m1 0h0m1-3h0m2 2h0m0 2h0m1-4h0m0 4h0m0-5h0m1 5h0m0-1h0m0-3h0m1-1h0m0 6h0m1-5h0m0 4h0m0-5h0m1 0h0m0 4h0m0-2h0m0 4h0m0-5h0m1-1h0" stroke="#8db84e" stroke-width="1.6" stroke-linecap="square" fill="none" transform="scale(0.5)"/>
<path d="M202 639h0m0-1h0m45-2h0m-143 11h0m7 0h0m3-1h0m2 1h0m3-1h0m1 0h0m5 0h0m2 0h0m1 0h0m0-2h0m1 0h0m1 0h0m1 2h0m0 1h0m1 0h0m3-2h0m1 0h0m0-1h0m1 1h0m1-1h0m0 1h0m3 2h0m1-2h0m2-1h0m1 1h0m2 1h0m0-1h0m0-1h0m1 2h0m1 0h0m5-1h0m3 1h0m1-1h0m2 1h0m1 1h0m1 0h0m0-1h0m1 0h0m1 0h0m1-1h0m28-4h0m1 4h0m4 1h0m13-1h0m7 2h0m11-7h0m13 6h0m-137 3h0m1 0h0m0-1h0m1 5h0m1-2h0m0 4h0m1-4h0m0-2h0m2 0h0m1 1h0m0-1h0m0 3h0m1-4h0m0 2h0m1-1h0m1 2h0m0-1h0m1 4h0m1 1h0m0-3h0m2 0h0m1 1h0m1 0h0m0 2h0m1-3h0m1 1h0m1-4h0m0 4h0m0-1h0m0-2h0m0 4h0m1-1h0m0-5h0m0 4h0m1-2h0m0 4h0m1 0h0m0 1h0m1-4h0m0 4h0m1-5h0m1-1h0m0 4h0m0-1h0m0-2h0m1 5h0m0-1h0m1-3h0m1-1h0m0-1h0m0 2h0m1 1h0m0 3h0m0-1h0m0-5h0m1 4h0m0-1h0m0-1h0m1 4h0m0-5h0m0 3h0m2-5h0m1 3h0m0 4h0m0-2h0m1-5h0m0 4h0m0 3h0m0-1h0m1-1h0m1 2h0m1-2h0m0-1h0m0-2h0m0-1h0m1 6h0m0-6h0m0 2h0m1 1h0m0-3h0m1 1h0m1 1h0m0 4h0m0-3h0m1 0h0m0-3h0m1-1h0m1 7h0m0-6h0m0 3h0m1-4h0m0 3h0m0 4h0m0-5h0m1 5h0m1-7h0m1 1h0m0-1h0m0 4h0m0-1h0m0-1h0m1 0h0m0 3h0m0-5h0m0 4h0m1-1h0m1 4h0m2-6h0m0 3h0m1 2h0m1-3h0m0-1h0m0 4h0m0-5h0m0 3h0m1 3h0m0-6h0m1 2h0m0 4h0m0-6h0m1 2h0m0 4h0m0-2h0m1 0h0m0-1h0m0-1h0m0 4h0m1 0h0m0-5h0m0 4h0m1 0h0m1 1h0m1-4h0m1-1h0m1 2h0m1-3h0m1 2h0m0-1h0m2 3h0m1-1h0m0 2h0m1-2h0m2 0h0m0 3h0m2-2h0m10-2h0m16 2h0m27 1h0m2-5h0m8 5h0m1-4h0m2 4h0m-137 2h0m1 4h0m2-3h0m0-1h0m0 4h0m1-3h0m0 4h0m1 0h0m0-3h0m2-2h0m1 4h0m0-3h0m1 0h0m0-1h0m0 4h0m1 1h0m0 2h0m0-6h0m1 1h0m0 4h0m0-5h0m0 4h0m2 0h0m0-1h0m0-1h0m0-1h0m0 4h0m1-1h0m0-1h0m2-4h0m0 3h0m0-2h0m0 4h0m2 0h0m1-3h0m0-1h0m1 2h0m0-1h0m0 4h0m0-1h0m1-3h0m0 4h0m1-1h0m0-5h0m1 0h0m1 5h0m0-5h0m0 4h0m0 2h0m0-5h0m1 1h0m0 3h0m0-2h0m2-3h0m1 5h0m0-1h0m2-3h0m0 6h0m1 0h0m1-2h0m0 2h0m0-5h0m1 0h0m1 4h0m0-1h0m1 0h0m0-5h0m1 2h0m0 2h0m1-4h0m1 1h0m0-1h0m0 3h0m1-3h0m1 7h0m1-5h0m1 1h0m1 2h0m0 2h0m0-5h0m2 3h0m0-2h0m1-2h0m1-1h0m1 4h0m1-4h0m1 5h0m0-5h0m0 3h0m1-3h0m0 3h0m1-3h0m1 5h0m1-5h0m0 7h0m0-6h0m0 4h0m1-5h0m0 4h0m1-2h0m2 5h0m0-7h0m0 4h0m0-1h0m1 1h0m0-1h0m0 2h0m1-1h0m2-4h0m0 1h0m0 4h0m1-5h0m1 5h0m0-5h0m1 4h0m1 2h0m0-5h0m0 4h0m1-2h0m1-3h0m0 4h0m0 3h0m1-1h0m0-3h0m1 1h0m2-1h0m0 4h0m0-1h0m22-4h0m5-2h0m4 1h0m24 5h0m4-1h0m-125 4h0m1 0h0m1 3h0m1 0h0m0-3h0m1 3h0m1-1h0m0 2h0m0-5h0m1 7h0m0-5h0m0 4h0m1-1h0m0-3h0m1 2h0m1-3h0m0 4h0m0-1h0m0 3h0m1 0h0m0-5h0m1 2h0m0-2h0m1-1h0m0 2h0m0 4h0m0-5h0m1 4h0m0-1h0m1 1h0m1-5h0m0 2h0m1 4h0m0-5h0m0-2h0m1 4h0m0 3h0m1-5h0m0 4h0m1-3h0m0 2h0m0-5h0m1 4h0m2-2h0m2 5h0m0-1h0m1-2h0m0-4h0m1 4h0m1-1h0m0-2h0m1 3h0m0 3h0m0-5h0m1 3h0m0-2h0m0 4h0m1-3h0m1 2h0m0-1h0m1 2h0m0-1h0m0-2h0m2-4h0m0 3h0m0-1h0m1 3h0m0-1h0m1 0h0m1-3h0m1 5h0m1-2h0m2 1h0m1-5h0m1 7h0m0-3h0m2 1h0m0-1h0m0-1h0m1 0h0m0 3h0m0-5h0m1 2h0m2 1h0m0-2h0m0 4h0m0-1h0m1 1h0m0-1h0m1-3h0m1 5h0m0-6h0m0 3h0m1 3h0m0-5h0m1 0h0m0 2h0m1 3h0m0-6h0m1 3h0m0 3h0m0-5h0m1 1h0m0-2h0m2 0h0m0 4h0m0-5h0m0 4h0m1 0h0m1 2h0m0-5h0m0 4h0m0-1h0m0 3h0m1-4h0m0-1h0m0 4h0m0-1h0m0-5h0m1 2h0m0-2h0m1 3h0m1 2h0m0-1h0m1-3h0m1 4h0m47-5h0m2 4h0m1-3h0m9-1h0m8 6h0m-122 4h0m0-2h0m1 3h0m0-2h0m2 2h0m0-2h0m1 3h0m3-4h0m0 4h0m1-4h0m0 4h0m0-1h0m2 4h0m1-6h0m1 3h0m0 3h0m0-7h0m1 4h0m0-2h0m0 4h0m1-3h0m1-1h0m0 4h0m1-5h0m2 5h0m0-1h0m0-2h0m1 0h0m1 4h0m0-1h0m0-5h0m0 4h0m1 0h0m0-4h0m1 2h0m0-1h0m0 4h0m0-6h0m1 4h0m0-2h0m1 2h0m0-1h0m0 4h0m0-1h0m1 1h0m1-3h0m0-1h0m0-1h0m1 0h0m0 3h0m2-2h0m0-1h0m1 4h0m0-5h0m0 4h0m0-5h0m1 6h0m1-2h0m0-1h0m0 4h0m0-5h0m2 4h0m1 0h0m0 1h0m0-5h0m1 5h0m0-2h0m1-3h0m0-1h0m1 1h0m1 4h0m0-1h0m1-3h0m1 0h0m0-1h0m0 2h0m1-2h0m2 0h0m4 0h0m-40 7h0m4 1h0m7 0h0m0-1h0m8 0h0m5 0h0" stroke="#3cb6b8" stroke-width="1.6" stroke-linecap="square" fill="none" transform="scale(0.5)"/>
<path d="M205 637h0m18 0h0m2 0h0m19 2h0m2-2h0m-46 8h0m0 2h0m14-6h0m4 2h0m7 1h0m6-3h0m1-1h0m1 1h0m8 0h0m0 2h0m-55 12h0m11-5h0m12 5h0m1-6h0m1 4h0m12-2h0m5-2h0m5 0h0m2 2h0m2 2h0m4-3h0m-64 13h0m3-3h0m0 2h0m0-1h0m1 1h0m0-4h0m0 1h0m0 1h0m1-3h0m0 3h0m0 3h0m1-1h0m1 1h0m1-6h0m0 2h0m0 2h0m0 1h0m1-5h0m0 4h0m1-3h0m0 3h0m2 0h0m1-3h0m1 1h0m0-1h0m0 2h0m0 2h0m1-4h0m0 3h0m2-2h0m0 3h0m1 0h0m0-4h0m1 5h0m1-4h0m0 1h0m2-1h0m1 1h0m0 3h0m0-1h0m1-3h0m0 1h0m3 1h0m0-1h0m0 3h0m1-2h0m10-2h0m5 3h0m10-1h0m5 1h0m1 1h0m7-3h0m7-1h0m-79 11h0m2-1h0m1 0h0m0 1h0m0-2h0m1-1h0m0 1h0m0 2h0m1-5h0m0 2h0m0 4h0m1-6h0m0 6h0m0-1h0m1-5h0m0 3h0m0 1h0m1 0h0m0-1h0m0-2h0m0-1h0m1 4h0m0 2h0m0-7h0m1 5h0m0 2h0m1 0h0m0-1h0m1-2h0m0 3h0m1-7h0m0 2h0m0 3h0m1 0h0m1-4h0m0 2h0m0 4h0m0-7h0m1 6h0m0-6h0m1 4h0m1-2h0m1-2h0m0 1h0m1-1h0m0 4h0m1-4h0m0 2h0m0-1h0m0 2h0m0 2h0m1-3h0m0 2h0m1-1h0m0 3h0m1-3h0m0 3h0m0-1h0m1 2h0m1-1h0m0-1h0m1 2h0m0-7h0m0 2h0m0-1h0m1-1h0m0 2h0m1 2h0m0 3h0m1-2h0m0 2h0m0-5h0m1 3h0m1 2h0m0-1h0m0-6h0m0 3h0m0 2h0m1 2h0m1-7h0m0 3h0m1-3h0m0 5h0m1 0h0m0 2h0m0-1h0m1-4h0m0-1h0m0 4h0m1-3h0m0 3h0m1-4h0m1 2h0m0 3h0m0-1h0m1-3h0m0 2h0m0 1h0m7-1h0m1 0h0m23-1h0m-83 12h0m5-2h0m2-1h0m0 2h0m1 1h0m0-3h0m0 2h0m2-6h0m0 2h0m0 1h0m0 3h0m0 1h0m1-7h0m0 5h0m1-5h0m0 2h0m1-2h0m0 3h0m0 1h0m0 1h0m1-2h0m0 1h0m1 0h0m1 0h0m0 2h0m1-2h0m0-1h0m0-2h0m1 1h0m0 2h0m1 3h0m0-7h0m0 4h0m1-1h0m0 3h0m0 1h0m1-6h0m1 4h0m0 2h0m0-6h0m0 2h0m1 4h0m1-1h0m0-1h0m0 2h0m1-7h0m1 7h0m0-5h0m0 2h0m1 0h0m0-1h0m1 1h0m0 2h0m0-1h0m1-4h0m0-1h0m1 6h0m0 1h0m1-3h0m0 2h0m0 1h0m0-6h0m0-1h0m1 2h0m0 3h0m1-3h0m1 0h0m0 2h0m1-4h0m0 7h0m1-6h0m0 3h0m1-3h0m1 4h0m0 2h0m0-6h0m0 1h0m0 2h0m1 1h0m0-2h0m1-1h0m1-2h0m0 4h0m1 3h0m1-7h0m1 1h0m0 5h0m1-3h0m0 3h0m0-5h0m0-1h0m1 0h0m0 5h0m1-1h0m1-4h0m0 2h0m0 2h0m0 1h0m1-3h0m1 0h0m0 2h0m0 1h0m0-5h0m1 3h0m0 1h0m0 2h0m1-5h0m0 1h0m0 3h0m1 2h0m1-6h0m1 6h0m0-3h0m1 0h0m1-4h0m1 0h0m0 5h0m1 1h0m0-3h0m1-2h0m0 3h0m1 0h0m0 2h0m1-3h0m0 4h0m1-4h0m0 1h0m0 2h0m-87 6h0m2 0h0m1 0h0m0 2h0m1-1h0m3-1h0m1 3h0m1-3h0m1-2h0m1 5h0m0-3h0m1 0h0m0 3h0m0-1h0m0-4h0m0 3h0m1 2h0m0-3h0m1 0h0m1-3h0m0 4h0m1-4h0m1 0h0m1 4h0m0 1h0m1-5h0m0 3h0m1-2h0m0-2h0m1 3h0m0-3h0m1 0h0m1 4h0m0 3h0m1-3h0m1-4h0m0 3h0m0 2h0m2-5h0m0 6h0m1-5h0m0 2h0m2 0h0m0 2h0m1-5h0m1 2h0m1 0h0m0 1h0m1-1h0m0 3h0m0-1h0m1-3h0m0 4h0m1 2h0m0-1h0m0-6h0m1 7h0m1-6h0m0 4h0m0-5h0m1 5h0m1-1h0m0-1h0m1 1h0m0 3h0m0-7h0m0 1h0m0 2h0m0-1h0m0 3h0m1-1h0m0 3h0m1-2h0m1-5h0m0 4h0m0 2h0m1-1h0m0-1h0m0 3h0m0-6h0m0 2h0m1 4h0m0-1h0m1-4h0m0 3h0m0 1h0m1-5h0m0 1h0m0 4h0m2-1h0m1-4h0m0 2h0m1-2h0m0 3h0m1-1h0m0-1h0m1 1h0m1-1h0m0 3h0m1-4h0m0 2h0m1-1h0m0-1h0m0 3h0m1 0h0m0-3h0m1 5h0m0-6h0m0 2h0m0 1h0m1-2h0m0 2h0m0-1h0m0 3h0m1 1h0m0-4h0m0 2h0m1 1h0m0-1h0m1-3h0m0 3h0m0 2h0m1-6h0m0 1h0m1 2h0m1 0h0m0 2h0m1-4h0m0 6h0m2-7h0m1 1h0m0 4h0m0-3h0m1-1h0m0 2h0m0 2h0m1 2h0m0-1h0m0-6h0m0 2h0m1 3h0m0 1h0m1-2h0m0 2h0m0-6h0m0 2h0m1 3h0m0-1h0m0 3h0m1 0h0m0-3h0m1-4h0m0 2h0m0 2h0m1 2h0m0-6h0m0 3h0m1-2h0m0 3h0m0 3h0m1-2h0m0-1h0m0 3h0m1-1h0m0-6h0m1 3h0m1 0h0m1 1h0m0-4h0m1 3h0m0 2h0m1-1h0m1-3h0m0 3h0m1 2h0m1 0h0m0-3h0m1 3h0m-90 4h0m1 3h0m0 2h0m0-4h0m2 3h0m0-2h0m1 3h0m0-7h0m0 1h0m1-1h0m0 2h0m1-2h0m1 6h0m0-5h0m1 6h0m1-7h0m0 1h0m0 3h0m1 1h0m0-1h0m0 2h0m1-5h0m2 2h0m0 3h0m0-6h0m1 2h0m0 3h0m0 2h0m0-1h0m1-3h0m0 2h0m1-2h0m0 4h0m2-4h0m0 2h0m0-3h0m1 1h0m1 4h0m0-6h0m0 3h0m2-2h0m0 3h0m0-1h0m1 2h0m0-5h0m0 4h0m1-1h0m0 1h0m0 1h0m1-5h0m0 3h0m1 1h0m1 1h0m1 0h0m1-5h0m0 3h0m0 3h0m0-1h0m1-4h0m0-1h0m0 3h0m0-1h0m1-2h0m0 3h0m1 2h0m0 1h0m0-7h0m1 4h0m1 1h0m0 2h0m0-1h0m0-3h0m1 2h0m0 2h0m0-7h0m0 2h0m0-1h0m0 3h0m1 3h0m0-7h0m1 6h0m0 1h0m1-6h0m0-1h0m1 5h0m1-5h0m0 2h0m1-1h0m0 2h0m1-3h0m0 5h0m1-3h0m0 5h0m1-6h0m0 3h0m0-1h0m1 0h0m0 3h0m0-1h0m2-5h0m0 2h0m0 2h0m0 2h0m1-4h0m0 2h0m1-2h0m0 1h0m0 2h0m2-2h0m0 4h0m1-6h0m0 6h0m1-1h0m0-6h0m0 2h0m0-1h0m1 6h0m0-6h0m0 1h0m1 0h0m0 1h0m1 4h0m0-7h0m0 2h0m0 4h0m1-1h0m0-3h0m1-2h0m1 7h0m0-6h0m0 3h0m0-1h0m0 3h0m0-1h0m2-5h0m0 5h0m1-3h0m0 5h0m1-5h0m0 1h0m1 2h0m1-5h0m0 4h0m1-4h0m0 2h0m0 5h0m2-3h0m0 2h0m1-4h0m2 2h0m0 1h0m0-4h0m1 1h0m0-1h0m1 2h0m1-1h0m1 0h0m0 2h0m0 2h0m0-1h0m1-4h0m0 1h0m1 0h0m0 3h0m1 2h0m0-6h0m0 2h0m0 2h0m2-4h0m0-1h0m1 3h0m0 3h0m1-6h0m0 2h0m0 2h0m0 2h0m1-5h0m0 1h0m0 2h0m0 1h0m1-2h0m0 2h0m0 2h0m1-1h0m0-4h0m1 1h0m0 3h0m0-5h0m0 1h0m1-1h0m0 1h0m1 1h0m1-3h0m0 6h0m1-1h0m0-1h0m0-1h0m-88 5h0m0 3h0m1-3h0m0 3h0m0 1h0m1-1h0m0 1h0m1 1h0m0 2h0m0-4h0m1-1h0m0 2h0m1-4h0m1 0h0m0 2h0m0 4h0m1-5h0m0-1h0m0 2h0m0 2h0m1 0h0m0-1h0m0-2h0m0-1h0m0 2h0m1-2h0m0 4h0m0 2h0m1 0h0m0 1h0m1-1h0m0 1h0m0-4h0m1 1h0m0 3h0m2-6h0m1 5h0m1-5h0m0 2h0m1-2h0m0-1h0m2 5h0m0-1h0m1-3h0m0-1h0m0 6h0m0-1h0m1 1h0m0 1h0m1-5h0m0 3h0m1-3h0m0 2h0m1 0h0m1 0h0m0 3h0m1-7h0m0 2h0m0 3h0m1-1h0m0-2h0m2 5h0m0-6h0m0-1h0m1 3h0m0-1h0m1 2h0m0 2h0m0 1h0m0-7h0m0 3h0m1-1h0m0 4h0m1-5h0m1 0h0m0 2h0m0-1h0m0 4h0m1 1h0m0-2h0m1-5h0m0 5h0m1-4h0m0-1h0m0 3h0m0 2h0m1-2h0m0 3h0m0-1h0m1-4h0m1 4h0m0-1h0m1 0h0m0-1h0m1 1h0m0 1h0m0 2h0m0-4h0m1-2h0m0 1h0m0 2h0m0 2h0m0-6h0m1 7h0m1-3h0m0 2h0m0 1h0m1 0h0m0-7h0m0 4h0m1 1h0m0 2h0m0-6h0m0 2h0m0-1h0m1 2h0m0-4h0m1 1h0m1 6h0m0-3h0m1-3h0m0 4h0m1-2h0m1-2h0m0-1h0m1 3h0m0 3h0m1 0h0m1-3h0m1 1h0m1-4h0m1 5h0m0-5h0m1 6h0m0-3h0m0 2h0m2-1h0m0 2h0m0-5h0m1 4h0m0-5h0m0 6h0m1 1h0m0-1h0m2 1h0m1-6h0m0-1h0m0 6h0m1 1h0m0-2h0m0 1h0m1 1h0m1-6h0m0-1h0m1 0h0m1 5h0m0-1h0m1-1h0m0-1h0m0 3h0m0-1h0m0 3h0m1-3h0m0 3h0m1-3h0m0-1h0m1-2h0m0 2h0m0 2h0m0 1h0m0-6h0m1 4h0m0 2h0m0-5h0m0-1h0m0 3h0m1 3h0m0 1h0m0-7h0m1 4h0m1-2h0m0 2h0m1 1h0m0-1h0m0 3h0m1-4h0m0 2h0m0-1h0m1-1h0m0-1h0m1-1h0m0 3h0m1-1h0m0-1h0m0 3h0m1-5h0m0 4h0m3-1h0m1-2h0m-87 7h0m0 1h0m2-1h0m0 2h0m1 2h0m0-3h0m1 4h0m0-4h0m1 0h0m0 1h0m0 3h0m1 1h0m0-5h0m1 2h0m0 4h0m1-1h0m0-6h0m0 3h0m0 2h0m0-1h0m2-1h0m0 1h0m0 2h0m1 0h0m0-3h0m1 0h0m0-1h0m0 3h0m0 2h0m1-2h0m0 2h0m1-7h0m0 3h0m0-1h0m1 0h0m0 1h0m0 1h0m0-4h0m1 0h0m0 5h0m1-1h0m2 1h0m0 1h0m0-6h0m1 4h0m0 3h0m0-7h0m1 1h0m1 5h0m0-4h0m1 1h0m0 3h0m0-6h0m1 6h0m0-3h0m0 2h0m1-3h0m0 3h0m1 2h0m0-1h0m0-6h0m0 1h0m0 2h0m1-3h0m0 4h0m0 3h0m1-7h0m0 2h0m0 2h0m1 0h0m0 3h0m0-7h0m1 1h0m0 3h0m1-3h0m0 6h0m0-1h0m1-2h0m0 3h0m2 0h0m0-7h0m2 1h0m0 2h0m1 0h0m0 4h0m0-7h0m0 1h0m2 5h0m1-1h0m0 2h0m1-7h0m0 1h0m0 2h0m0 4h0m1-2h0m1-1h0m1 1h0m1 2h0m0-6h0m0 3h0m1 0h0m1-1h0m0 1h0m1-2h0m0 2h0m0 2h0m0-6h0m1 2h0m0-1h0m0 2h0m0 4h0m1-4h0m0 2h0m0-5h0m2 4h0m0 2h0m2-3h0m0 3h0m0-4h0m1 1h0m0 2h0m1 1h0m0-1h0m0-5h0m1 6h0m0-1h0m1-3h0m0 1h0m1 3h0m0-6h0m0 3h0m1 1h0m0 3h0m1-5h0m0 3h0m1-5h0m0 1h0m1 1h0m1 1h0m1-2h0m2 0h0m1 0h0m0 3h0m0-2h0m1 0h0m1-1h0m3 0h0m0 1h0m4-2h0m-76 10h0m1 0h0m2 5h0m1-3h0m0 1h0m1-1h0m0-1h0m1 2h0m0 2h0m0-7h0m1 6h0m0-1h0m1-5h0m0 1h0m1 3h0m1 0h0m0 1h0m1-2h0m0 4h0m1-3h0m0 3h0m1-5h0m0 3h0m0 2h0m1-4h0m0 2h0m1-1h0m0 1h0m1 1h0m0-6h0m1 1h0m0 2h0m0 3h0m1 1h0m0-6h0m0 4h0m1 0h0m0-2h0m1-2h0m0-1h0m0 2h0m0 1h0m1 1h0m0 1h0m0 1h0m1-2h0m1-4h0m0 1h0m0 3h0m0 3h0m1-6h0m0 5h0m1-4h0m0 4h0m0-1h0m1-1h0m1-3h0m0 1h0m0 5h0m1-1h0m0-4h0m1-1h0m1 6h0m0-6h0m1 3h0m0-1h0m0 4h0m1-5h0m1-1h0m0 2h0m1 3h0m0-4h0m0-1h0m2-1h0m0 3h0m0 3h0m1-5h0m0 6h0m1-6h0m0 2h0m0 3h0m0-1h0m0 2h0m1-2h0m0 2h0m1-7h0m0 5h0m1-1h0m1 1h0m0 1h0m1-2h0m0 1h0m1-3h0m1-2h0m2 3h0m1 2h0m0-5h0m1 1h0m1 4h0m0-5h0m1 2h0m0 2h0m1-2h0m1-1h0m0-1h0m0 2h0m0 2h0m1-1h0m1-2h0m0-1h0m1 1h0m0-1h0m5 0h0m-58 11h0m1 1h0m0-1h0m0-3h0m1 1h0m0 3h0m1-4h0m0 3h0m0-1h0m0 3h0m0-1h0m0 3h0m1-3h0m0 3h0m1-7h0m0 3h0m0 2h0m1 2h0m0-4h0m1 2h0m0 1h0m0 1h0m0-7h0m0 1h0m1 5h0m1 0h0m0-2h0m1 1h0m1 1h0m0-6h0m0 2h0m0 2h0m1-2h0m0 3h0m1-2h0m2 0h0m0 4h0m1-7h0m0 4h0m1 3h0m1-5h0m0 5h0m1-7h0m0 5h0m0 2h0m0-1h0m1 1h0m0-6h0m0-1h0m1 1h0m1 0h0m1 6h0m0-6h0m1 1h0m0 4h0m1 0h0m0-4h0m1 2h0m0 2h0m0-5h0m0-1h0m2 3h0m0 2h0m3 2h0m0-6h0m1 0h0m0 2h0m0 2h0m0-1h0m1-3h0m0 2h0m0 2h0m0 1h0m1-3h0m0-2h0m1 0h0m0 2h0m1-1h0m0-1h0m0 6h0m3-4h0m2-3h0m-36 10h0m1 1h0m1-1h0m0 1h0m1-1h0m0 2h0m3-2h0m0-1h0m0 2h0m1-3h0m0 1h0m4 1h0m0 1h0m1-1h0m0-1h0m0 4h0m1-1h0m1-3h0m0 2h0m1 1h0m0-3h0m0 2h0m0 2h0m1-4h0m0 2h0m1-1h0m1-2h0m0 2h0m0-1h0m0 3h0m1-4h0m1 3h0m1 2h0m1-5h0m1 2h0m0-1h0m0 3h0m1-4h0m1 1h0m0 2h0m1 1h0m3-3h0" stroke="#a699cf" stroke-width="1.6" stroke-linecap="square" fill="none" transform="scale(0.5)"/>
<path d="M259 654h0m2 0h0m1 1h0m1-2h0m1 1h0m1 1h0m1-2h0m1 0h0m0-1h0m1 3h0m0-1h0m1 0h0m0-1h0m0 2h0m2-1h0m1-1h0m0-1h0m1 3h0m0-1h0m1 0h0m1 1h0m0-2h0m1 0h0m1 1h0m0-1h0m0 2h0m3-1h0m0-3h0m5 3h0m1 1h0m1 0h0m4 0h0m-53 8h0m2-2h0m2 2h0m1-1h0m2-3h0m0 3h0m0-1h0m1-1h0m1 2h0m0-2h0m1 0h0m2-1h0m1 4h0m0-1h0m1-1h0m0 2h0m1-4h0m1 3h0m0-6h0m1 6h0m0-5h0m1 5h0m0-1h0m0-1h0m1-3h0m0-1h0m0 7h0m0-5h0m2 0h0m1-2h0m0 4h0m1 3h0m0-5h0m1 1h0m0-2h0m1 0h0m0 1h0m2 4h0m0-3h0m1-1h0m0 2h0m0-1h0m1-1h0m0 3h0m1-4h0m0 6h0m0-5h0m1-1h0m1-1h0m0 3h0m0-1h0m1 4h0m0-5h0m0 4h0m0-1h0m0-2h0m1-2h0m1 1h0m0 4h0m3 1h0m0-5h0m0 6h0m2-5h0m0 4h0m1 0h0m0-2h0m0-2h0m1 4h0m1-6h0m0 2h0m0 4h0m1-5h0m0 1h0m1 5h0m0-5h0m1 3h0m0-5h0m0 4h0m1-2h0m0 3h0m1-2h0m0 4h0m0-2h0m2 0h0m0-1h0m1-1h0m0-2h0m0-1h0m1 4h0m0-2h0m0 4h0m1-1h0m0-1h0m1 2h0m0-6h0m0 4h0m1-1h0m0 4h0m1-6h0m1 2h0m0 2h0m1-2h0m1 0h0m1 3h0m0-1h0m3 2h0m3-1h0m1 1h0m-73 6h0m2 2h0m1-5h0m0 2h0m1-1h0m0-3h0m1 3h0m1-1h0m0 4h0m2-6h0m0 4h0m0-3h0m1 2h0m0-1h0m0 4h0m1-3h0m0 4h0m0-5h0m2 4h0m1-1h0m0 2h0m0-5h0m0-1h0m1 6h0m0-5h0m0 3h0m1 1h0m0-5h0m1 2h0m2-3h0m0 4h0m1-4h0m0 2h0m1 4h0m1-1h0m0-1h0m3 0h0m1 3h0m0-5h0m0 2h0m1-1h0m3 2h0m0-3h0m1-2h0m0 3h0m1 0h0m0 2h0m0-1h0m1-4h0m0 4h0m1-2h0m0-2h0m0 3h0m1 3h0m0-2h0m1 1h0m0 1h0m2-3h0m1 2h0m0-1h0m0 2h0m1-3h0m2-1h0m1 1h0m0 4h0m1-7h0m0 7h0m1-6h0m0-1h0m0 4h0m2 1h0m0-1h0m0-3h0m1 6h0m0-6h0m1 6h0m1-6h0m0 4h0m0-3h0m1 5h0m0-3h0m1 1h0m0-1h0m1 2h0m0-6h0m1 4h0m1-4h0m0 4h0m0-1h0m2 2h0m1-2h0m0 3h0m0-5h0m1 6h0m0-7h0m1 5h0m0-1h0m0 2h0m0-5h0m1 3h0m1 2h0m1-2h0m1 2h0m0-5h0m0-1h0m1 2h0m1 5h0m0-5h0m1 0h0m0-1h0m0 4h0m0-2h0m1 0h0m0 3h0m1-2h0m0 3h0m0-5h0m0 4h0m1-3h0m0 3h0m0-6h0m2 7h0m0-5h0m0-1h0m0 3h0m1 1h0m0-5h0m1 0h0m0 7h0m1-1h0m0-1h0m0-1h0m1 0h0m0-1h0m0 2h0m1 2h0m1 0h0m0-1h0m-82 8h0m1-1h0m0 2h0m0-1h0m1-4h0m1 5h0m0-6h0m1 2h0m1 2h0m0-2h0m1-2h0m1-1h0m0 3h0m1 3h0m0-5h0m1 3h0m0-2h0m2-1h0m1 1h0m1 5h0m2-7h0m1 2h0m0 4h0m0-3h0m1 1h0m0-1h0m0-2h0m1 3h0m1 3h0m0-1h0m1-1h0m0-2h0m0-2h0m1 1h0m0 4h0m0-1h0m1-3h0m0-2h0m1 0h0m1 0h0m1 2h0m0 4h0m0-6h0m2 3h0m0 4h0m0-5h0m0-1h0m0-1h0m1 5h0m0-5h0m0 7h0m0-1h0m1-1h0m1-2h0m0-1h0m0 4h0m1-6h0m0 7h0m1 0h0m0-5h0m0-2h0m1 4h0m0 3h0m1-5h0m0-1h0m0 4h0m0-2h0m0 4h0m1-2h0m1-5h0m1 3h0m0 4h0m0-5h0m1 1h0m0-2h0m1-1h0m0 3h0m0-2h0m1-1h0m1 3h0m0 4h0m0-7h0m1 4h0m0-1h0m0-2h0m1 1h0m0 3h0m1 2h0m0-6h0m0 4h0m1-4h0m1 5h0m1-3h0m0 2h0m2 0h0m0-5h0m1 0h0m0 4h0m0-1h0m0-2h0m0 4h0m1 0h0m1-3h0m1 5h0m0-6h0m1 1h0m0-2h0m0 4h0m1 3h0m0-2h0m1-4h0m0-1h0m0 2h0m1 4h0m0-6h0m1 4h0m0-1h0m0 2h0m1-4h0m1 2h0m1-3h0m1 6h0m0-6h0m0 3h0m2 3h0m0-1h0m1-2h0m0-1h0m1 5h0m1-1h0m0-1h0m1-1h0m0 3h0m1-7h0m0 4h0m0-3h0m1 2h0m3 4h0m0-1h0m0-2h0m0-1h0m1 0h0m0-3h0m1 6h0m0-5h0m0 2h0m0-1h0m1 2h0m2 3h0m0-1h0m0-5h0m0 4h0m0-1h0m1-2h0m0-1h0m0 3h0m1-4h0m1 2h0m1 0h0m1 4h0m0-3h0m0 4h0m0-5h0m1-1h0m0 3h0m1 0h0m0-1h0m0-1h0m0 4h0m0-1h0m1 0h0m1 2h0m0-1h0m-87 2h0m0 4h0m0-1h0m1 2h0m0-1h0m0-1h0m0 4h0m1-3h0m0-1h0m0 4h0m0-5h0m0 3h0m1-4h0m0 2h0m0-1h0m1 0h0m0 4h0m0-3h0m1 4h0m0-2h0m0-1h0m2 3h0m0-7h0m1 1h0m2 1h0m1-2h0m0 4h0m0-2h0m1 0h0m1 0h0m1 4h0m0-6h0m0 3h0m0 4h0m1 0h0m1-1h0m1 1h0m1-6h0m1 4h0m0-5h0m0 4h0m0-3h0m1 3h0m0 3h0m2-1h0m0-1h0m2-1h0m0 2h0m0-5h0m0-1h0m1 3h0m0 3h0m1 0h0m0-6h0m1 4h0m0 1h0m2-2h0m1-1h0m0 4h0m2-3h0m0 3h0m1-5h0m0 6h0m3-2h0m2-5h0m0 5h0m1-4h0m0 3h0m0-2h0m0 4h0m1-2h0m0-2h0m0 4h0m0-5h0m2 5h0m0-2h0m1 2h0m1-1h0m1-1h0m0-4h0m1 7h0m0-5h0m1 4h0m0-1h0m0-2h0m1 4h0m0-6h0m0 4h0m1-1h0m1 0h0m1-1h0m0-1h0m0-1h0m0 4h0m1-3h0m1 3h0m0-5h0m1 0h0m1 1h0m0 4h0m0-3h0m1 0h0m0 4h0m0-6h0m0 4h0m1 2h0m1-2h0m0-2h0m0-1h0m2 4h0m0 2h0m1-5h0m0-2h0m0 4h0m0-1h0m1 0h0m0 3h0m1-1h0m0-5h0m0 3h0m0-2h0m1 1h0m0-1h0m1 2h0m0-2h0m1 6h0m1-5h0m0-1h0m1 6h0m1-3h0m0-2h0m1 1h0m1 2h0m0-5h0m0 3h0m2 0h0m0 4h0m0-6h0m0 3h0m1-1h0m0-1h0m1 5h0m0-5h0m0-1h0m2 1h0m1-1h0m1 4h0m1-2h0m1-1h0m0-1h0m0 4h0m1 0h0m1-4h0m0 4h0m2-4h0m0 3h0m0 3h0m0-5h0m0 4h0m1-4h0m0 4h0m0-1h0m2-4h0m-87 9h0m0-1h0m0-1h0m1 5h0m0-5h0m1 2h0m0 4h0m0-6h0m1 0h0m0 4h0m1 1h0m0-2h0m1-2h0m2 0h0m0 4h0m0-1h0m0 3h0m1 0h0m1-7h0m0 2h0m1 4h0m0-1h0m0-5h0m1 2h0m0 3h0m1-5h0m1 7h0m1-2h0m2 2h0m1-2h0m0-3h0m0-1h0m1 3h0m1-2h0m0 4h0m0-5h0m0 4h0m1-2h0m0 4h0m0-5h0m1-2h0m0 3h0m1 0h0m1 2h0m0-5h0m0 4h0m1 3h0m0-1h0m0-3h0m1-3h0m1 1h0m0 5h0m1-3h0m0-1h0m0 3h0m3-2h0m0 3h0m1-2h0m0-2h0m0-1h0m1 5h0m0-6h0m0 3h0m1-1h0m0-1h0m1 6h0m0-6h0m1 2h0m0-1h0m1 2h0m0-1h0m0-1h0m1 2h0m0-1h0m0 3h0m1 0h0m0-1h0m1 1h0m1-1h0m1-2h0m1-3h0m0 7h0m0-6h0m1 1h0m0 1h0m1-3h0m0 6h0m1-1h0m0-2h0m2 0h0m0 4h0m0-5h0m1 3h0m0-5h0m0 3h0m1-1h0m0 4h0m0-6h0m0 3h0m1 0h0m0-1h0m3 1h0m1-1h0m0 4h0m1-5h0m2 5h0m0-2h0m1 1h0m0-4h0m1 1h0m0 3h0m1 1h0m1 0h0m1-4h0m0-1h0m1 6h0m1-6h0m0 4h0m0-5h0m0 4h0m1 2h0m0-2h0m1 0h0m0-1h0m0 4h0m0-5h0m0 3h0m1 0h0m0 2h0m0-5h0m1 2h0m0-1h0m1-3h0m0 4h0m0-3h0m1 0h0m0 3h0m1 0h0m0-1h0m0 3h0m0-5h0m0-1h0m1 0h0m0 3h0m0-1h0m1 5h0m1 0h0m0-5h0m1-1h0m0 5h0m1-6h0m0 4h0m1 1h0m0-3h0m0 4h0m2 1h0m0-5h0m1 2h0m0 3h0m1-5h0m1 0h0m0-2h0m1 1h0m1 5h0m0-6h0m0 3h0m1-3h0m0 3h0m1 2h0m0 2h0m0-1h0m1-1h0m-84 5h0m1-2h0m2 5h0m0-2h0m1 1h0m1 2h0m0-5h0m0 4h0m0-5h0m1 5h0m0-1h0m1-2h0m0-2h0m1 6h0m1 0h0m0-6h0m0 7h0m1 0h0m1-6h0m1 6h0m1 0h0m0-1h0m1-6h0m0 3h0m0 4h0m1-5h0m0 1h0m2-1h0m0 5h0m1-3h0m0 3h0m0-7h0m1 4h0m0 2h0m0-1h0m1-2h0m1 4h0m0-5h0m1 3h0m0 2h0m0-1h0m3-6h0m1 6h0m0-5h0m0-1h0m1 7h0m0-6h0m1 5h0m0-5h0m0-1h0m1 7h0m0-5h0m0-1h0m0-1h0m1 6h0m1-6h0m0 4h0m1 3h0m0-7h0m1 7h0m0-5h0m1 0h0m1 1h0m1 1h0m1 2h0m0-2h0m1 3h0m0-6h0m1 0h0m0 1h0m1 0h0m0 4h0m0-1h0m0-5h0m1 0h0m1 1h0m0 6h0m2-1h0m0-3h0m1-3h0m0 4h0m2-1h0m0-1h0m1-1h0m1 4h0m1-1h0m1-1h0m0-1h0m0 4h0m0-1h0m1 1h0m0-5h0m2 5h0m0-1h0m1 0h0m0-5h0m0 4h0m0-1h0m0 4h0m1 0h0m1-1h0m0-5h0m0 4h0m1 1h0m0-2h0m0-2h0m1 4h0m0-2h0m1-3h0m0-1h0m0 4h0m0-1h0m0-1h0m1 0h0m0 4h0m2-5h0m1 5h0m1-1h0m1-3h0m1 0h0m0-2h0m1 0h0m0 4h0m1-4h0m0 3h0m0 4h0m1-5h0m0 4h0m1-1h0m0-1h0m0-2h0m2-2h0m1 1h0m0 1h0m1 0h0m1 1h0m0-3h0m1 3h0m2 0h0m0-2h0m1 2h0m-75 5h0m0 2h0m1 0h0m1-2h0m0 2h0m1 3h0m0-3h0m1 1h0m0-1h0m0-1h0m0 3h0m1-3h0m0 4h0m0-5h0m0 4h0m1 3h0m1-6h0m1 6h0m1-6h0m1 5h0m1-1h0m0-2h0m1-3h0m1 4h0m0-2h0m0 4h0m0-5h0m2 3h0m1-2h0m1 4h0m0-3h0m1 4h0m0-5h0m0 2h0m1-3h0m1 5h0m0-5h0m0 4h0m0-1h0m1 3h0m0-6h0m1 1h0m2-1h0m1 3h0m0 3h0m1 0h0m0-1h0m0-2h0m2 2h0m0-3h0m1 2h0m0-5h0m1 4h0m1-1h0m0-2h0m0 3h0m1-1h0m0 2h0m1-1h0m1 2h0m0-2h0m1 0h0m0 3h0m0-1h0m1 1h0m1-6h0m1-1h0m1 7h0m0-1h0m0-6h0m1 3h0m1 2h0m1-3h0m0-2h0m0 4h0m1-3h0m1-1h0m1 1h0m0 4h0m1 0h0m0-4h0m1 2h0m0-1h0m0 2h0m1 0h0m1 1h0m0-1h0m1-4h0m0 4h0m2-4h0m1 1h0m0 3h0m1-4h0m0 3h0m1-2h0m0-1h0m1 1h0m1 0h0m4-1h0m2 0h0m-57 9h0m0-1h0m1 0h0m0 1h0m2-1h0m0 1h0m1 1h0m3 4h0m0-1h0m0-1h0m0-1h0m0-1h0m1 4h0m1-1h0m0 1h0m1-4h0m0 4h0m1-4h0m1 2h0m0-3h0m1 6h0m0-1h0m1-2h0m0-1h0m0-2h0m1 3h0m0 2h0m1 1h0m0-7h0m1 3h0m0-2h0m1 3h0m0-1h0m0 4h0m1-6h0m0-1h0m0 3h0m1 1h0m0 2h0m1 1h0m0-3h0m4-4h0m0 4h0m0-1h0m0-1h0m1-2h0m2 2h0m1-2h0m0 3h0m1-2h0m0-1h0m1 2h0m-22 7h0m1 0h0m1 2h0m0-1h0m2-1h0m2 0h0m1-1h0m2 1h0m1-1h0" stroke="#f2ab3b" stroke-width="1.6" stroke-linecap="square" fill="none" transform="scale(0.5)"/>
<path d="M303 703h0m2-2h0m3-1h0m0 3h0m2-2h0m1 0h0m0-2h0m1 4h0m0-1h0m0-1h0m1 0h0m0-2h0m1 2h0m1 2h0m1-2h0m-32 10h0m2-1h0m3-1h0m2-1h0m2 1h0m0 1h0m2-3h0m0 2h0m1-1h0m0-3h0m2 3h0m0 2h0m0-1h0m1-4h0m0 4h0m1-4h0m0-1h0m1 3h0m0 3h0m1 0h0m0-5h0m1 1h0m0-1h0m0 4h0m0-5h0m0 4h0m1-3h0m1 2h0m1 0h0m0 4h0m0-5h0m0-1h0m2 0h0m0 3h0m1-4h0m0 7h0m1-7h0m0 3h0m0 4h0m1-6h0m0 2h0m1-3h0m0 2h0m0 4h0m2 0h0m0-2h0m2-3h0m-52 14h0m3-2h0m0 2h0m3 0h0m0-1h0m2-1h0m0-1h0m1 0h0m1 3h0m1 0h0m1-2h0m1-3h0m0 3h0m1 0h0m1 1h0m0-5h0m0 4h0m1 2h0m0-2h0m0-5h0m1 2h0m0-1h0m1 5h0m1-4h0m0 4h0m2-5h0m0 4h0m0-1h0m0 3h0m0-5h0m1 5h0m0-1h0m0-5h0m1 6h0m1-1h0m0-6h0m1 5h0m1 1h0m0-1h0m0-1h0m1-3h0m0 4h0m0-1h0m1 0h0m0-2h0m1 0h0m0 3h0m2 2h0m0-1h0m1-6h0m0 4h0m2-3h0m1 0h0m1 1h0m1-1h0m0 4h0m0-5h0m0 4h0m1-1h0m0 4h0m0-5h0m0 2h0m1 0h0m1 2h0m0-6h0m0 4h0m2-3h0m2 5h0m0-6h0m1 6h0m0 1h0m1-5h0m0-1h0m0-1h0m1 3h0m0 4h0m0-6h0m1 5h0m0-1h0m0-1h0m1-1h0m1-2h0m0-1h0m2 3h0m0 3h0m1 0h0m-62 5h0m1 3h0m1 0h0m0-1h0m0-1h0m1 3h0m2-5h0m0 4h0m0-2h0m1 2h0m1 0h0m0-6h0m1 4h0m1 1h0m0-5h0m0 4h0m0-1h0m1 3h0m1-3h0m0-2h0m0 3h0m1 2h0m0-1h0m0-5h0m1 0h0m0 7h0m1-1h0m2-3h0m0 3h0m0-5h0m0 4h0m0-5h0m0 4h0m1 2h0m0-5h0m1 4h0m0-5h0m0 4h0m0 3h0m0-5h0m1 3h0m2 2h0m0-1h0m1 0h0m0-6h0m0 4h0m1 2h0m0-4h0m2 0h0m0-1h0m1-1h0m0 4h0m0-2h0m2 5h0m1-1h0m0-5h0m0 6h0m0-5h0m1 4h0m0-2h0m1-3h0m0 2h0m0 4h0m1-6h0m0 3h0m4 0h0m0-1h0m1-2h0m0 4h0m1 2h0m0-1h0m0-2h0m1 3h0m1-2h0m1-2h0m1 3h0m0-1h0m0 2h0m1-7h0m1 7h0m0-1h0m1 0h0m1-1h0m1-1h0m0-2h0m0-1h0m1-1h0m0 2h0m1 5h0m0-5h0m0 3h0m1-1h0m0-2h0m2 3h0m0-1h0m2-2h0m1-1h0m0 3h0m2-2h0m1-1h0m1 2h0m0-1h0m0 4h0m1-4h0m0-2h0m1 0h0m0 4h0m-61 4h0m0 2h0m1 0h0m1 0h0m1 4h0m0-5h0m1 4h0m1-2h0m0-1h0m0 3h0m1-5h0m0 7h0m0-1h0m1 1h0m0-3h0m1 1h0m0 2h0m0-1h0m0-5h0m1-1h0m1 0h0m1 4h0m0-1h0m2 0h0m0 4h0m0-7h0m0 4h0m1 2h0m0-5h0m1 5h0m0-5h0m1 1h0m1 1h0m1-2h0m1 2h0m0 4h0m1-1h0m0 1h0m1 0h0m0-5h0m0 4h0m0-5h0m1 2h0m0-2h0m1 5h0m0-1h0m2 0h0m0-1h0m0 2h0m1-1h0m1 0h0m0-3h0m1 4h0m0-1h0m0 2h0m0-5h0m1-2h0m1 4h0m1 1h0m1-1h0m1 0h0m0-3h0m1 1h0m0 3h0m0-2h0m1-3h0m0 4h0m0 3h0m2-6h0m0 4h0m0-2h0m1-3h0m1 5h0m1-2h0m0 4h0m0-2h0m0-1h0m1-4h0m0 2h0m1 5h0m1-4h0m0 2h0m0-5h0m1 3h0m0 4h0m1-5h0m0 3h0m0-1h0m1 1h0m0-3h0m1 1h0m1 2h0m1 0h0m0-5h0m0 7h0m0-5h0m1 0h0m1 3h0m1 0h0m0-4h0m1 0h0m0 3h0m2 3h0m0-1h0m0-5h0m1 5h0m0-2h0m1-1h0m0 3h0m1 0h0m0-1h0m0-1h0m1 0h0m0-1h0m1 1h0m-59 5h0m0-1h0m2 2h0m0-2h0m0 4h0m1 0h0m0 2h0m0-5h0m0 4h0m1-5h0m0 7h0m0-6h0m0 4h0m1 1h0m0 1h0m1-5h0m0 3h0m3 0h0m1 1h0m0 1h0m1-2h0m1-1h0m0-2h0m0 4h0m0-1h0m1-3h0m1-2h0m1 5h0m0-1h0m0-2h0m1-1h0m0 4h0m0-5h0m0 4h0m1-1h0m1-1h0m0 4h0m0-5h0m1 6h0m0-7h0m1 0h0m0 3h0m0-1h0m0-1h0m2 2h0m0 2h0m1 2h0m0-5h0m1 0h0m0 4h0m1-5h0m1 0h0m1 5h0m0-5h0m1 2h0m1 3h0m0-1h0m0-2h0m0 4h0m1-4h0m0-1h0m1 4h0m0-5h0m1 1h0m1 5h0m2-6h0m0 2h0m2 2h0m0-5h0m0 3h0m0 4h0m1 0h0m0-5h0m0-2h0m0 3h0m1 4h0m1-5h0m0 1h0m0 4h0m1-3h0m1-4h0m0 3h0m0 4h0m0-5h0m0-1h0m1 5h0m0-5h0m1 3h0m0 2h0m0-6h0m1 6h0m0-1h0m0-5h0m0 4h0m1-4h0m0 4h0m0 3h0m2-1h0m0-1h0m0-5h0m0 4h0m0-1h0m0-1h0m1 0h0m0-1h0m1-1h0m1 5h0m1-5h0m1 1h0m0 3h0m0-1h0m0 4h0m1-7h0m0 7h0m1-4h0m0 4h0m0-2h0m1-3h0m0 2h0m0 3h0m1-4h0m0-2h0m1 3h0m-56 4h0m0 4h0m1 1h0m1-1h0m0-2h0m1 0h0m0-2h0m1 1h0m0 1h0m2 5h0m1-6h0m0 4h0m0-2h0m0 4h0m1-5h0m0 2h0m2 3h0m0-1h0m1-4h0m0 4h0m1 0h0m0-1h0m0-1h0m0-2h0m1-1h0m0 4h0m0-5h0m1 1h0m1 3h0m1-1h0m0-1h0m0-1h0m2-1h0m0 7h0m1 0h0m1-2h0m0 1h0m0-5h0m1 5h0m0-6h0m0 3h0m1-1h0m0 4h0m0-6h0m1 2h0m1 5h0m0-6h0m0 2h0m1-1h0m0-1h0m0-1h0m1 0h0m1 7h0m0-5h0m0 4h0m0-2h0m2-3h0m0 3h0m1-1h0m0 4h0m0-6h0m3 5h0m0-2h0m1 0h0m0 3h0m0-5h0m1 5h0m0-6h0m0 4h0m0-5h0m0 3h0m1 0h0m0 4h0m0-5h0m0 4h0m0-5h0m0 4h0m0-1h0m1 1h0m1 0h0m1-4h0m0 1h0m1 2h0m0-2h0m1 4h0m0-1h0m0-5h0m0 4h0m1 1h0m0-5h0m1 6h0m0-1h0m1-1h0m1-3h0m0-1h0m0 4h0m0-2h0m1 1h0m1-3h0m0 4h0m0-2h0m0-1h0m1-1h0m1 2h0m2 5h0m0-1h0m1-5h0m0 3h0m2 1h0m2-5h0m-52 9h0m1 0h0m1 2h0m0-1h0m1 0h0m0-1h0m0-1h0m1 5h0m0-5h0m1 1h0m0-1h0m1 0h0m1 5h0m1 2h0m0-1h0m1-3h0m1-3h0m0 4h0m0 3h0m1-1h0m0-5h0m1 2h0m1 1h0m1-3h0m1 6h0m1-5h0m0 3h0m0-5h0m1 1h0m0 2h0m1-3h0m1 6h0m2 0h0m0-5h0m1 4h0m0-5h0m1 2h0m1-1h0m0 2h0m1 1h0m1 1h0m0 2h0m0-1h0m0-5h0m1 1h0m0 3h0m0-5h0m1 7h0m0-1h0m0-1h0m1-5h0m0 3h0m0 4h0m1-3h0m1 3h0m1-7h0m0 6h0m1-6h0m1 1h0m1 4h0m0-1h0m1 3h0m0-2h0m1-1h0m1-2h0m0 3h0m1-1h0m0 2h0m0-5h0m2 6h0m0-6h0m0 4h0m0-1h0m0-1h0m1 4h0m1-2h0m0-1h0m0 2h0m1-4h0m1-2h0m0 2h0m0 3h0m-37 3h0m2 0h0m1 2h0m3 0h0m0 4h0m1-1h0m1-2h0m0-2h0m1 2h0m0 4h0m0-5h0m0 4h0m1-2h0m1 3h0m0-5h0m0 2h0m1-4h0m0 4h0m0-1h0m0-1h0m0 4h0m1-3h0m0 4h0m1-4h0m0-2h0m1-1h0m0 7h0m1-5h0m1 3h0m1-4h0m0 4h0m1-3h0m0 3h0m0-1h0m1 0h0m0-4h0m1 0h0m0 2h0m1-2h0m1 0h0m0 3h0m0-2h0m1 0h0m0 1h0m1 5h0m0-6h0m2 1h0m0 2h0m1-1h0m0 2h0m0-5h0m0 4h0m1 2h0m1-2h0m0-1h0m0-1h0m1-2h0m0 3h0m0-2h0m1 2h0m-23 5h0m1 0h0m1 1h0m1-1h0m2 0h0m2 0h0m5 1h0m2-1h0m1 0h0m1 1h0m0-1h0m2 1h0" stroke="#d63b47" stroke-width="1.6" stroke-linecap="square" fill="none" transform="scale(0.5)"/>
<path d="M248 742h0m0-2h0m1 3h0m0-1h0m0-5h0m1 4h0m0-1h0m0-1h0m1 1h0m0 3h0m0-2h0m1-2h0m-5 10h0m0-1h0m1-1h0m0 4h0m0-1h0m1 0h0m0-5h0m1 5h0m1 0h0m0-5h0m1 1h0m0-1h0m0-1h0m1 3h0m0 4h0m0-6h0m0 4h0m0-5h0m1 1h0m0 3h0m2-1h0m0 4h0m0-2h0m2 1h0m-11 6h0m0-1h0m0 4h0m0-5h0m0-1h0m1 0h0m0 4h0m0-3h0m0 4h0m1 1h0m0-5h0m1 3h0m0-5h0m0 7h0m1 0h0m0-1h0m0-5h0m0-1h0m1 3h0m0 3h0m0-5h0m0 4h0m1-4h0m1 6h0m0-7h0m0 4h0m0-1h0m1 1h0m0-2h0m0 3h0m1-5h0m0 4h0m0 3h0m0-1h0m0-5h0m1 6h0m0-1h0m0-2h0m0-1h0m1 0h0m0-2h0m1 1h0m0-1h0m1 1h0m0 3h0m1-1h0m0 3h0m0-5h0m0 4h0m1 1h0m0-1h0m0-2h0m1 2h0m1-1h0m1 2h0m1-2h0m0 2h0m-20 2h0m1 5h0m0-1h0m0-5h0m0 4h0m1 3h0m1-3h0m0 2h0m0-1h0m0-5h0m1 2h0m0-2h0m1 5h0m1-3h0m0 4h0m1-4h0m0-1h0m0 4h0m1 2h0m0-5h0m0-2h0m1 1h0m0 4h0m0-3h0m1 3h0m0-2h0m0 4h0m1-5h0m0 3h0m0-5h0m0 4h0m1-2h0m1 5h0m0-5h0m0-1h0m1 5h0m0-6h0m1 5h0m0 2h0m1-5h0m0 4h0m0-5h0m1 4h0m0-2h0m0 3h0m0-5h0m1 5h0m0 1h0m0-5h0m1 2h0m0-3h0m0 4h0m1-4h0m0-1h0m0 3h0m0 4h0m1-5h0m0 3h0m1-2h0m0-1h0m0-1h0m0 4h0m1-4h0m0 6h0m0-5h0m1 0h0m0 2h0m1 1h0m1-1h0m0 3h0m1-1h0m0-2h0m1 1h0m0 2h0m0-1h0m-27 9h0m0-6h0m0 3h0m1-1h0m0-1h0m0-1h0m0-1h0m1 1h0m0 4h0m1-5h0m1 2h0m1-2h0m0 4h0m0 3h0m1-4h0m0-2h0m1 4h0m0-5h0m0 4h0m0 2h0m2-1h0m0-5h0m1 5h0m0-5h0m0 1h0m1 2h0m0-1h0m0 2h0m1-4h0m0 4h0m0 1h0m1 0h0m0-5h0m0 3h0m0 4h0m1-1h0m0-5h0m0-1h0m1 4h0m0-1h0m0-1h0m0-1h0m1 6h0m1 0h0m0-1h0m0-1h0m0-5h0m1 1h0m1 1h0m0 4h0m0-5h0m1 2h0m1 2h0m0-5h0m0 2h0m0 4h0m1-6h0m1 0h0m0 4h0m0-1h0m0-1h0m1-1h0m0 2h0m0 4h0m0-1h0m1-3h0m0 4h0m0-6h0m0-1h0m1 0h0m0 3h0m0 4h0m0-1h0m1 0h0m1-4h0m0 4h0m0-2h0m1 0h0m1-1h0m1 1h0m0 2h0m0-5h0m1 2h0m0 3h0m1-3h0m0-1h0m0-1h0m1 5h0m1-5h0m0 2h0m0 4h0m1-6h0m0 3h0m1-3h0m0 3h0m0 3h0m0-1h0m1-4h0m0 4h0m0-1h0m0-2h0m1 4h0m0-1h0m0-1h0m1-1h0m0 2h0m1 1h0m1-2h0m1-2h0m0 4h0m0-5h0m0-1h0m1 2h0m0-1h0m0 4h0m0-1h0m1-3h0m0 4h0m1-4h0m0 4h0m1 0h0m0-2h0m1-1h0m2-1h0m0-1h0m-49 9h0m0 4h0m1-6h0m1 7h0m0-1h0m1-5h0m1 4h0m0-5h0m0 4h0m0 3h0m1-3h0m0-2h0m0-1h0m1 0h0m0 4h0m0-5h0m0 4h0m1-1h0m0-1h0m0-1h0m1 3h0m0 3h0m1-5h0m0 4h0m0-1h0m0-1h0m0-1h0m1 0h0m1-2h0m0 4h0m0-5h0m0 6h0m1-4h0m0 1h0m1-3h0m1 1h0m0 4h0m0-5h0m0 4h0m1 3h0m0-5h0m0 1h0m1 1h0m0-1h0m0 3h0m0-5h0m0-1h0m1 5h0m1-1h0m0-4h0m2 6h0m0-5h0m1 3h0m0-1h0m0-2h0m1 6h0m1-1h0m0-6h0m1 4h0m0 2h0m1-5h0m0 6h0m1-5h0m0 4h0m0-5h0m1 6h0m0-5h0m1-1h0m0 2h0m1 4h0m1-3h0m0-2h0m0-1h0m1 6h0m0-3h0m0-1h0m1 4h0m0-6h0m0 4h0m1 0h0m0 2h0m1-5h0m1 5h0m0-1h0m0-6h0m1 7h0m0-1h0m0-1h0m1-3h0m0 4h0m0-1h0m0-1h0m1 2h0m0-5h0m2 4h0m0-5h0m0 1h0m1 4h0m0-1h0m0-3h0m1 0h0m0-1h0m0 4h0m0-1h0m-40 6h0m0 4h0m0-2h0m0-1h0m1 5h0m0-3h0m0-1h0m1-1h0m0-2h0m1 6h0m0-6h0m1 1h0m1 5h0m1-5h0m1 2h0m0-1h0m0 4h0m0-2h0m1 1h0m0-5h0m1 7h0m1-1h0m0-6h0m1 0h0m0 4h0m0-2h0m1 0h0m0 4h0m0-6h0m1 2h0m1-1h0m0-1h0m0 4h0m0 2h0m1-5h0m0 3h0m1 0h0m0-3h0m1-1h0m1 6h0m1-1h0m0-2h0m0 4h0m0-5h0m1 0h0m0 3h0m1-2h0m0-1h0m0 4h0m1-3h0m0 4h0m0-5h0m1-1h0m1 2h0m0 2h0m1-4h0m0 4h0m0-1h0m0-1h0m1-2h0m0 3h0m1-4h0m0 2h0m1 3h0m0-2h0m0-1h0m1 2h0m0-4h0m1 2h0m2-1h0m1 0h0m3-1h0m-35 9h0m1 3h0m0-2h0m1 0h0m0-1h0m0-1h0m2 1h0m0 2h0m0-1h0m1-2h0m1 0h0m0 2h0m0-1h0m1 0h0m1 1h0m0-1h0m0-1h0m1 1h0m2 1h0m0-1h0m0-1h0m1 1h0m3-1h0m0 2h0m1-2h0m3 0h0" stroke="#ee5a40" stroke-width="1.6" stroke-linecap="square" fill="none" transform="scale(0.5)"/>
<path d="M225 703h0m2 0h0m1-3h0m2 3h0m0-2h0m1 2h0m-24 7h0m3 1h0m0-2h0m1 1h0m1-2h0m3 2h0m1-4h0m0 3h0m1 1h0m0-3h0m1 4h0m0-2h0m1 1h0m0-1h0m1 0h0m0 2h0m1-7h0m1 7h0m0-5h0m0 4h0m0-5h0m1 2h0m0 4h0m1 0h0m0-1h0m0-5h0m0-1h0m2 3h0m1 0h0m0 4h0m0-5h0m0 3h0m0-5h0m0 4h0m1 0h0m0 3h0m1 0h0m0-6h0m0 4h0m1 0h0m0 2h0m1-6h0m0 5h0m0-3h0m1 0h0m1-2h0m0 4h0m0-1h0m1 3h0m1-4h0m0 1h0m1 3h0m1 0h0m0-1h0m0-1h0m1 2h0m1-1h0m-49 9h0m1 0h0m1-1h0m2 0h0m2-1h0m2 0h0m1 1h0m3-1h0m0-4h0m1 1h0m0 3h0m0-5h0m0 7h0m1-5h0m1 2h0m0-1h0m0-1h0m2-2h0m0 4h0m0-1h0m0 2h0m1 2h0m0-5h0m0 4h0m0-5h0m1 6h0m1-3h0m0-1h0m0 4h0m0-1h0m1-6h0m0 7h0m0-5h0m1 1h0m0 4h0m0-6h0m0-1h0m0 4h0m1 1h0m0-5h0m0 3h0m1-1h0m1 1h0m0-1h0m1 1h0m0-1h0m1 5h0m1-3h0m0-1h0m0 3h0m1-1h0m0-2h0m1 0h0m0 4h0m0-2h0m0-5h0m1 0h0m0 2h0m1 4h0m0-5h0m0 3h0m1 3h0m0-2h0m0-5h0m0 4h0m2-1h0m0 1h0m1-2h0m0 4h0m1-3h0m0-1h0m0 4h0m1 1h0m0-2h0m1 2h0m0-1h0m0-5h0m1-1h0m1 4h0m0-3h0m1-1h0m0 2h0m1 5h0m1-1h0m0-1h0m1-2h0m0-1h0m0 4h0m1 0h0m1-3h0m1 2h0m0-1h0m0-1h0m0 4h0m1-3h0m0-1h0m1 0h0m0 4h0m0-5h0m1 4h0m0-1h0m0 2h0m1-5h0m0 2h0m1 0h0m1 2h0m0-1h0m-61 10h0m1-1h0m1-3h0m2 0h0m0-1h0m0 4h0m0-1h0m1 1h0m0-5h0m1 4h0m0-5h0m1 1h0m0 4h0m1-4h0m0 4h0m0-2h0m1 0h0m0 4h0m0-3h0m1-1h0m0-1h0m0-1h0m0-1h0m2 7h0m0-5h0m0-2h0m1 0h0m1 7h0m1-5h0m0 4h0m0-1h0m1-5h0m1 6h0m0-5h0m1-1h0m0 3h0m1-2h0m0-1h0m0 3h0m2-3h0m0 6h0m1 1h0m0-2h0m0-1h0m1 2h0m0-5h0m1 5h0m1 1h0m0-6h0m0-1h0m1 4h0m0-3h0m1 5h0m0-6h0m0 2h0m1-2h0m1 3h0m0-1h0m0 4h0m1 0h0m0-1h0m0-5h0m1 4h0m0-3h0m0 4h0m1-5h0m0 3h0m1-2h0m0 4h0m1-4h0m1 4h0m0-1h0m1-2h0m0 4h0m0-5h0m1 6h0m0-1h0m0-5h0m1-1h0m0 4h0m0-1h0m2 1h0m1-4h0m0 7h0m1-3h0m0 3h0m0-5h0m1 4h0m0-5h0m0 3h0m1 2h0m0-2h0m0 3h0m1 0h0m0-5h0m0 4h0m0-6h0m1 2h0m0 2h0m1 3h0m0-2h0m0-1h0m1 2h0m0-2h0m1 1h0m0 2h0m0-5h0m1 1h0m0-2h0m0 4h0m1 2h0m0-5h0m0 3h0m1 1h0m2-4h0m1-1h0m1 3h0m0 2h0m2 1h0m0-7h0m1 3h0m0-1h0m0 4h0m0-6h0m1 3h0m2 2h0m1-4h0m0 2h0m1 1h0m0-3h0m1-1h0m0 2h0m1 2h0m0-1h0m1 4h0m1-1h0m0 1h0m1 0h0m-78 8h0m1 0h0m1-3h0m1 1h0m0-1h0m1 1h0m2 2h0m0-7h0m0 4h0m1-1h0m0-2h0m1 4h0m0-2h0m0-1h0m1 2h0m1 0h0m0-3h0m1 4h0m0-5h0m0 4h0m0 3h0m1 0h0m1-1h0m0-2h0m0-2h0m2 4h0m1-6h0m0 4h0m0 2h0m1 1h0m0-1h0m0-5h0m0 3h0m1 0h0m0-1h0m0 3h0m0-1h0m1-5h0m0 2h0m1 0h0m0 3h0m0-5h0m2 5h0m0-1h0m0 3h0m1-4h0m0 2h0m1-4h0m0 4h0m0-5h0m0 7h0m1-2h0m1-4h0m1 3h0m0 3h0m1-6h0m0-1h0m1 2h0m1-2h0m0 3h0m2 1h0m0-2h0m1 4h0m0-5h0m0 4h0m0-1h0m0-1h0m1 0h0m0 1h0m1 2h0m0-5h0m0-1h0m1 7h0m0-3h0m1 0h0m1-1h0m0-1h0m0 4h0m1-3h0m0-1h0m1 2h0m0-1h0m0-1h0m1 2h0m0-2h0m1 5h0m0-6h0m1 5h0m0-2h0m1 0h0m1 2h0m0-2h0m1 0h0m0-1h0m1-3h0m1 2h0m0 2h0m1-1h0m1 4h0m0-6h0m1 2h0m1 3h0m1 0h0m0-1h0m0-5h0m1 1h0m1 2h0m0-2h0m1 1h0m0 4h0m0-5h0m0-1h0m1 7h0m0-5h0m2-2h0m0 3h0m0-1h0m0 4h0m1-3h0m1-2h0m0-1h0m1 0h0m0 4h0m0 3h0m0-1h0m1-4h0m0-2h0m1 5h0m0-5h0m1 4h0m0-1h0m0-1h0m1 5h0m0-7h0m1 7h0m0-6h0m2 1h0m0-2h0m1 5h0m0-5h0m1 5h0m0-1h0m1-3h0m1 4h0m0-1h0m0-2h0m1 0h0m2-1h0m0 1h0m-76 11h0m0-2h0m1-3h0m0 2h0m0-1h0m1 0h0m0-1h0m0 3h0m1 4h0m1-3h0m0 3h0m0-6h0m1 4h0m0-5h0m1 4h0m0-3h0m0 4h0m2-4h0m0 2h0m1-2h0m1 0h0m0 6h0m1-1h0m0-6h0m1 2h0m0 4h0m0-5h0m1 1h0m1 1h0m0-1h0m1 3h0m0-4h0m1 0h0m0-1h0m0 4h0m1 3h0m1-3h0m0 3h0m1 0h0m0-5h0m0 3h0m1-5h0m0 4h0m0 2h0m1-4h0m0-1h0m1 2h0m0 3h0m0-2h0m1-4h0m0 4h0m0-1h0m0 2h0m1 2h0m0-1h0m0-1h0m1-3h0m0-2h0m1 5h0m0 1h0m1-4h0m1-2h0m0 4h0m0 3h0m0-2h0m1-2h0m0 4h0m1 0h0m0-4h0m1 2h0m1-3h0m0-1h0m0 3h0m0-1h0m1-1h0m0 4h0m0-5h0m2 1h0m1 3h0m0-5h0m1 4h0m0 1h0m1-3h0m2-2h0m0 2h0m1-2h0m0 4h0m1-2h0m0-1h0m0 4h0m2 2h0m0-1h0m1 0h0m1 1h0m0-5h0m0-1h0m1 0h0m1 2h0m1-2h0m0-1h0m1 5h0m0-3h0m1 4h0m1-5h0m0 4h0m2 2h0m0-6h0m0 4h0m0-1h0m1-1h0m0 3h0m0-1h0m1 1h0m1-4h0m0 4h0m0-6h0m1 7h0m1-7h0m0 4h0m1-3h0m0 2h0m1-2h0m0 4h0m1 2h0m0-7h0m1 2h0m0-1h0m0 3h0m1-1h0m1-3h0m0 3h0m1 0h0m0 4h0m0-5h0m1 3h0m1-3h0m0-1h0m1 3h0m0-1h0m0 3h0m0-6h0m1 3h0m1 0h0m0 4h0m0-5h0m0-1h0m0 4h0m0-5h0m0 4h0m1-2h0m0-1h0m1-1h0m1 1h0m-74 9h0m0 3h0m1-4h0m0 3h0m1 1h0m1-2h0m0 3h0m0-6h0m1 6h0m0-6h0m0 4h0m1-1h0m0 2h0m1-5h0m0 6h0m0-5h0m1 0h0m0 2h0m0 4h0m1-5h0m1 0h0m1-1h0m2 5h0m0-2h0m1-1h0m0 3h0m1-6h0m0 7h0m1-1h0m1-4h0m0 3h0m1 2h0m0-6h0m1 0h0m1 3h0m1 0h0m0 3h0m2-4h0m0 4h0m0-1h0m0-1h0m0-5h0m1 6h0m2-2h0m0-1h0m0-1h0m0-1h0m1 0h0m0 4h0m0-1h0m0 3h0m0-5h0m1-1h0m0 4h0m1-2h0m0 4h0m1-7h0m0 4h0m0-1h0m1 3h0m1-4h0m1 0h0m1 1h0m0-2h0m0-1h0m1 4h0m0 3h0m1-3h0m1-1h0m1 3h0m0-5h0m0 3h0m0 3h0m1-4h0m0 4h0m0-1h0m0-6h0m1 1h0m1 3h0m0-1h0m1 1h0m0 1h0m0-5h0m1 0h0m0 3h0m1 1h0m0-1h0m0 4h0m0-1h0m1-4h0m0 3h0m1 1h0m0-1h0m0-2h0m0 4h0m1-4h0m0 4h0m0-5h0m0-1h0m0 4h0m0-5h0m1 4h0m0 3h0m0-5h0m3 4h0m0-5h0m0 4h0m0-5h0m0 7h0m1 0h0m0-5h0m0 4h0m0-2h0m1-2h0m2 0h0m0 4h0m0-5h0m0 3h0m1 1h0m1-5h0m0 4h0m0 3h0m0-5h0m1 5h0m0-2h0m1-4h0m0 2h0m0-1h0m1 5h0m0-1h0m0-1h0m1-2h0m0 4h0m0-1h0m0-1h0m1-4h0m0 5h0m1-3h0m0-1h0m0 3h0m1-5h0m0 3h0m1-1h0m2-1h0m0 4h0m0-2h0m1-3h0m0 3h0m1 0h0m1-3h0m1 1h0m0 4h0m0-1h0m1-1h0m1-2h0m-70 10h0m1 3h0m1-4h0m0 3h0m0-5h0m1 5h0m0-2h0m0 4h0m0-1h0m1-5h0m0-1h0m0 4h0m0-1h0m1 0h0m0 4h0m0-1h0m0-5h0m1 2h0m1 4h0m0-6h0m1 5h0m0-1h0m1-3h0m0-1h0m1 5h0m0-1h0m1-2h0m0 4h0m0-5h0m1-1h0m1-1h0m1 7h0m1-6h0m0 2h0m0-1h0m1 4h0m0-5h0m1-1h0m0 7h0m0-5h0m0 4h0m0-5h0m1 6h0m0-3h0m1 2h0m1 0h0m0-1h0m1 2h0m1 0h0m1-5h0m2-1h0m1 6h0m0-5h0m0-1h0m0-1h0m0 4h0m1-2h0m0-2h0m1 4h0m0-1h0m0 4h0m0-1h0m1-3h0m0 3h0m0-6h0m0 4h0m1 3h0m0-2h0m1 2h0m0-1h0m1-4h0m1 1h0m1-1h0m0 4h0m1-5h0m1 2h0m1-1h0m1 0h0m0-2h0m1 0h0m0 3h0m0-2h0m2 4h0m0-1h0m0-1h0m0 3h0m1 1h0m1-2h0m2-4h0m1 1h0m0-1h0m0-1h0m0 4h0m1 1h0m0 1h0m1-3h0m0 1h0m1-4h0m0 1h0m2 2h0m1 1h0m0 3h0m1-1h0m0-1h0m0-1h0m0 3h0m1-6h0m0 4h0m0-1h0m1-1h0m1-2h0m1-1h0m1 1h0m1-1h0m4 0h0m-62 9h0m0-1h0m0 3h0m1-1h0m0 3h0m1-4h0m0-1h0m0 4h0m0-2h0m2 2h0m0-1h0m0 4h0m1 0h0m0-6h0m0 2h0m1 3h0m0-6h0m1 4h0m0-1h0m1 1h0m1 2h0m0-6h0m1 5h0m0-5h0m1 3h0m1 1h0m0-1h0m1 3h0m0-2h0m0-1h0m1-1h0m0-1h0m0-1h0m0 3h0m1-3h0m0 7h0m0-1h0m1-6h0m1 4h0m0 3h0m0-5h0m0-1h0m1 3h0m0-1h0m0 4h0m0-6h0m1 0h0m0 3h0m1-1h0m0-1h0m0-1h0m0 4h0m0-5h0m1 6h0m1 1h0m0-1h0m0-5h0m0 3h0m1 3h0m1-5h0m0 3h0m1-2h0m0 4h0m0-2h0m0-1h0m1 0h0m0 1h0m2-4h0m1-1h0m0 4h0m0 3h0m0-1h0m2-2h0m0 2h0m1-1h0m1-3h0m0 1h0m1 4h0m0-7h0m1 5h0m0-5h0m0 4h0m1 3h0m0-6h0m1 6h0m1-5h0m0-1h0m0 2h0m1 3h0m1-3h0m1 1h0m0-1h0m1-3h0m1 1h0m1 2h0m0 4h0m0-5h0m0 4h0m0-2h0m1 3h0m1 0h0m1-4h0m1-2h0m0 4h0m-44 4h0m0 2h0m1 1h0m0-3h0m0-1h0m2 5h0m0-1h0m1-2h0m0-2h0m1 1h0m1 1h0m0 4h0m0-5h0m0 4h0m0 2h0m1 0h0m0-2h0m0-5h0m1 0h0m0 4h0m0-1h0m0-1h0m1-1h0m0-1h0m0 4h0m1-1h0m0 4h0m0-6h0m0 4h0m1-4h0m0-1h0m1 2h0m0-1h0m1 6h0m1-6h0m0 4h0m0-5h0m1 7h0m0-7h0m1 3h0m1-1h0m0-1h0m0 2h0m0 4h0m1-7h0m1 1h0m0 6h0m1-1h0m0-6h0m1 3h0m0-1h0m0-1h0m0 4h0m1 0h0m0-3h0m1 1h0m0 3h0m0-5h0m0 3h0m1-4h0m0 4h0m1 1h0m0-5h0m0 3h0m1 0h0m0 3h0m1-5h0m0 4h0m0-5h0m0 2h0m1 5h0m0-5h0m3 0h0m0-1h0m0-1h0m2 5h0m0-1h0m0 2h0m3-4h0m0-2h0m1 5h0m0-1h0m1-1h0m1-1h0m1-1h0m1 1h0m1-2h0m-37 8h0m1 0h0m1 1h0m1 2h0m1-3h0m0 2h0m0-1h0m1 0h0m2 0h0m1 4h0m0 2h0m0-5h0m1 4h0m0-1h0m1-5h0m0 4h0m0-1h0m2 0h0m1 2h0m0-1h0m1-3h0m0 3h0m1-4h0m0 4h0m0-2h0m2 1h0m1 1h0m3-4h0m0 1h0m3-1h0m-16 8h0" stroke="#3d8158" stroke-width="1.6" stroke-linecap="square" fill="none" transform="scale(0.5)"/>
<path d="M242 751h0m-9 6h0m1 0h0m2-3h0m1-1h0m0 2h0m0 4h0m1 0h0m0-3h0m1 0h0m0-1h0m1 3h0m0-5h0m0-1h0m1 0h0m1 6h0m1 0h0m0-2h0m0-1h0m1 0h0m1 1h0m1 3h0m0-1h0m0-2h0m-20 11h0m0-1h0m3 0h0m0-1h0m0-2h0m1 1h0m2 3h0m0-5h0m0 4h0m0-5h0m0-1h0m1 7h0m1-1h0m0-1h0m1-2h0m0-3h0m1 5h0m1-3h0m0 5h0m1-1h0m0-5h0m1 0h0m0-1h0m1 2h0m0 3h0m1-5h0m1 6h0m0-3h0m1 3h0m0-1h0m1-5h0m0 4h0m1 2h0m1 0h0m1-4h0m0-2h0m0 4h0m-33 11h0m5-1h0m1-2h0m1-1h0m0 2h0m1 1h0m1-3h0m0 4h0m0-5h0m1 2h0m1-3h0m1 2h0m0-2h0m1 0h0m0 3h0m0-1h0m0-1h0m1 5h0m0-6h0m1-1h0m1 5h0m0-1h0m0 3h0m1-4h0m0-1h0m0 4h0m0-1h0m0-5h0m1 0h0m0 2h0m0-1h0m2 6h0m0-1h0m1-4h0m0-1h0m1 5h0m0-2h0m1 2h0m0-5h0m0 4h0m1-4h0m0-1h0m0 4h0m0-1h0m1-2h0m0 4h0m0-1h0m1 0h0m0-1h0m0 2h0m1 1h0m0-5h0m0-1h0m0 2h0m2 0h0m0 4h0m1 0h0m0-5h0m0 4h0m0-2h0m1 0h0m0 2h0m0-1h0m1-3h0m0-1h0m0 3h0m0-1h0m1 5h0m0-7h0m1 2h0m-40 12h0m1 0h0m1-2h0m1 0h0m0-1h0m2-3h0m1 7h0m0-1h0m0-5h0m2 0h0m2 1h0m0 3h0m1-1h0m1-4h0m0 4h0m0-1h0m0 4h0m1-6h0m0 2h0m1-2h0m0 4h0m1-3h0m0 4h0m0-5h0m0 4h0m1-3h0m0 4h0m0-6h0m1 2h0m1 3h0m0 2h0m1-2h0m0-5h0m0 3h0m2 4h0m1-5h0m0 3h0m1-3h0m0 3h0m1 0h0m2 2h0m0-6h0m1 0h0m0 3h0m0-1h0m1-1h0m0-1h0m0-1h0m0 4h0m1 1h0m0-4h0m1 5h0m0-1h0m1-1h0m0-1h0m0 3h0m1-4h0m2 5h0m0-1h0m0-5h0m1 5h0m0-5h0m1 6h0m1-2h0m1 1h0m0-3h0m1 2h0m1-5h0m0 3h0m1 1h0m-40 6h0m1 0h0m1 1h0m0-3h0m1 3h0m1-2h0m0-1h0m1 6h0m0-1h0m1-2h0m0 4h0m1-5h0m0 3h0m1 1h0m0-5h0m1 3h0m1 3h0m1-2h0m0-5h0m0 4h0m1 3h0m0-5h0m0 3h0m0-2h0m1-1h0m0-2h0m1 6h0m0 1h0m0-5h0m1 3h0m0-5h0m0 4h0m1-2h0m0 4h0m1-1h0m0-1h0m0-1h0m0-1h0m1 1h0m0-1h0m0 4h0m0-1h0m1-5h0m0 2h0m0-1h0m1 3h0m1-4h0m1 6h0m0-6h0m1 2h0m0-1h0m0 4h0m1-3h0m0 4h0m1-4h0m0 3h0m0-5h0m1 7h0m0-6h0m1 2h0m0 4h0m0-1h0m0-1h0m0-5h0m1 7h0m1 0h0m0-1h0m0-5h0m0-1h0m1 5h0m0-4h0m1 2h0m1-1h0m0 4h0m0-6h0m1 1h0m0-1h0m0 4h0m1-2h0m0-1h0m0 4h0m0-5h0m0 4h0m0-1h0m1 0h0m0 3h0m1 1h0m0-5h0m1 2h0m1-2h0m0 4h0m1 0h0m1-6h0m1 6h0m-34 3h0m1 0h0m0-1h0m1 3h0m0-1h0m1 0h0m0-1h0m2 0h0m0-1h0m0 4h0m1-4h0m1 2h0m1 2h0m2-2h0m0-1h0m1 2h0m2-2h0m1 0h0m0 3h0m0-1h0m0-1h0m2 4h0m0-2h0m1 0h0m1-1h0m0-2h0m0 4h0m1-5h0m0 4h0m0-1h0m0-1h0m0 3h0m1-4h0m0 4h0m0-1h0m0-2h0m1 2h0m1-4h0m0 2h0m2 1h0m0-2h0m0 4h0m1-1h0m0-1h0m0-1h0m0 4h0m1-5h0m0 4h0m1-4h0m0 4h0m1 0h0m0-2h0m0-1h0m1 1h0m1-2h0m3 2h0m1-3h0m0 4h0" stroke="#6262ac" stroke-width="1.6" stroke-linecap="square" fill="none" transform="scale(0.5)"/>
<path d="M196 508h0m2 1h0m0-1h0m1 1h0m1 1h0m2 1h0m0-2h0m0-1h0m1 3h0m0-1h0m1 1h0m0-1h0m0-1h0m1 2h0m1-1h0m1 0h0m1 1h0m0-1h0m1 1h0m0-1h0m-5 2h0m1 0h0m1 0h0m1 1h0m0-1h0m1 1h0m0 1h0m1 0h0m0-1h0m0-1h0m1 3h0m0-2h0m0-1h0m1 1h0m0 1h0m1 1h0m0-1h0m0-1h0m0 3h0m1 0h0m0-1h0m0-1h0m1 2h0m1 0h0m0 2h0m0-1h0m1 1h0m0-1h0m0 2h0m1 0h0m0-2h0m1 2h0m0-1h0m1 1h0m0 3h0m0-1h0m0-1h0m1 0h0m0 2h0m1-1h0m0 3h0m1-2h0m0 2h0m1 1h0m0-1h0m0-1h0m1 3h0m0-4h0m0 3h0m0-1h0m0-1h0m1 1h0m1 3h0m0-1h0m1 0h0m-1 2h0m1 3h0m0-1h0m0-1h0m0-1h0m1 5h0m0-5h0m0 3h0m0-1h0m0-1h0m1 1h0m0-1h0m0 4h0m0-5h0m0 3h0m1 1h0m0-1h0m0 4h0m0-1h0m0-1h0m1 1h0m0-1h0m0-1h0m0 3h0m1-2h0m1 2h0m0-1h0m1 1h0m0-1h0m-4 3h0m0-1h0m1 2h0m0-1h0m0-1h0m0 4h0m1 3h0m0-5h0m0 4h0m0-5h0m0 4h0m0-5h0m0 4h0m1-3h0m0 4h0m0-5h0m0 4h0m0-1h0m0 4h0m1-4h0m0 4h0m0-5h0m0 4h0m0-5h0m0 4h0m0-5h0m0 4h0m1 0h0m0-1h0m0 4h0m0-5h0m0 4h0m0-5h0m0 4h0m1 1h0m0-2h0m0-1h0m0 4h0m1 0h0m0-1h0m0-1h0m0-1h0m1 0h0m0 3h0m0-1h0m-5 4h0m0 4h0m0-1h0m0-5h0m0 4h0m0-1h0m1 2h0m0-5h0m0 3h0m0 4h0m0-5h0m0 4h0m1-5h0m0-1h0m0 4h0m0-1h0m0 4h0m0-5h0m0 4h0m1 1h0m0-1h0m0-5h0m0 4h0m0-1h0m0-1h0m1 2h0m0-5h0m0 3h0m0 4h0m0-1h0m0-5h0m1 6h0m0-5h0m0 4h0m0-1h0m0-2h0m1 4h0m0-5h0m0-1h0m0 4h0m0-5h0m0 4h0m1 0h0m0-1h0m0 4h0m0-5h0m0 4h0m0-5h0m0-1h0m1 7h0m0-1h0m0-5h0m0 4h0m0-1h0m1 0h0m0 3h0m0-5h0m0 4h0m0-1h0m1-1h0m0-1h0m0 4h0m0-1h0m0-1h0m1 2h0m0-2h0m1 2h0m-11 2h0m0 4h0m0-5h0m0 4h0m0-1h0m0-1h0m1 0h0m0 4h0m0-1h0m0-5h0m0 4h0m1 0h0m0-1h0m0-2h0m0 4h0m0-5h0m1 6h0m0-5h0m0 4h0m0-5h0m0 4h0m0 3h0m0-5h0m1 2h0m0-1h0m0 4h0m0-6h0m0 4h0m0-5h0m1 7h0m0-5h0m0 4h0m0-5h0m0-1h0m0 4h0m1 2h0m0-5h0m0-1h0m0 3h0m0 4h0m0-5h0m1 1h0m0 4h0m0-1h0m0-5h0m1 0h0m0 4h0m0-5h0m0 4h0m0-1h0m0 4h0m0-5h0m0 4h0m1 0h0m0-1h0m0-5h0m0 4h0m0-1h0m0-1h0m1 1h0m0-2h0m0 4h0m0-1h0m1 2h0m0-5h0m0 4h0m0-5h0m0 4h0m0-1h0m0 4h0m0-5h0m1 1h0m0 4h0m0-5h0m0 4h0m0-1h0m0-1h0m1 0h0m0 3h0m0-1h0m0-1h0m1 1h0m0 1h0m-5 1h0m3 0h0m1 0h0m1 1h0m1-1h0m0 1h0m1 0h0m0 1h0" stroke="#c59dc6" stroke-width="1.6" stroke-linecap="square" fill="none" transform="scale(0.5)"/>
<path d="M228 567h0m0-1h0m2 0h0m2 1h0m1-5h0m2 3h0m2 0h0m1 0h0m1 2h0m1-1h0m0-1h0m0-1h0m0-1h0m1 3h0m1-3h0m0 4h0m1-2h0m1 1h0m1-3h0m3 4h0m1-4h0m0 4h0m1-2h0m0-2h0m-26 11h0m1 0h0m1-1h0m2 1h0m1-3h0m0 4h0m1-3h0m0 3h0m2-6h0m0-1h0m1 0h0m1 4h0m0 2h0m2 1h0m0-5h0m0-1h0m0 2h0m1 4h0m1-2h0m0-5h0m0 7h0m0-5h0m1 4h0m0-6h0m1 3h0m0-1h0m0-1h0m1 2h0m2-1h0m0 4h0m1-4h0m1-2h0m2 7h0m0-1h0m0-6h0m1 3h0m0-3h0m1 6h0m1 0h0m1-3h0m-29 12h0m0-1h0m1-4h0m0 3h0m1 0h0m1-3h0m0-2h0m1 1h0m1 5h0m0-5h0m0 6h0m1 0h0m1-7h0m2 6h0m1-6h0m0 4h0m1 3h0m0-6h0m0-1h0m1 3h0m0 4h0m1-7h0m0 3h0m2 1h0m1-1h0m1 0h0m0-2h0m0-1h0m1 5h0m0-1h0m1-1h0m0-3h0m2 5h0m0 2h0m0-5h0m1 4h0m0-5h0m0 3h0m1 0h0m1-3h0m0 6h0m0-5h0m2 4h0m0-5h0m1 5h0m0-5h0m1 3h0m0-2h0m0 3h0m1 1h0m1 0h0m0-1h0m-29 4h0m1 1h0m0 3h0m1 0h0m0 2h0m0-1h0m0-5h0m1 5h0m0-3h0m1-3h0m1 7h0m0-5h0m1 0h0m0-2h0m1 2h0m1 1h0m1 1h0m1-4h0m0 3h0m0 4h0m0-5h0m1 3h0m1-4h0m0 2h0m1 2h0m0-5h0m0 7h0m1-7h0m1 2h0m1 3h0m0-5h0m1 2h0m0 2h0m1 3h0m1-4h0m0-1h0m1-2h0m1 6h0m2 1h0m0-1h0m1-1h0m0-3h0m1 3h0m2-3h0m2 4h0m0-6h0m1 1h0m0 2h0m-28 6h0m0 4h0m0-5h0m1 1h0m0-1h0m1 4h0m1 1h0m0-1h0m1 3h0m0-5h0m2-2h0m2 6h0m0-5h0m1 0h0m0 4h0m0-2h0m1-2h0m1 6h0m2-3h0m0 2h0m1-1h0m0-2h0m0 4h0m1 0h0m1-2h0m0-5h0m0 6h0m1-6h0m0 3h0m1 4h0m0-1h0m1-6h0m0 7h0m1-4h0m0-3h0m1 7h0m0-6h0m0 4h0m1-4h0m0 3h0m1 3h0m0-5h0m0 3h0m1-5h0m0 1h0m1 5h0m0-5h0m0 4h0m1-1h0m0-3h0m1 0h0m0-1h0m0 2h0m1 3h0m0-5h0m0 3h0m-26 6h0m0 3h0m0 2h0m1-3h0m0 4h0m0-6h0m0-1h0m1 3h0m0-2h0m2 5h0m0-5h0m1 5h0m1 0h0m1-3h0m1-1h0m1 0h0m2 2h0m0-1h0m1 0h0m0-2h0m1-1h0m0 2h0m2 5h0m0-3h0m1 2h0m1-3h0m0-1h0m0-2h0m0 4h0m1-1h0m1-2h0m0 6h0m0-5h0m2 3h0m1 1h0m1 1h0m0-3h0m1 2h0m2-3h0m0 3h0m1-1h0m0-5h0m0 3h0m-28 10h0m1-3h0m1 4h0m0-5h0m0 4h0m1-4h0m0-1h0m0 4h0m1 2h0m1-2h0m0-2h0m0 4h0m0-1h0m0-5h0m1 2h0m0 4h0m1 0h0m1-2h0m0-1h0m1-2h0m0-1h0m0 3h0m1 1h0m0-2h0m1-2h0m1 5h0m1 0h0m0-5h0m1 4h0m1-1h0m1-2h0m1 5h0m0-1h0m0-1h0m1-1h0m0 4h0m0-7h0m1 5h0m1-3h0m1-2h0m0 1h0m1 4h0m0 2h0m0-1h0m1 0h0m1-3h0m0 4h0m0-6h0m1 3h0m1-2h0m1 0h0m0-1h0m-38 12h0m3 1h0m1 1h0m2-3h0m5-4h0m1 3h0m0 3h0m1-1h0m0-5h0m1 7h0m0-3h0m1-4h0m1 0h0m1 3h0m0-1h0m0-1h0m0 4h0m1-2h0m0 4h0m0-5h0m1 0h0m1 4h0m1-3h0m0 4h0m1-5h0m0 2h0m0 3h0m1-5h0m0 3h0m0-5h0m0 4h0m1 2h0m0-1h0m1-1h0m1-2h0m0 4h0m0-5h0m2 6h0m0-1h0m1-4h0m1 4h0m0 1h0m1 0h0m0-6h0m1 4h0m0 2h0m1-2h0m1 1h0m0-1h0m5 2h0m-44 3h0m1 2h0m0 3h0m1-6h0m2 5h0m1 0h0m2-3h0m5 1h0m0-2h0m0 4h0m4-3h0m0-1h0m1 4h0m1-4h0m0 4h0m0-1h0m0-5h0m2 1h0m0 4h0m0-1h0m0 3h0m0-1h0m1 1h0m0-1h0m0-6h0m0 4h0m0-1h0m1-3h0m0 4h0m0-1h0m0-1h0m0 4h0m1-6h0m0 7h0m0-5h0m1 3h0m0-5h0m0 4h0m1 1h0m0 1h0m0-5h0m1 5h0m2 1h0m0-5h0m0 4h0m1-4h0m0 1h0m3 4h0m0-1h0m0-2h0m1 3h0m1-6h0m0 2h0m0-1h0m8-1h0m0 5h0m2-4h0m1 3h0m-58 10h0m5-1h0m2-1h0m1 0h0m5-5h0m0 1h0m1 5h0m1-3h0m0 4h0m0-5h0m1 2h0m5-1h0m1-2h0m4 3h0m1-4h0m1 6h0m2 0h0m0-3h0m1 0h0m0-2h0m0-1h0m2 0h0m1 3h0m1 2h0m0-5h0m0 4h0m1 0h0m1 3h0m0-6h0m1-1h0m0 3h0m1 0h0m1 1h0m0 3h0m1-5h0m0 2h0m0-1h0m2 2h0m1 0h0m1-4h0m1 1h0m1 3h0m1-5h0m1 7h0m0-2h0m0-2h0m1 1h0m1 2h0m1-4h0m0-1h0m0 2h0m1 4h0m0-2h0m1-1h0m1-4h0m2 1h0m1 5h0m-63 9h0m12-1h0m0-3h0m1-1h0m1 0h0m3 4h0m0-5h0m1 2h0m1 4h0m1-4h0m0-1h0m1 0h0m2 2h0m1 3h0m0-6h0m0 3h0m2 0h0m2-4h0m1 2h0m1 4h0m4-6h0m1 3h0m0-1h0m1 0h0m1-1h0m0 4h0m0-5h0m0 3h0m3 1h0m1-3h0m2 4h0m2-1h0m0 3h0m2-6h0m0 5h0m3 0h0m1-2h0m1-1h0m2 3h0m0-2h0m1-3h0m1 2h0m0-1h0m1-2h0m2 2h0m0 4h0m1-5h0m2 1h0m2 5h0m-64 8h0m6-3h0m11-4h0m1 3h0m0-3h0m4 0h0m1 1h0m1 6h0m0-5h0m2-1h0m1 2h0m0-1h0m0 4h0m1-2h0m2-1h0m3 1h0m2-4h0m1 2h0m4 2h0m3-1h0m3 0h0m1 3h0m2-5h0m3 2h0m0-1h0m0 3h0m6-4h0m2 3h0m1-3h0m2 0h0m-62 11h0m2-3h0m0 3h0m32-4h0m18 7h0m0-3h0m-51 4h0m8 3h0m11 2h0m0-5h0m1 2h0m2 0h0m3 2h0m3 0h0m4-3h0m3 3h0m0 3h0m2-7h0m5 3h0m2 4h0m5-7h0m2 7h0m1-1h0" stroke="#35b58b" stroke-width="1.6" stroke-linecap="square" fill="none" transform="scale(0.5)"/>
<text x="110" y="275.6" font-size="9.4" text-anchor="middle" fill="#111">12</text>
<text x="124.4" y="296" font-size="9.4" text-anchor="middle" fill="#111">6</text>
<text x="14.9" y="360.2" font-size="9.4" text-anchor="middle" fill="#111">9</text>
<text x="27.8" y="353.7" font-size="9.4" text-anchor="middle" fill="#111">8</text>
<text x="45.9" y="352" font-size="9.4" text-anchor="middle" fill="#111">2</text>
<text x="77.4" y="358.7" font-size="9.4" text-anchor="middle" fill="#111">11</text>
<text x="73.2" y="327.2" font-size="9.4" text-anchor="middle" fill="#111">7</text>
<text x="135.3" y="353.7" font-size="9.4" text-anchor="middle" fill="#111">3</text>
<text x="141" y="374.3" font-size="9.4" text-anchor="middle" fill="#111">1</text>
<text x="136.5" y="383" font-size="9.4" text-anchor="middle" fill="#111">5</text>
<text x="101.3" y="381" font-size="9.4" text-anchor="middle" fill="#111">4</text>
<text x="124.1" y="387.5" font-size="9.4" text-anchor="middle" fill="#111">10</text>
<rect x="23.6" y="285.2" width="67.4" height="14.2" fill="none" stroke="#3a9a7e" stroke-width="1.1" stroke-dasharray="3,2"/>
<text x="22.6" y="296.2" font-size="10.9">Target cluster</text>
<text x="26.2" y="323.6" font-size="10.7">Other cluster</text>
<text x="173.5" y="247.5" font-size="22" font-weight="bold">d</text>
<rect x="269.60" y="253.20" width="27.06" height="12.80" fill="#c59dc6"/>
<rect x="296.36" y="253.20" width="1.74" height="12.80" fill="#2f7ab8"/>
<rect x="297.81" y="253.20" width="100.27" height="12.80" fill="#35b58b"/>
<rect x="397.78" y="253.20" width="1.22" height="12.80" fill="#ee5a40"/>
<rect x="398.70" y="253.20" width="1.35" height="12.80" fill="#f2ab3b"/>
<rect x="399.75" y="253.20" width="1.35" height="12.80" fill="#8db84e"/>
<text x="257.6" y="262.3" font-size="10.8" text-anchor="end">PfM-KD(-/-)_0h</text>
<line x1="260.5" y1="259.60" x2="262.5" y2="259.60" stroke="#333" stroke-width="0.6"/>
<rect x="269.60" y="267.47" width="6.47" height="12.80" fill="#7c69aa"/>
<rect x="275.77" y="267.47" width="2.27" height="12.80" fill="#3496cf"/>
<rect x="277.73" y="267.47" width="22.34" height="12.80" fill="#2f7ab8"/>
<rect x="299.78" y="267.47" width="39.66" height="12.80" fill="#35b4b4"/>
<rect x="339.14" y="267.47" width="1.61" height="12.80" fill="#3d8158"/>
<rect x="340.45" y="267.47" width="1.35" height="12.80" fill="#d63b47"/>
<rect x="341.50" y="267.47" width="1.48" height="12.80" fill="#f2ab3b"/>
<rect x="342.68" y="267.47" width="57.37" height="12.80" fill="#8db84e"/>
<rect x="399.75" y="267.47" width="1.35" height="12.80" fill="#d63b47"/>
<text x="257.6" y="276.57" font-size="10.8" text-anchor="end">PfM-KD(-/-)_6h</text>
<line x1="260.5" y1="273.87" x2="262.5" y2="273.87" stroke="#333" stroke-width="0.6"/>
<rect x="269.60" y="281.74" width="2.53" height="12.80" fill="#7c69aa"/>
<rect x="271.83" y="281.74" width="68.00" height="12.80" fill="#3496cf"/>
<rect x="339.53" y="281.74" width="40.18" height="12.80" fill="#2f7ab8"/>
<rect x="379.41" y="281.74" width="3.32" height="12.80" fill="#35b4b4"/>
<rect x="382.43" y="281.74" width="1.61" height="12.80" fill="#3d8158"/>
<rect x="383.74" y="281.74" width="1.35" height="12.80" fill="#d63b47"/>
<rect x="384.79" y="281.74" width="1.35" height="12.80" fill="#f2ab3b"/>
<rect x="385.84" y="281.74" width="14.21" height="12.80" fill="#8db84e"/>
<rect x="399.75" y="281.74" width="1.35" height="12.80" fill="#d63b47"/>
<text x="257.6" y="290.84000000000003" font-size="10.8" text-anchor="end">PfM-KD(-/-)_9h</text>
<line x1="260.5" y1="288.14" x2="262.5" y2="288.14" stroke="#333" stroke-width="0.6"/>
<rect x="269.60" y="296.01" width="15.78" height="12.80" fill="#7c69aa"/>
<rect x="285.08" y="296.01" width="12.63" height="12.80" fill="#5f5fa8"/>
<rect x="297.41" y="296.01" width="7.78" height="12.80" fill="#35b4b4"/>
<rect x="304.89" y="296.01" width="17.62" height="12.80" fill="#ee5a40"/>
<rect x="322.21" y="296.01" width="23.78" height="12.80" fill="#3d8158"/>
<rect x="345.70" y="296.01" width="23.39" height="12.80" fill="#f2ab3b"/>
<rect x="368.79" y="296.01" width="3.71" height="12.80" fill="#8db84e"/>
<rect x="372.20" y="296.01" width="28.90" height="12.80" fill="#d63b47"/>
<text x="257.6" y="305.11" font-size="10.8" text-anchor="end">PfM-KD(-/+)_6h</text>
<line x1="260.5" y1="302.41" x2="262.5" y2="302.41" stroke="#333" stroke-width="0.6"/>
<rect x="269.60" y="310.28" width="8.43" height="12.80" fill="#7c69aa"/>
<rect x="277.73" y="310.28" width="24.05" height="12.80" fill="#5f5fa8"/>
<rect x="301.48" y="310.28" width="1.61" height="12.80" fill="#3496cf"/>
<rect x="302.79" y="310.28" width="2.40" height="12.80" fill="#35b4b4"/>
<rect x="304.89" y="310.28" width="30.61" height="12.80" fill="#ee5a40"/>
<rect x="335.20" y="310.28" width="21.03" height="12.80" fill="#3d8158"/>
<rect x="355.93" y="310.28" width="9.48" height="12.80" fill="#f2ab3b"/>
<rect x="365.11" y="310.28" width="8.04" height="12.80" fill="#8db84e"/>
<rect x="372.85" y="310.28" width="28.25" height="12.80" fill="#d63b47"/>
<text x="257.6" y="319.38" font-size="10.8" text-anchor="end">PfM-KD(-/+)_9h</text>
<line x1="260.5" y1="316.68" x2="262.5" y2="316.68" stroke="#333" stroke-width="0.6"/>
<rect x="269.60" y="324.55" width="59.08" height="12.80" fill="#c59dc6"/>
<rect x="328.38" y="324.55" width="70.62" height="12.80" fill="#35b58b"/>
<rect x="398.70" y="324.55" width="1.35" height="12.80" fill="#ee5a40"/>
<rect x="399.75" y="324.55" width="1.35" height="12.80" fill="#f2ab3b"/>
<text x="257.6" y="333.65" font-size="10.8" text-anchor="end">PfM-KD(+/-)_0h</text>
<line x1="260.5" y1="330.95" x2="262.5" y2="330.95" stroke="#333" stroke-width="0.6"/>
<rect x="269.60" y="338.82" width="16.57" height="12.80" fill="#7c69aa"/>
<rect x="285.87" y="338.82" width="4.50" height="12.80" fill="#2f7ab8"/>
<rect x="290.07" y="338.82" width="60.00" height="12.80" fill="#35b4b4"/>
<rect x="349.76" y="338.82" width="4.37" height="12.80" fill="#35b58b"/>
<rect x="353.83" y="338.82" width="1.87" height="12.80" fill="#3d8158"/>
<rect x="355.40" y="338.82" width="1.87" height="12.80" fill="#d63b47"/>
<rect x="356.98" y="338.82" width="3.71" height="12.80" fill="#f2ab3b"/>
<rect x="360.39" y="338.82" width="39.66" height="12.80" fill="#8db84e"/>
<rect x="399.75" y="338.82" width="1.35" height="12.80" fill="#d63b47"/>
<text x="257.6" y="347.92" font-size="10.8" text-anchor="end">PfM-KD(+/-)_6h</text>
<line x1="260.5" y1="345.22" x2="262.5" y2="345.22" stroke="#333" stroke-width="0.6"/>
<rect x="269.60" y="353.09" width="7.65" height="12.80" fill="#7c69aa"/>
<rect x="276.95" y="353.09" width="22.08" height="12.80" fill="#3496cf"/>
<rect x="298.73" y="353.09" width="36.51" height="12.80" fill="#2f7ab8"/>
<rect x="334.94" y="353.09" width="4.89" height="12.80" fill="#35b4b4"/>
<rect x="339.53" y="353.09" width="1.87" height="12.80" fill="#ee5a40"/>
<rect x="341.10" y="353.09" width="2.01" height="12.80" fill="#3d8158"/>
<rect x="342.81" y="353.09" width="1.87" height="12.80" fill="#f2ab3b"/>
<rect x="344.38" y="353.09" width="55.67" height="12.80" fill="#8db84e"/>
<rect x="399.75" y="353.09" width="1.35" height="12.80" fill="#d63b47"/>
<text x="257.6" y="362.19" font-size="10.8" text-anchor="end">PfM-KD(+/-)_9h</text>
<line x1="260.5" y1="359.49" x2="262.5" y2="359.49" stroke="#333" stroke-width="0.6"/>
<rect x="269.60" y="367.36" width="15.26" height="12.80" fill="#7c69aa"/>
<rect x="284.56" y="367.36" width="6.73" height="12.80" fill="#5f5fa8"/>
<rect x="290.99" y="367.36" width="4.63" height="12.80" fill="#35b4b4"/>
<rect x="295.32" y="367.36" width="4.37" height="12.80" fill="#35b58b"/>
<rect x="299.38" y="367.36" width="9.88" height="12.80" fill="#ee5a40"/>
<rect x="308.96" y="367.36" width="29.30" height="12.80" fill="#3d8158"/>
<rect x="337.96" y="367.36" width="38.22" height="12.80" fill="#f2ab3b"/>
<rect x="375.87" y="367.36" width="2.40" height="12.80" fill="#8db84e"/>
<rect x="377.97" y="367.36" width="23.13" height="12.80" fill="#d63b47"/>
<text x="257.6" y="376.46000000000004" font-size="10.8" text-anchor="end">PfM-KD(+/+)_6h</text>
<line x1="260.5" y1="373.76" x2="262.5" y2="373.76" stroke="#333" stroke-width="0.6"/>
<rect x="269.60" y="381.63" width="6.07" height="12.80" fill="#7c69aa"/>
<rect x="275.37" y="381.63" width="19.59" height="12.80" fill="#5f5fa8"/>
<rect x="294.66" y="381.63" width="1.87" height="12.80" fill="#3496cf"/>
<rect x="296.23" y="381.63" width="1.87" height="12.80" fill="#35b4b4"/>
<rect x="297.81" y="381.63" width="24.31" height="12.80" fill="#ee5a40"/>
<rect x="321.82" y="381.63" width="19.46" height="12.80" fill="#3d8158"/>
<rect x="340.97" y="381.63" width="22.74" height="12.80" fill="#f2ab3b"/>
<rect x="363.41" y="381.63" width="3.97" height="12.80" fill="#8db84e"/>
<rect x="367.08" y="381.63" width="34.02" height="12.80" fill="#d63b47"/>
<text x="257.6" y="390.73" font-size="10.8" text-anchor="end">PfM-KD(+/+)_9h</text>
<line x1="260.5" y1="388.03" x2="262.5" y2="388.03" stroke="#333" stroke-width="0.6"/>
<line x1="262.8" y1="251" x2="262.8" y2="397.2" stroke="#000" stroke-width="1.3"/>
<line x1="262.2" y1="396.6" x2="403" y2="396.6" stroke="#000" stroke-width="1.3"/>
<line x1="269.60" y1="396.6" x2="269.60" y2="399" stroke="#333" stroke-width="0.6"/>
<text x="269.6" y="408" font-size="10.5" text-anchor="middle">0</text>
<line x1="302.40" y1="396.6" x2="302.40" y2="399" stroke="#333" stroke-width="0.6"/>
<text x="302.4" y="408" font-size="10.5" text-anchor="middle">25</text>
<line x1="335.20" y1="396.6" x2="335.20" y2="399" stroke="#333" stroke-width="0.6"/>
<text x="335.2" y="408" font-size="10.5" text-anchor="middle">50</text>
<line x1="368.00" y1="396.6" x2="368.00" y2="399" stroke="#333" stroke-width="0.6"/>
<text x="368.0" y="408" font-size="10.5" text-anchor="middle">75</text>
<line x1="400.80" y1="396.6" x2="400.80" y2="399" stroke="#333" stroke-width="0.6"/>
<text x="400.8" y="408" font-size="10.5" text-anchor="middle">100</text>
<text x="403.6" y="265" font-size="10.6">Cluster</text>
<rect x="414.00" y="271.30" width="9.00" height="8.50" fill="#d63b47"/>
<text x="424.6" y="280.5" font-size="10.5">1</text>
<rect x="414.00" y="280.96" width="9.00" height="8.50" fill="#8db84e"/>
<text x="424.6" y="290.16" font-size="10.5">2</text>
<rect x="414.00" y="290.62" width="9.00" height="8.50" fill="#f2ab3b"/>
<text x="424.6" y="299.82" font-size="10.5">3</text>
<rect x="414.00" y="300.28" width="9.00" height="8.50" fill="#3d8158"/>
<text x="424.6" y="309.48" font-size="10.5">4</text>
<rect x="414.00" y="309.94" width="9.00" height="8.50" fill="#ee5a40"/>
<text x="424.6" y="319.14" font-size="10.5">5</text>
<rect x="414.00" y="319.60" width="9.00" height="8.50" fill="#35b58b"/>
<text x="424.6" y="328.8" font-size="10.5">6</text>
<rect x="414.00" y="329.26" width="9.00" height="8.50" fill="#35b4b4"/>
<text x="424.6" y="338.46" font-size="10.5">7</text>
<rect x="414.00" y="338.92" width="9.00" height="8.50" fill="#2f7ab8"/>
<text x="424.6" y="348.12" font-size="10.5">8</text>
<rect x="414.00" y="348.58" width="9.00" height="8.50" fill="#3496cf"/>
<text x="424.6" y="357.78000000000003" font-size="10.5">9</text>
<rect x="414.00" y="358.24" width="9.00" height="8.50" fill="#5f5fa8"/>
<text x="424.6" y="367.44" font-size="10.5">10</text>
<rect x="414.00" y="367.90" width="9.00" height="8.50" fill="#7c69aa"/>
<text x="424.6" y="377.09999999999997" font-size="10.5">11</text>
<rect x="414.00" y="377.56" width="9.00" height="8.50" fill="#c59dc6"/>
<text x="424.6" y="386.76" font-size="10.5">12</text>
<text x="458.8" y="248.2" font-size="22" font-weight="bold">e</text>
<rect x="493.00" y="260.84" width="7.00" height="122.76" fill="#6a55a0"/>
<rect x="500.00" y="339.60" width="7.00" height="44.00" fill="#4a83ad"/>
<line x1="500" y1="389.6" x2="500" y2="392" stroke="#333" stroke-width="0.6"/>
<text x="500" y="401.6" font-size="10.5" text-anchor="middle">6</text>
<rect x="509.00" y="275.80" width="7.00" height="107.80" fill="#6a55a0"/>
<rect x="516.00" y="339.60" width="7.00" height="44.00" fill="#4a83ad"/>
<line x1="516" y1="389.6" x2="516" y2="392" stroke="#333" stroke-width="0.6"/>
<text x="516" y="401.6" font-size="10.5" text-anchor="middle">12</text>
<rect x="525.00" y="300.00" width="7.00" height="83.60" fill="#6a55a0"/>
<rect x="532.00" y="339.60" width="7.00" height="44.00" fill="#4a83ad"/>
<line x1="532" y1="389.6" x2="532" y2="392" stroke="#333" stroke-width="0.6"/>
<text x="532" y="401.6" font-size="10.5" text-anchor="middle">9</text>
<rect x="541.00" y="310.56" width="7.00" height="73.04" fill="#6a55a0"/>
<rect x="548.00" y="339.60" width="7.00" height="44.00" fill="#4a83ad"/>
<line x1="548" y1="389.6" x2="548" y2="392" stroke="#333" stroke-width="0.6"/>
<text x="548" y="401.6" font-size="10.5" text-anchor="middle">3</text>
<rect x="557.00" y="328.60" width="7.00" height="55.00" fill="#6a55a0"/>
<rect x="564.00" y="339.60" width="7.00" height="44.00" fill="#4a83ad"/>
<line x1="564" y1="389.6" x2="564" y2="392" stroke="#333" stroke-width="0.6"/>
<text x="564" y="401.6" font-size="10.5" text-anchor="middle">4</text>
<rect x="573.00" y="343.56" width="7.00" height="40.04" fill="#6a55a0"/>
<rect x="580.00" y="339.60" width="7.00" height="44.00" fill="#4a83ad"/>
<line x1="580" y1="389.6" x2="580" y2="392" stroke="#333" stroke-width="0.6"/>
<text x="580" y="401.6" font-size="10.5" text-anchor="middle">11</text>
<rect x="589.00" y="347.96" width="7.00" height="35.64" fill="#6a55a0"/>
<rect x="596.00" y="339.60" width="7.00" height="44.00" fill="#4a83ad"/>
<line x1="596" y1="389.6" x2="596" y2="392" stroke="#333" stroke-width="0.6"/>
<text x="596" y="401.6" font-size="10.5" text-anchor="middle">1</text>
<rect x="605.00" y="348.84" width="7.00" height="34.76" fill="#6a55a0"/>
<rect x="612.00" y="339.60" width="7.00" height="44.00" fill="#4a83ad"/>
<line x1="612" y1="389.6" x2="612" y2="392" stroke="#333" stroke-width="0.6"/>
<text x="612" y="401.6" font-size="10.5" text-anchor="middle">8</text>
<rect x="621.00" y="352.80" width="7.00" height="30.80" fill="#6a55a0"/>
<rect x="628.00" y="339.60" width="7.00" height="44.00" fill="#4a83ad"/>
<line x1="628" y1="389.6" x2="628" y2="392" stroke="#333" stroke-width="0.6"/>
<text x="628" y="401.6" font-size="10.5" text-anchor="middle">7</text>
<rect x="637.00" y="357.64" width="7.00" height="25.96" fill="#6a55a0"/>
<rect x="644.00" y="339.60" width="7.00" height="44.00" fill="#4a83ad"/>
<line x1="644" y1="389.6" x2="644" y2="392" stroke="#333" stroke-width="0.6"/>
<text x="644" y="401.6" font-size="10.5" text-anchor="middle">2</text>
<rect x="653.00" y="358.96" width="7.00" height="24.64" fill="#6a55a0"/>
<rect x="660.00" y="339.60" width="7.00" height="44.00" fill="#4a83ad"/>
<line x1="660" y1="389.6" x2="660" y2="392" stroke="#333" stroke-width="0.6"/>
<text x="660" y="401.6" font-size="10.5" text-anchor="middle">5</text>
<rect x="669.00" y="359.84" width="7.00" height="23.76" fill="#6a55a0"/>
<rect x="676.00" y="339.60" width="7.00" height="44.00" fill="#4a83ad"/>
<line x1="676" y1="389.6" x2="676" y2="392" stroke="#333" stroke-width="0.6"/>
<text x="676" y="401.6" font-size="10.5" text-anchor="middle">10</text>
<line x1="491" y1="339.6" x2="685" y2="339.6" stroke="#000" stroke-width="1.2" stroke-dasharray="4.2,2.6"/>
<line x1="490.8" y1="255" x2="490.8" y2="390.2" stroke="#000" stroke-width="1.3"/>
<line x1="490.2" y1="389.6" x2="685" y2="389.6" stroke="#000" stroke-width="1.3"/>
<line x1="488.5" y1="383.6" x2="490.8" y2="383.6" stroke="#333" stroke-width="0.6"/>
<text x="487.4" y="387.40000000000003" font-size="10.5" text-anchor="end">0</text>
<line x1="488.5" y1="339.6" x2="490.8" y2="339.6" stroke="#333" stroke-width="0.6"/>
<text x="487.4" y="343.40000000000003" font-size="10.5" text-anchor="end">1</text>
<line x1="488.5" y1="295.6" x2="490.8" y2="295.6" stroke="#333" stroke-width="0.6"/>
<text x="487.4" y="299.40000000000003" font-size="10.5" text-anchor="end">2</text>
<text x="0" y="0" font-size="10.8" text-anchor="middle" transform="translate(477.6,324.8) rotate(-90)">Normalized Cluster Ratio</text>
<rect x="577.00" y="260.40" width="9.60" height="9.60" fill="#6a55a0"/>
<rect x="577.00" y="275.00" width="9.60" height="9.60" fill="#4a83ad"/>
<text x="592.4" y="269.2" font-size="10.8">PfM-KD(+/+)_6h</text>
<text x="592.4" y="283.8" font-size="10.8">PfM-KD(-/+)_6h</text>
<text x="5.2" y="427.4" font-size="22" font-weight="bold">f</text>
<text x="43.6" y="446" font-size="10.8" fill="#5b4fa0">PfM-KD(+/+)_6h</text>
<text x="134.3" y="446" font-size="10.8" fill="#4a7ead">PfM-KD(-/+)_6h</text>
<circle cx="107.2" cy="517.8" r="64.1" fill="#c8c3dc"/>
<circle cx="156" cy="517.5" r="47" fill="#c8d0e0"/>
<clipPath id="fclip"><circle cx="107.2" cy="517.8" r="64.1"/></clipPath>
<circle cx="156" cy="517.5" r="47" fill="#a9abcb" clip-path="url(#fclip)"/>
<text x="93" y="520.5" font-size="10.8" text-anchor="middle" fill="#222">46</text>
<text x="142.7" y="520.5" font-size="10.8" text-anchor="middle" fill="#222">23</text>
<text x="185.7" y="520.5" font-size="10.8" text-anchor="middle" fill="#222">14</text>
<text x="5.4" y="604.8" font-size="22" font-weight="bold">g</text>
<defs>
<clipPath id="ve1"><ellipse cx="70.30" cy="742.80" rx="86.7" ry="42.3" transform="rotate(46.6 70.30 742.80)"/></clipPath>
<clipPath id="ve2"><ellipse cx="106.70" cy="724.10" rx="86.3" ry="43.9" transform="rotate(45.35 106.70 724.10)"/></clipPath>
<clipPath id="ve3"><ellipse cx="112.50" cy="724.10" rx="86.3" ry="43.9" transform="rotate(-45.35 112.50 724.10)"/></clipPath>
<clipPath id="ve4"><ellipse cx="148.90" cy="742.80" rx="86.7" ry="42.3" transform="rotate(-46.6 148.90 742.80)"/></clipPath>
</defs>
<g>
<g clip-path="url(#ve1)"><rect x="0" y="640" width="230" height="180" fill="#bdd7e5"/></g>
<g clip-path="url(#ve2)"><rect x="0" y="640" width="230" height="180" fill="#c6e3b8"/></g>
<g clip-path="url(#ve3)"><rect x="0" y="640" width="230" height="180" fill="#f8bcbc"/></g>
<g clip-path="url(#ve4)"><rect x="0" y="640" width="230" height="180" fill="#d6c6e2"/></g>
<g clip-path="url(#ve2)"><g clip-path="url(#ve1)"><rect x="0" y="640" width="230" height="180" fill="#acd3b0"/></g></g>
<g clip-path="url(#ve3)"><g clip-path="url(#ve1)"><rect x="0" y="640" width="230" height="180" fill="#e4aeb4"/></g></g>
<g clip-path="url(#ve4)"><g clip-path="url(#ve1)"><rect x="0" y="640" width="230" height="180" fill="#bcbcdc"/></g></g>
<g clip-path="url(#ve3)"><g clip-path="url(#ve2)"><rect x="0" y="640" width="230" height="180" fill="#e4b4a2"/></g></g>
<g clip-path="url(#ve4)"><g clip-path="url(#ve2)"><rect x="0" y="640" width="230" height="180" fill="#c4c0cc"/></g></g>
<g clip-path="url(#ve4)"><g clip-path="url(#ve3)"><rect x="0" y="640" width="230" height="180" fill="#d8aac8"/></g></g>
<g clip-path="url(#ve3)"><g clip-path="url(#ve2)"><g clip-path="url(#ve1)"><rect x="0" y="640" width="230" height="180" fill="#dcb0a0"/></g></g></g>
<g clip-path="url(#ve4)"><g clip-path="url(#ve2)"><g clip-path="url(#ve1)"><rect x="0" y="640" width="230" height="180" fill="#b8bcc8"/></g></g></g>
<g clip-path="url(#ve4)"><g clip-path="url(#ve3)"><g clip-path="url(#ve1)"><rect x="0" y="640" width="230" height="180" fill="#cca8cc"/></g></g></g>
<g clip-path="url(#ve4)"><g clip-path="url(#ve3)"><g clip-path="url(#ve2)"><rect x="0" y="640" width="230" height="180" fill="#d0a8bc"/></g></g></g>
<g clip-path="url(#ve4)"><g clip-path="url(#ve3)"><g clip-path="url(#ve2)"><g clip-path="url(#ve1)"><rect x="0" y="640" width="230" height="180" fill="#cca8bc"/></g></g></g></g>
<ellipse cx="70.30" cy="742.80" rx="86.7" ry="42.3" transform="rotate(46.6 70.30 742.80)" fill="none" stroke="#fff" stroke-width="2.0"/>
<ellipse cx="106.70" cy="724.10" rx="86.3" ry="43.9" transform="rotate(45.35 106.70 724.10)" fill="none" stroke="#fff" stroke-width="2.0"/>
<ellipse cx="112.50" cy="724.10" rx="86.3" ry="43.9" transform="rotate(-45.35 112.50 724.10)" fill="none" stroke="#fff" stroke-width="2.0"/>
<ellipse cx="148.90" cy="742.80" rx="86.7" ry="42.3" transform="rotate(-46.6 148.90 742.80)" fill="none" stroke="#fff" stroke-width="2.0"/>
</g>
<text x="24.6" y="717.8" font-size="10.5" text-anchor="middle" fill="#111">25</text>
<text x="76" y="675.8" font-size="10.5" text-anchor="middle" fill="#111">50</text>
<text x="58" y="699.8" font-size="10.5" text-anchor="middle" fill="#111">1</text>
<text x="110.5" y="693.8" font-size="10.5" text-anchor="middle" fill="#111">93</text>
<text x="145.4" y="675.8" font-size="10.5" text-anchor="middle" fill="#111">226</text>
<text x="162" y="699.8" font-size="10.5" text-anchor="middle" fill="#111">227</text>
<text x="196.6" y="717.4" font-size="10.5" text-anchor="middle" fill="#111">510</text>
<text x="81" y="729.4" font-size="10.5" text-anchor="middle" fill="#111">2</text>
<text x="140" y="729.1999999999999" font-size="10.5" text-anchor="middle" fill="#111">244</text>
<text x="109.6" y="758.8" font-size="10.5" text-anchor="middle" fill="#111">9</text>
<text x="64" y="770.4" font-size="10.5" text-anchor="middle" fill="#111">0</text>
<text x="156" y="769.8" font-size="10.5" text-anchor="middle" fill="#111">20</text>
<text x="92.6" y="782.3" font-size="10.5" text-anchor="middle" fill="#111">2</text>
<text x="127" y="781.8" font-size="10.5" text-anchor="middle" fill="#111">1</text>
<text x="109.6" y="799.8" font-size="10.5" text-anchor="middle" fill="#111">6</text>
<text x="51.7" y="650" font-size="10.5">K13</text>
<text x="70.4" y="646.2" font-size="6.4">C580Y/Y493H</text>
<text x="141.4" y="650" font-size="10.5">K13</text>
<text x="160.2" y="646.2" font-size="6.4">G538V</text>
<text x="11" y="787.6" font-size="10.5">MYST</text>
<text x="178" y="788" font-size="10.5">A8</text>
<text x="221.4" y="428.2" font-size="22" font-weight="bold">h</text>
<text x="275.8" y="436" font-size="10.5" text-anchor="middle">Gene ID</text>
<text x="332.6" y="436" font-size="10.5" text-anchor="middle">Name</text>
<text x="404" y="435.8" font-size="10.6" text-anchor="middle"><tspan font-style="italic">Pfmyst</tspan> Expression</text>
<text x="498.2" y="435.8" font-size="10.6" text-anchor="middle">ChIP</text>
<text x="598.6" y="435.8" font-size="10.6" text-anchor="middle"><tspan font-style="italic">PfK13</tspan> Expression</text>
<text x="273.2" y="449.4" font-size="8.05" text-anchor="middle">PF3D7_0830400</text>
<text x="332.4" y="449.4" font-size="8.05" text-anchor="middle">-</text>
<text x="273.2" y="459.40999999999997" font-size="8.05" text-anchor="middle">PF3D7_0708400</text>
<text x="332.4" y="459.40999999999997" font-size="8.05" text-anchor="middle">HSP90</text>
<text x="273.2" y="469.41999999999996" font-size="8.05" text-anchor="middle">PF3D7_0730300</text>
<text x="332.4" y="469.41999999999996" font-size="8.05" text-anchor="middle">ApiAP2</text>
<text x="273.2" y="479.42999999999995" font-size="8.05" text-anchor="middle">PF3D7_1002100</text>
<text x="332.4" y="479.42999999999995" font-size="8.05" text-anchor="middle">PTP5</text>
<text x="273.2" y="489.44" font-size="8.05" text-anchor="middle">PF3D7_0925900</text>
<text x="332.4" y="489.44" font-size="8.05" text-anchor="middle">LCN</text>
<text x="273.2" y="499.45" font-size="8.05" text-anchor="middle">PF3D7_0501400</text>
<text x="332.4" y="499.45" font-size="8.05" text-anchor="middle">FIRA</text>
<text x="273.2" y="509.46" font-size="8.05" text-anchor="middle">PF3D7_1121600</text>
<text x="332.4" y="509.46" font-size="8.05" text-anchor="middle">EXP1</text>
<text x="273.2" y="519.47" font-size="8.05" text-anchor="middle">PF3D7_1406200</text>
<text x="332.4" y="519.47" font-size="8.05" text-anchor="middle">SPT6</text>
<text x="273.2" y="529.48" font-size="8.05" text-anchor="middle">PF3D7_1462300</text>
<text x="332.4" y="529.48" font-size="8.05" text-anchor="middle">-</text>
<text x="273.2" y="539.49" font-size="8.05" text-anchor="middle">PF3D7_0201800</text>
<text x="332.4" y="539.49" font-size="8.05" text-anchor="middle">KAHsp40</text>
<text x="273.2" y="549.5" font-size="8.05" text-anchor="middle">PF3D7_0606000</text>
<text x="332.4" y="549.5" font-size="8.05" text-anchor="middle">KIC1</text>
<text x="273.2" y="559.51" font-size="8.05" text-anchor="middle">PF3D7_1301400</text>
<text x="332.4" y="559.51" font-size="8.05" text-anchor="middle">HYP12</text>
<text x="273.2" y="569.52" font-size="8.05" text-anchor="middle">PF3D7_0206300</text>
<text x="332.4" y="569.52" font-size="8.05" text-anchor="middle">AROM</text>
<text x="273.2" y="579.53" font-size="8.05" text-anchor="middle">PF3D7_1419100</text>
<text x="332.4" y="579.53" font-size="8.05" text-anchor="middle">DDX55</text>
<text x="273.2" y="589.54" font-size="8.05" text-anchor="middle">PF3D7_1242800</text>
<text x="332.4" y="589.54" font-size="8.05" text-anchor="middle">rabGDI</text>
<text x="273.2" y="599.55" font-size="8.05" text-anchor="middle">PF3D7_1344200</text>
<text x="332.4" y="599.55" font-size="8.05" text-anchor="middle">GRP170</text>
<text x="273.2" y="609.56" font-size="8.05" text-anchor="middle">PF3D7_0915600</text>
<text x="332.4" y="609.56" font-size="8.05" text-anchor="middle">-</text>
<text x="273.2" y="619.5699999999999" font-size="8.05" text-anchor="middle">PF3D7_1469300</text>
<text x="332.4" y="619.5699999999999" font-size="8.05" text-anchor="middle">PNO1</text>
<text x="273.2" y="629.5799999999999" font-size="8.05" text-anchor="middle">PF3D7_1372000</text>
<text x="332.4" y="629.5799999999999" font-size="8.05" text-anchor="middle">-</text>
<text x="273.2" y="639.5899999999999" font-size="8.05" text-anchor="middle">PF3D7_1402800</text>
<text x="332.4" y="639.5899999999999" font-size="8.05" text-anchor="middle">-</text>
<text x="273.2" y="649.5999999999999" font-size="8.05" text-anchor="middle">PF3D7_0220600</text>
<text x="332.4" y="649.5999999999999" font-size="8.05" text-anchor="middle">-</text>
<rect x="358.00" y="441.00" width="21.30" height="10.30" fill="#fde4dc"/>
<rect x="379.00" y="441.00" width="23.50" height="10.30" fill="#fde0d8"/>
<rect x="402.20" y="441.00" width="23.10" height="10.30" fill="#fdeae2"/>
<rect x="425.00" y="441.00" width="22.50" height="10.30" fill="#fccfc4"/>
<rect x="358.00" y="451.00" width="21.30" height="10.30" fill="#fcd0c4"/>
<rect x="379.00" y="451.00" width="23.50" height="10.30" fill="#fcd0c4"/>
<rect x="402.20" y="451.00" width="23.10" height="10.30" fill="#fccbbf"/>
<rect x="425.00" y="451.00" width="22.50" height="10.30" fill="#fddcd2"/>
<rect x="358.00" y="461.00" width="21.30" height="10.30" fill="#fde8e0"/>
<rect x="379.00" y="461.00" width="23.50" height="10.30" fill="#fff8f4"/>
<rect x="402.20" y="461.00" width="23.10" height="10.30" fill="#fcd8cc"/>
<rect x="425.00" y="461.00" width="22.50" height="10.30" fill="#fccfc4"/>
<rect x="358.00" y="471.00" width="21.30" height="10.30" fill="#fcd8cc"/>
<rect x="379.00" y="471.00" width="23.50" height="10.30" fill="#fcd8cc"/>
<rect x="402.20" y="471.00" width="23.10" height="10.30" fill="#fcd8cc"/>
<rect x="425.00" y="471.00" width="22.50" height="10.30" fill="#fcd5c9"/>
<rect x="358.00" y="481.00" width="21.30" height="10.30" fill="#f8f6fa"/>
<rect x="379.00" y="481.00" width="23.50" height="10.30" fill="#fff8f4"/>
<rect x="402.20" y="481.00" width="23.10" height="10.30" fill="#fddcd2"/>
<rect x="425.00" y="481.00" width="22.50" height="10.30" fill="#fcd8cc"/>
<rect x="358.00" y="491.00" width="21.30" height="10.30" fill="#fcd2c6"/>
<rect x="379.00" y="491.00" width="23.50" height="10.30" fill="#fbc4b6"/>
<rect x="402.20" y="491.00" width="23.10" height="10.30" fill="#fde9e2"/>
<rect x="425.00" y="491.00" width="22.50" height="10.30" fill="#fcdcd2"/>
<rect x="358.00" y="501.00" width="21.30" height="10.30" fill="#f6f4f8"/>
<rect x="379.00" y="501.00" width="23.50" height="10.30" fill="#fdeeea"/>
<rect x="402.20" y="501.00" width="23.10" height="10.30" fill="#fdece4"/>
<rect x="425.00" y="501.00" width="22.50" height="10.30" fill="#fde0d4"/>
<rect x="358.00" y="511.00" width="21.30" height="10.30" fill="#fbc4b4"/>
<rect x="379.00" y="511.00" width="23.50" height="10.30" fill="#fde0d6"/>
<rect x="402.20" y="511.00" width="23.10" height="10.30" fill="#e8e2f0"/>
<rect x="425.00" y="511.00" width="22.50" height="10.30" fill="#d8cce6"/>
<rect x="358.00" y="521.00" width="21.30" height="10.30" fill="#fdeeea"/>
<rect x="379.00" y="521.00" width="23.50" height="10.30" fill="#fffaf6"/>
<rect x="402.20" y="521.00" width="23.10" height="10.30" fill="#ffffff"/>
<rect x="425.00" y="521.00" width="22.50" height="10.30" fill="#bdaed8"/>
<rect x="358.00" y="531.00" width="21.30" height="10.30" fill="#fde6dc"/>
<rect x="379.00" y="531.00" width="23.50" height="10.30" fill="#ece8f4"/>
<rect x="402.20" y="531.00" width="23.10" height="10.30" fill="#bcb0d8"/>
<rect x="425.00" y="531.00" width="22.50" height="10.30" fill="#cfc4e2"/>
<rect x="358.00" y="541.00" width="21.30" height="10.30" fill="#f6998a"/>
<rect x="379.00" y="541.00" width="23.50" height="10.30" fill="#fbc0b0"/>
<rect x="402.20" y="541.00" width="23.10" height="10.30" fill="#b8aad8"/>
<rect x="425.00" y="541.00" width="22.50" height="10.30" fill="#c8bce0"/>
<rect x="358.00" y="551.00" width="21.30" height="10.30" fill="#aa9ccf"/>
<rect x="379.00" y="551.00" width="23.50" height="10.30" fill="#e0d6ec"/>
<rect x="402.20" y="551.00" width="23.10" height="10.30" fill="#b4a6d6"/>
<rect x="425.00" y="551.00" width="22.50" height="10.30" fill="#b8a8d6"/>
<rect x="358.00" y="561.00" width="21.30" height="10.30" fill="#fbb8a6"/>
<rect x="379.00" y="561.00" width="23.50" height="10.30" fill="#f8f4fa"/>
<rect x="402.20" y="561.00" width="23.10" height="10.30" fill="#c6b8de"/>
<rect x="425.00" y="561.00" width="22.50" height="10.30" fill="#bcacd8"/>
<rect x="358.00" y="571.00" width="21.30" height="10.30" fill="#fbb8a6"/>
<rect x="379.00" y="571.00" width="23.50" height="10.30" fill="#fdeee6"/>
<rect x="402.20" y="571.00" width="23.10" height="10.30" fill="#bcaed8"/>
<rect x="425.00" y="571.00" width="22.50" height="10.30" fill="#ad9ed0"/>
<rect x="358.00" y="581.00" width="21.30" height="10.30" fill="#8a7ec0"/>
<rect x="379.00" y="581.00" width="23.50" height="10.30" fill="#968ac6"/>
<rect x="402.20" y="581.00" width="23.10" height="10.30" fill="#9a8ec8"/>
<rect x="425.00" y="581.00" width="22.50" height="10.30" fill="#9a8ec8"/>
<rect x="358.00" y="591.00" width="21.30" height="10.30" fill="#6660b0"/>
<rect x="379.00" y="591.00" width="23.50" height="10.30" fill="#e0d6ec"/>
<rect x="402.20" y="591.00" width="23.10" height="10.30" fill="#c4b6de"/>
<rect x="425.00" y="591.00" width="22.50" height="10.30" fill="#9a8cc8"/>
<rect x="358.00" y="601.00" width="21.30" height="10.30" fill="#fdeee8"/>
<rect x="379.00" y="601.00" width="23.50" height="10.30" fill="#fcded4"/>
<rect x="402.20" y="601.00" width="23.10" height="10.30" fill="#c4b6de"/>
<rect x="425.00" y="601.00" width="22.50" height="10.30" fill="#7870b8"/>
<rect x="358.00" y="611.00" width="21.30" height="10.30" fill="#f48a78"/>
<rect x="379.00" y="611.00" width="23.50" height="10.30" fill="#f8a898"/>
<rect x="402.20" y="611.00" width="23.10" height="10.30" fill="#8e84c4"/>
<rect x="425.00" y="611.00" width="22.50" height="10.30" fill="#7870b8"/>
<rect x="358.00" y="621.00" width="21.30" height="10.30" fill="#fccabc"/>
<rect x="379.00" y="621.00" width="23.50" height="10.30" fill="#aa9ccf"/>
<rect x="402.20" y="621.00" width="23.10" height="10.30" fill="#a898c8"/>
<rect x="425.00" y="621.00" width="22.50" height="10.30" fill="#5c5cac"/>
<rect x="358.00" y="631.00" width="21.30" height="10.30" fill="#f69888"/>
<rect x="379.00" y="631.00" width="23.50" height="10.30" fill="#d8cce6"/>
<rect x="402.20" y="631.00" width="23.10" height="10.30" fill="#3458ac"/>
<rect x="425.00" y="631.00" width="22.50" height="10.30" fill="#5c5cac"/>
<rect x="358.00" y="641.00" width="21.30" height="10.30" fill="#fccabc"/>
<rect x="379.00" y="641.00" width="23.50" height="10.30" fill="#f8aa98"/>
<rect x="402.20" y="641.00" width="23.10" height="10.30" fill="#8e84c4"/>
<rect x="425.00" y="641.00" width="22.50" height="10.30" fill="#3c5aac"/>
<rect x="453.50" y="441.00" width="21.80" height="10.30" fill="#5ec4b8"/>
<rect x="475.00" y="441.00" width="23.10" height="10.30" fill="#94d4cc"/>
<rect x="497.80" y="441.00" width="23.50" height="10.30" fill="#c4e6e2"/>
<rect x="521.00" y="441.00" width="22.10" height="10.30" fill="#dcf0ec"/>
<rect x="453.50" y="451.00" width="21.80" height="10.30" fill="#94d4cc"/>
<rect x="475.00" y="451.00" width="23.10" height="10.30" fill="#dcf0ec"/>
<rect x="497.80" y="451.00" width="23.50" height="10.30" fill="#fcdce4"/>
<rect x="521.00" y="451.00" width="22.10" height="10.30" fill="#fad4dc"/>
<rect x="453.50" y="461.00" width="21.80" height="10.30" fill="#80ccc2"/>
<rect x="475.00" y="461.00" width="23.10" height="10.30" fill="#f49ab4"/>
<rect x="497.80" y="461.00" width="23.50" height="10.30" fill="#e0f2ee"/>
<rect x="521.00" y="461.00" width="22.10" height="10.30" fill="#d8eeea"/>
<rect x="453.50" y="471.00" width="21.80" height="10.30" fill="#70c8bc"/>
<rect x="475.00" y="471.00" width="23.10" height="10.30" fill="#8ed2ca"/>
<rect x="497.80" y="471.00" width="23.50" height="10.30" fill="#c8e8e4"/>
<rect x="521.00" y="471.00" width="22.10" height="10.30" fill="#b8e2dc"/>
<rect x="453.50" y="481.00" width="21.80" height="10.30" fill="#7ccbc0"/>
<rect x="475.00" y="481.00" width="23.10" height="10.30" fill="#a8dcd4"/>
<rect x="497.80" y="481.00" width="23.50" height="10.30" fill="#c8e8e4"/>
<rect x="521.00" y="481.00" width="22.10" height="10.30" fill="#fad0da"/>
<rect x="453.50" y="491.00" width="21.80" height="10.30" fill="#a0d8d0"/>
<rect x="475.00" y="491.00" width="23.10" height="10.30" fill="#d4eeea"/>
<rect x="497.80" y="491.00" width="23.50" height="10.30" fill="#f4a0b8"/>
<rect x="521.00" y="491.00" width="22.10" height="10.30" fill="#d0ece6"/>
<rect x="453.50" y="501.00" width="21.80" height="10.30" fill="#98d6ce"/>
<rect x="475.00" y="501.00" width="23.10" height="10.30" fill="#a4dad2"/>
<rect x="497.80" y="501.00" width="23.50" height="10.30" fill="#fdf8f8"/>
<rect x="521.00" y="501.00" width="22.10" height="10.30" fill="#eef8f6"/>
<rect x="453.50" y="511.00" width="21.80" height="10.30" fill="#80ccc2"/>
<rect x="475.00" y="511.00" width="23.10" height="10.30" fill="#a8dcd4"/>
<rect x="497.80" y="511.00" width="23.50" height="10.30" fill="#fad4dc"/>
<rect x="521.00" y="511.00" width="22.10" height="10.30" fill="#b8e2dc"/>
<rect x="453.50" y="521.00" width="21.80" height="10.30" fill="#74c8be"/>
<rect x="475.00" y="521.00" width="23.10" height="10.30" fill="#bce4de"/>
<rect x="497.80" y="521.00" width="23.50" height="10.30" fill="#fce4ea"/>
<rect x="521.00" y="521.00" width="22.10" height="10.30" fill="#d0ece6"/>
<rect x="453.50" y="531.00" width="21.80" height="10.30" fill="#a0d8d0"/>
<rect x="475.00" y="531.00" width="23.10" height="10.30" fill="#bce4de"/>
<rect x="497.80" y="531.00" width="23.50" height="10.30" fill="#f6aac0"/>
<rect x="521.00" y="531.00" width="22.10" height="10.30" fill="#b0e0d8"/>
<rect x="453.50" y="541.00" width="21.80" height="10.30" fill="#80ccc2"/>
<rect x="475.00" y="541.00" width="23.10" height="10.30" fill="#d0ece6"/>
<rect x="497.80" y="541.00" width="23.50" height="10.30" fill="#fdf0f4"/>
<rect x="521.00" y="541.00" width="22.10" height="10.30" fill="#f6fafc"/>
<rect x="453.50" y="551.00" width="21.80" height="10.30" fill="#98d6ce"/>
<rect x="475.00" y="551.00" width="23.10" height="10.30" fill="#fce0e6"/>
<rect x="497.80" y="551.00" width="23.50" height="10.30" fill="#f8bccc"/>
<rect x="521.00" y="551.00" width="22.10" height="10.30" fill="#b8e2dc"/>
<rect x="453.50" y="561.00" width="21.80" height="10.30" fill="#78cac0"/>
<rect x="475.00" y="561.00" width="23.10" height="10.30" fill="#8ed2ca"/>
<rect x="497.80" y="561.00" width="23.50" height="10.30" fill="#d4eeea"/>
<rect x="521.00" y="561.00" width="22.10" height="10.30" fill="#a8dcd6"/>
<rect x="453.50" y="571.00" width="21.80" height="10.30" fill="#70c8bc"/>
<rect x="475.00" y="571.00" width="23.10" height="10.30" fill="#a0d8d0"/>
<rect x="497.80" y="571.00" width="23.50" height="10.30" fill="#ffffff"/>
<rect x="521.00" y="571.00" width="22.10" height="10.30" fill="#d4eeea"/>
<rect x="453.50" y="581.00" width="21.80" height="10.30" fill="#88d0c6"/>
<rect x="475.00" y="581.00" width="23.10" height="10.30" fill="#b4e0da"/>
<rect x="497.80" y="581.00" width="23.50" height="10.30" fill="#e8f6f2"/>
<rect x="521.00" y="581.00" width="22.10" height="10.30" fill="#d0ece6"/>
<rect x="453.50" y="591.00" width="21.80" height="10.30" fill="#80ccc2"/>
<rect x="475.00" y="591.00" width="23.10" height="10.30" fill="#ace0d8"/>
<rect x="497.80" y="591.00" width="23.50" height="10.30" fill="#d4eeea"/>
<rect x="521.00" y="591.00" width="22.10" height="10.30" fill="#d0ece6"/>
<rect x="453.50" y="601.00" width="21.80" height="10.30" fill="#78cac0"/>
<rect x="475.00" y="601.00" width="23.10" height="10.30" fill="#74c8be"/>
<rect x="497.80" y="601.00" width="23.50" height="10.30" fill="#b4e0da"/>
<rect x="521.00" y="601.00" width="22.10" height="10.30" fill="#a4dad2"/>
<rect x="453.50" y="611.00" width="21.80" height="10.30" fill="#a0d8d0"/>
<rect x="475.00" y="611.00" width="23.10" height="10.30" fill="#bce4de"/>
<rect x="497.80" y="611.00" width="23.50" height="10.30" fill="#f49ab4"/>
<rect x="521.00" y="611.00" width="22.10" height="10.30" fill="#f2faf8"/>
<rect x="453.50" y="621.00" width="21.80" height="10.30" fill="#70c8bc"/>
<rect x="475.00" y="621.00" width="23.10" height="10.30" fill="#fce0e6"/>
<rect x="497.80" y="621.00" width="23.50" height="10.30" fill="#f6fcfc"/>
<rect x="521.00" y="621.00" width="22.10" height="10.30" fill="#e0f2ee"/>
<rect x="453.50" y="631.00" width="21.80" height="10.30" fill="#a4dad2"/>
<rect x="475.00" y="631.00" width="23.10" height="10.30" fill="#f8c4d2"/>
<rect x="497.80" y="631.00" width="23.50" height="10.30" fill="#f6aec4"/>
<rect x="521.00" y="631.00" width="22.10" height="10.30" fill="#f8c4d2"/>
<rect x="453.50" y="641.00" width="21.80" height="10.30" fill="#a4dad2"/>
<rect x="475.00" y="641.00" width="23.10" height="10.30" fill="#fad8e0"/>
<rect x="497.80" y="641.00" width="23.50" height="10.30" fill="#f49ab4"/>
<rect x="521.00" y="641.00" width="22.10" height="10.30" fill="#b4e2dc"/>
<rect x="548.50" y="441.00" width="21.60" height="10.30" fill="#fde6da"/>
<rect x="569.80" y="441.00" width="23.60" height="10.30" fill="#fde2d4"/>
<rect x="593.10" y="441.00" width="23.70" height="10.30" fill="#fde8dc"/>
<rect x="616.50" y="441.00" width="23.40" height="10.30" fill="#fde2d2"/>
<rect x="548.50" y="451.00" width="21.60" height="10.30" fill="#f2f6f0"/>
<rect x="569.80" y="451.00" width="23.60" height="10.30" fill="#ffffff"/>
<rect x="593.10" y="451.00" width="23.70" height="10.30" fill="#fdf0ea"/>
<rect x="616.50" y="451.00" width="23.40" height="10.30" fill="#fde6da"/>
<rect x="548.50" y="461.00" width="21.60" height="10.30" fill="#fde2d6"/>
<rect x="569.80" y="461.00" width="23.60" height="10.30" fill="#fde0d2"/>
<rect x="593.10" y="461.00" width="23.70" height="10.30" fill="#ffffff"/>
<rect x="616.50" y="461.00" width="23.40" height="10.30" fill="#fffcfa"/>
<rect x="548.50" y="471.00" width="21.60" height="10.30" fill="#fdebe2"/>
<rect x="569.80" y="471.00" width="23.60" height="10.30" fill="#fdf2ec"/>
<rect x="593.10" y="471.00" width="23.70" height="10.30" fill="#fdf0ea"/>
<rect x="616.50" y="471.00" width="23.40" height="10.30" fill="#fde8e0"/>
<rect x="548.50" y="481.00" width="21.60" height="10.30" fill="#fde8de"/>
<rect x="569.80" y="481.00" width="23.60" height="10.30" fill="#fde4d8"/>
<rect x="593.10" y="481.00" width="23.70" height="10.30" fill="#fdeae2"/>
<rect x="616.50" y="481.00" width="23.40" height="10.30" fill="#fde8dc"/>
<rect x="548.50" y="491.00" width="21.60" height="10.30" fill="#fafcfa"/>
<rect x="569.80" y="491.00" width="23.60" height="10.30" fill="#ffffff"/>
<rect x="593.10" y="491.00" width="23.70" height="10.30" fill="#e8f2e6"/>
<rect x="616.50" y="491.00" width="23.40" height="10.30" fill="#fdeee4"/>
<rect x="548.50" y="501.00" width="21.60" height="10.30" fill="#fdf0ec"/>
<rect x="569.80" y="501.00" width="23.60" height="10.30" fill="#fdefea"/>
<rect x="593.10" y="501.00" width="23.70" height="10.30" fill="#fff6f2"/>
<rect x="616.50" y="501.00" width="23.40" height="10.30" fill="#fde6da"/>
<rect x="548.50" y="511.00" width="21.60" height="10.30" fill="#e2eedf"/>
<rect x="569.80" y="511.00" width="23.60" height="10.30" fill="#e6f0e4"/>
<rect x="593.10" y="511.00" width="23.70" height="10.30" fill="#daeada"/>
<rect x="616.50" y="511.00" width="23.40" height="10.30" fill="#dbeada"/>
<rect x="548.50" y="521.00" width="21.60" height="10.30" fill="#eef4ec"/>
<rect x="569.80" y="521.00" width="23.60" height="10.30" fill="#eaf2e8"/>
<rect x="593.10" y="521.00" width="23.70" height="10.30" fill="#f6f8f4"/>
<rect x="616.50" y="521.00" width="23.40" height="10.30" fill="#eaf2e8"/>
<rect x="548.50" y="531.00" width="21.60" height="10.30" fill="#bcdcbc"/>
<rect x="569.80" y="531.00" width="23.60" height="10.30" fill="#d6e8d4"/>
<rect x="593.10" y="531.00" width="23.70" height="10.30" fill="#c0dfbe"/>
<rect x="616.50" y="531.00" width="23.40" height="10.30" fill="#f4a070"/>
<rect x="548.50" y="541.00" width="21.60" height="10.30" fill="#96c898"/>
<rect x="569.80" y="541.00" width="23.60" height="10.30" fill="#9ccc9c"/>
<rect x="593.10" y="541.00" width="23.70" height="10.30" fill="#8ec490"/>
<rect x="616.50" y="541.00" width="23.40" height="10.30" fill="#98ca98"/>
<rect x="548.50" y="551.00" width="21.60" height="10.30" fill="#e8f2e6"/>
<rect x="569.80" y="551.00" width="23.60" height="10.30" fill="#daeada"/>
<rect x="593.10" y="551.00" width="23.70" height="10.30" fill="#d8e8d6"/>
<rect x="616.50" y="551.00" width="23.40" height="10.30" fill="#f4a070"/>
<rect x="548.50" y="561.00" width="21.60" height="10.30" fill="#dcecda"/>
<rect x="569.80" y="561.00" width="23.60" height="10.30" fill="#dce8da"/>
<rect x="593.10" y="561.00" width="23.70" height="10.30" fill="#e4f0e2"/>
<rect x="616.50" y="561.00" width="23.40" height="10.30" fill="#e0eede"/>
<rect x="548.50" y="571.00" width="21.60" height="10.30" fill="#acd6ac"/>
<rect x="569.80" y="571.00" width="23.60" height="10.30" fill="#acd6ac"/>
<rect x="593.10" y="571.00" width="23.70" height="10.30" fill="#9ccc9c"/>
<rect x="616.50" y="571.00" width="23.40" height="10.30" fill="#a4d2a4"/>
<rect x="548.50" y="581.00" width="21.60" height="10.30" fill="#fffcfa"/>
<rect x="569.80" y="581.00" width="23.60" height="10.30" fill="#fdf4f0"/>
<rect x="593.10" y="581.00" width="23.70" height="10.30" fill="#fffffe"/>
<rect x="616.50" y="581.00" width="23.40" height="10.30" fill="#e4f0e2"/>
<rect x="548.50" y="591.00" width="21.60" height="10.30" fill="#fdf8f4"/>
<rect x="569.80" y="591.00" width="23.60" height="10.30" fill="#f4f8f2"/>
<rect x="593.10" y="591.00" width="23.70" height="10.30" fill="#fefafa"/>
<rect x="616.50" y="591.00" width="23.40" height="10.30" fill="#e2eede"/>
<rect x="548.50" y="601.00" width="21.60" height="10.30" fill="#b0d8b0"/>
<rect x="569.80" y="601.00" width="23.60" height="10.30" fill="#c8e2c6"/>
<rect x="593.10" y="601.00" width="23.70" height="10.30" fill="#bcdcbc"/>
<rect x="616.50" y="601.00" width="23.40" height="10.30" fill="#9ccc9c"/>
<rect x="548.50" y="611.00" width="21.60" height="10.30" fill="#9ccc9c"/>
<rect x="569.80" y="611.00" width="23.60" height="10.30" fill="#94c894"/>
<rect x="593.10" y="611.00" width="23.70" height="10.30" fill="#94c894"/>
<rect x="616.50" y="611.00" width="23.40" height="10.30" fill="#84c084"/>
<rect x="548.50" y="621.00" width="21.60" height="10.30" fill="#bcdcbc"/>
<rect x="569.80" y="621.00" width="23.60" height="10.30" fill="#86c086"/>
<rect x="593.10" y="621.00" width="23.70" height="10.30" fill="#5ca858"/>
<rect x="616.50" y="621.00" width="23.40" height="10.30" fill="#86c086"/>
<rect x="548.50" y="631.00" width="21.60" height="10.30" fill="#9ccc9c"/>
<rect x="569.80" y="631.00" width="23.60" height="10.30" fill="#98ca98"/>
<rect x="593.10" y="631.00" width="23.70" height="10.30" fill="#80bc80"/>
<rect x="616.50" y="631.00" width="23.40" height="10.30" fill="#b0d8b0"/>
<rect x="548.50" y="641.00" width="21.60" height="10.30" fill="#88c288"/>
<rect x="569.80" y="641.00" width="23.60" height="10.30" fill="#8cc48c"/>
<rect x="593.10" y="641.00" width="23.70" height="10.30" fill="#94c894"/>
<rect x="616.50" y="641.00" width="23.40" height="10.30" fill="#98ca98"/>
<rect x="237.6" y="441.2" width="71.5" height="211.9" fill="none" stroke="#000" stroke-width="1.3"/>
<rect x="312.6" y="441.2" width="39.6" height="211.9" fill="none" stroke="#000" stroke-width="1.3"/>
<rect x="357.2" y="440.6" width="90.8" height="212" fill="none" stroke="#000" stroke-width="1.6"/>
<rect x="452.8" y="440.6" width="90.8" height="212" fill="none" stroke="#000" stroke-width="1.6"/>
<rect x="547.8" y="440.6" width="92.6" height="212" fill="none" stroke="#000" stroke-width="1.6"/>
<text x="331.5" y="664" font-size="10.5">GlcN</text>
<text x="331.5" y="679.7" font-size="10.5">DHA</text>
<text x="331.5" y="695.5" font-size="10.5">Time</text>
<text x="368.6" y="664" font-size="10.5" text-anchor="middle">-</text>
<text x="368.6" y="679.7" font-size="10.5" text-anchor="middle">-</text>
<text x="368.6" y="695.5" font-size="10.5" text-anchor="middle">6h</text>
<text x="391" y="664" font-size="10.5" text-anchor="middle">+</text>
<text x="391" y="679.7" font-size="10.5" text-anchor="middle">-</text>
<text x="391" y="695.5" font-size="10.5" text-anchor="middle">6h</text>
<text x="413.6" y="664" font-size="10.5" text-anchor="middle">-</text>
<text x="413.6" y="679.7" font-size="10.5" text-anchor="middle">+</text>
<text x="413.6" y="695.5" font-size="10.5" text-anchor="middle">6h</text>
<text x="436.5" y="664" font-size="10.5" text-anchor="middle">+</text>
<text x="436.5" y="679.7" font-size="10.5" text-anchor="middle">+</text>
<text x="436.5" y="695.5" font-size="10.5" text-anchor="middle">6h</text>
<text x="0" y="0" font-size="10.5" text-anchor="end" transform="translate(471.7,661.2) rotate(-45)">H4K5ac</text>
<text x="0" y="0" font-size="10.5" text-anchor="end" transform="translate(494.5,661.2) rotate(-45)">H4K8ac</text>
<text x="0" y="0" font-size="10.5" text-anchor="end" transform="translate(517.3,661.2) rotate(-45)">H4K12ac</text>
<text x="0" y="0" font-size="10.5" text-anchor="end" transform="translate(540.1,661.2) rotate(-45)">H4K16ac</text>
<text x="0" y="0" font-size="10.6" text-anchor="end" transform="translate(565.5,660.6) rotate(-45)">PfK13<tspan font-size="8" dy="-3.8">Y493H</tspan><tspan dy="3.8">(+)_6h</tspan></text>
<text x="0" y="0" font-size="10.6" text-anchor="end" transform="translate(588.2,660.6) rotate(-45)">PfK13<tspan font-size="8" dy="-3.8">C580Y</tspan><tspan dy="3.8">(+)_6h</tspan></text>
<text x="0" y="0" font-size="10.6" text-anchor="end" transform="translate(610.9,660.6) rotate(-45)">PfK13<tspan font-size="8" dy="-3.8">G538V</tspan><tspan dy="3.8">(+)_6h</tspan></text>
<text x="0" y="0" font-size="10.6" text-anchor="end" transform="translate(633.6,660.6) rotate(-45)">A8(+)_6h</text>
<defs><linearGradient id="lg1" x1="0" y1="0" x2="0" y2="1"><stop offset="0" stop-color="#e23a2e"/><stop offset="0.25" stop-color="#f2a494"/><stop offset="0.5" stop-color="#ffffff"/><stop offset="0.72" stop-color="#a49cd0"/><stop offset="1" stop-color="#2f4fa3"/></linearGradient><linearGradient id="lg2" x1="0" y1="0" x2="0" y2="1"><stop offset="0" stop-color="#e03a80"/><stop offset="0.5" stop-color="#ffffff"/><stop offset="1" stop-color="#5ec0b6"/></linearGradient><linearGradient id="lg3" x1="0" y1="0" x2="0" y2="1"><stop offset="0" stop-color="#f0742e"/><stop offset="0.5" stop-color="#ffffff"/><stop offset="1" stop-color="#3a9a46"/></linearGradient></defs>
<rect x="647.60" y="438.50" width="13.60" height="61.30" fill="url(#lg1)"/>
<rect x="647.60" y="527.00" width="13.60" height="61.00" fill="url(#lg2)"/>
<rect x="647.60" y="611.60" width="13.60" height="61.40" fill="url(#lg3)"/>
<text x="654.2" y="436" font-size="8.1" text-anchor="middle">High</text>
<text x="654.2" y="506.6" font-size="8.1" text-anchor="middle">Low</text>
<text x="654.2" y="524.4" font-size="8.1" text-anchor="middle">Up</text>
<text x="654.2" y="594.4" font-size="8.1" text-anchor="middle">Down</text>
<text x="654.2" y="608" font-size="8.1" text-anchor="middle">High</text>
<text x="654.2" y="680" font-size="8.1" text-anchor="middle">Low</text>
<text x="0" y="0" font-size="8.2" text-anchor="middle" transform="translate(670.2,470) rotate(-90)">Target Cluster /</text>
<text x="0" y="0" font-size="8.2" text-anchor="middle" transform="translate(679.6,468.5) rotate(-90)">Other Clusters</text>
<text x="0" y="0" font-size="8.2" text-anchor="middle" transform="translate(673.8,556.5) rotate(-90)">PfM-KD(+) / PfM-KD(-)</text>
<text x="0" y="0" font-size="8.2" text-anchor="middle" transform="translate(670.2,644.5) rotate(-90)">Target Cluster /</text>
<text x="0" y="0" font-size="8.2" text-anchor="middle" transform="translate(679.6,643) rotate(-90)">Other Clusters</text>
<text x="224.6" y="734.6" font-size="22" font-weight="bold">i</text>
<rect x="450.20" y="733.30" width="195.60" height="14.80" fill="#9dc49a"/>
<text x="436.6" y="744.0999999999999" font-size="10.7" text-anchor="end">regulation of apoptotic signaling pathway</text>
<text x="453.6" y="744.0999999999999" font-size="10.8" fill="#111">PF3D7_1344200</text>
<line x1="438.2" y1="740.6999999999999" x2="440.4" y2="740.6999999999999" stroke="#333" stroke-width="0.6"/>
<rect x="450.20" y="749.90" width="195.60" height="14.80" fill="#9dc49a"/>
<text x="436.6" y="760.6999999999999" font-size="10.7" text-anchor="end">cellular response to hypoxia</text>
<text x="453.6" y="760.6999999999999" font-size="10.8" fill="#111">PF3D7_1344200</text>
<line x1="438.2" y1="757.3" x2="440.4" y2="757.3" stroke="#333" stroke-width="0.6"/>
<rect x="450.20" y="766.50" width="195.60" height="14.80" fill="#9dc49a"/>
<text x="436.6" y="777.3" font-size="10.7" text-anchor="end">regulation of histone deacetylase activity</text>
<text x="453.6" y="777.3" font-size="10.8" fill="#111">PF3D7_0708400</text>
<line x1="438.2" y1="773.9" x2="440.4" y2="773.9" stroke="#333" stroke-width="0.6"/>
<rect x="450.20" y="783.10" width="170.30" height="14.80" fill="#9dc49a"/>
<text x="436.6" y="793.9" font-size="10.7" text-anchor="end">response to stress</text>
<text x="453.6" y="793.9" font-size="10.8" fill="#111">PF3D7_1344200</text>
<line x1="438.2" y1="790.5" x2="440.4" y2="790.5" stroke="#333" stroke-width="0.6"/>
<rect x="450.20" y="799.60" width="155.60" height="14.80" fill="#9dc49a"/>
<text x="436.6" y="810.4" font-size="10.7" text-anchor="end">regulation of protein stability</text>
<text x="453.6" y="810.4" font-size="10.8" fill="#111">PF3D7_0708400</text>
<line x1="438.2" y1="807.0" x2="440.4" y2="807.0" stroke="#333" stroke-width="0.6"/>
<rect x="450.20" y="823.60" width="170.40" height="14.80" fill="#9dc49a"/>
<text x="436.6" y="834.4" font-size="10.7" text-anchor="end">migration in host</text>
<text x="453.6" y="834.4" font-size="10.8" fill="#111">PF3D7_1246200</text>
<line x1="438.2" y1="831.0" x2="440.4" y2="831.0" stroke="#333" stroke-width="0.6"/>
<rect x="450.20" y="840.30" width="195.80" height="14.80" fill="#9dc49a"/>
<text x="436.6" y="851.0999999999999" font-size="10.7" text-anchor="end">cell cycle arrest</text>
<text x="453.6" y="851.0999999999999" font-size="10.8" fill="#111">PF3D7_1428300</text>
<line x1="438.2" y1="847.6999999999999" x2="440.4" y2="847.6999999999999" stroke="#333" stroke-width="0.6"/>
<rect x="450.20" y="856.90" width="126.10" height="14.80" fill="#9dc49a"/>
<text x="436.6" y="867.6999999999999" font-size="10.7" text-anchor="end">cell adhesion</text>
<text x="453.6" y="867.6999999999999" font-size="10.8" fill="#111">PF3D7_0102500, PF3D7_0402300</text>
<line x1="438.2" y1="864.3" x2="440.4" y2="864.3" stroke="#333" stroke-width="0.6"/>
<line x1="440.6" y1="731" x2="440.6" y2="815.3" stroke="#000" stroke-width="1.3"/>
<line x1="440.6" y1="822.8" x2="440.6" y2="877.3" stroke="#000" stroke-width="1.3"/>
<line x1="440" y1="876.7" x2="655" y2="876.7" stroke="#000" stroke-width="1.3"/>
<line x1="450.3" y1="876.7" x2="450.3" y2="879" stroke="#333" stroke-width="0.6"/>
<text x="450.3" y="886.8" font-size="10.5" text-anchor="middle">0.0</text>
<line x1="491.3" y1="876.7" x2="491.3" y2="879" stroke="#333" stroke-width="0.6"/>
<text x="491.3" y="886.8" font-size="10.5" text-anchor="middle">0.5</text>
<line x1="532.3" y1="876.7" x2="532.3" y2="879" stroke="#333" stroke-width="0.6"/>
<text x="532.3" y="886.8" font-size="10.5" text-anchor="middle">1.0</text>
<line x1="573.3" y1="876.7" x2="573.3" y2="879" stroke="#333" stroke-width="0.6"/>
<text x="573.3" y="886.8" font-size="10.5" text-anchor="middle">1.5</text>
<line x1="614.3" y1="876.7" x2="614.3" y2="879" stroke="#333" stroke-width="0.6"/>
<text x="614.3" y="886.8" font-size="10.5" text-anchor="middle">2.0</text>
<text x="560.3" y="896.4" font-size="10.5" text-anchor="middle">−Log10(P value)</text>
<line x1="657.8" y1="732.8" x2="657.8" y2="813.5" stroke="#111" stroke-width="1.1"/>
<line x1="657.8" y1="823.3" x2="657.8" y2="872.8" stroke="#111" stroke-width="1.1"/>
<text x="0" y="0" font-size="10.7" text-anchor="middle" transform="translate(664.2,774.8) rotate(90)">Common</text>
<text x="0" y="0" font-size="10.7" text-anchor="middle" transform="translate(664.2,849.5) rotate(90)">Specific</text>
</svg>
</body></html>
